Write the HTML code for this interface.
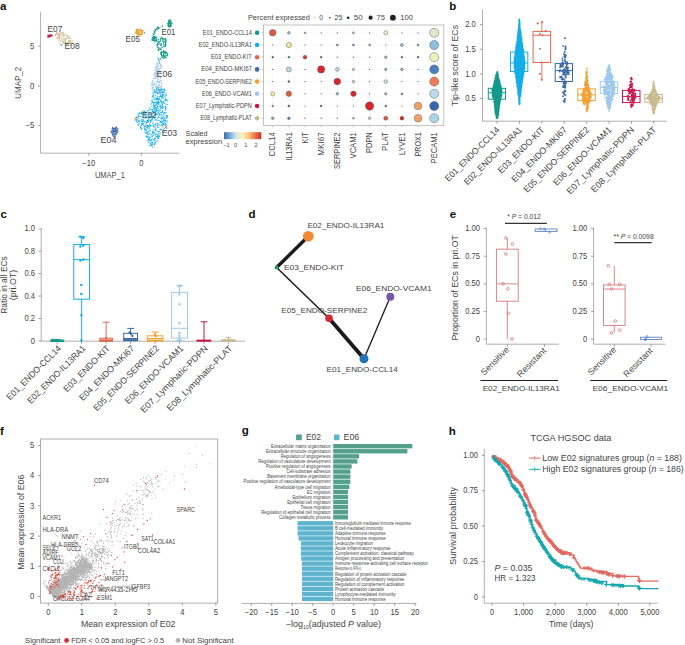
<!DOCTYPE html><html><head><meta charset="utf-8"><style>html,body{margin:0;padding:0;background:#fff;}svg{display:block;font-family:"Liberation Sans",sans-serif;}</style></head><body><svg width="685" height="645" viewBox="0 0 685 645"><rect width="685" height="645" fill="#fff"/><text x="0.00" y="10.40" font-size="11.5" fill="#111" font-weight="bold">a</text><text x="449.20" y="10.40" font-size="11.5" fill="#111" font-weight="bold">b</text><text x="0.60" y="217.80" font-size="11.5" fill="#111" font-weight="bold">c</text><text x="248.60" y="217.80" font-size="11.5" fill="#111" font-weight="bold">d</text><text x="449.80" y="218.00" font-size="11.5" fill="#111" font-weight="bold">e</text><text x="0.00" y="434.90" font-size="11.5" fill="#111" font-weight="bold">f</text><text x="241.80" y="433.60" font-size="11.5" fill="#111" font-weight="bold">g</text><text x="448.80" y="434.90" font-size="11.5" fill="#111" font-weight="bold">h</text><line x1="40.60" y1="12.00" x2="40.60" y2="153.20" stroke="#9a9a9a" stroke-width="0.8"/><line x1="40.60" y1="153.20" x2="179.20" y2="153.20" stroke="#9a9a9a" stroke-width="0.8"/><line x1="38.00" y1="46.10" x2="40.60" y2="46.10" stroke="#888" stroke-width="0.8"/><text x="34.30" y="48.70" font-size="8.13" text-anchor="end" textLength="4.23" lengthAdjust="spacingAndGlyphs" fill="#444">5</text><line x1="38.00" y1="86.00" x2="40.60" y2="86.00" stroke="#888" stroke-width="0.8"/><text x="34.30" y="88.60" font-size="8.13" text-anchor="end" textLength="4.23" lengthAdjust="spacingAndGlyphs" fill="#444">0</text><line x1="38.00" y1="125.60" x2="40.60" y2="125.60" stroke="#888" stroke-width="0.8"/><text x="34.30" y="128.20" font-size="8.13" text-anchor="end" textLength="8.67" lengthAdjust="spacingAndGlyphs" fill="#444">−5</text><line x1="88.80" y1="153.20" x2="88.80" y2="155.80" stroke="#888" stroke-width="0.8"/><text x="88.80" y="165.60" font-size="8.13" text-anchor="middle" textLength="12.89" lengthAdjust="spacingAndGlyphs" fill="#444">−10</text><line x1="141.40" y1="153.20" x2="141.40" y2="155.80" stroke="#888" stroke-width="0.8"/><text x="141.40" y="165.60" font-size="8.13" text-anchor="middle" textLength="4.23" lengthAdjust="spacingAndGlyphs" fill="#444">0</text><text x="109.85" y="177.90" font-size="8.99" text-anchor="middle" textLength="29.90" lengthAdjust="spacingAndGlyphs" fill="#444">UMAP_1</text><text x="21.00" y="82.80" font-size="9.2" text-anchor="middle" textLength="31.80" lengthAdjust="spacingAndGlyphs" fill="#444" transform="rotate(-90 21.00 82.80)">UMAP_2</text><path d="M159.6 60.5h0M158.2 70.8h0M156.8 86.9h0M159.3 91.2h0M158.7 71.9h0M155.4 86.6h0M153.8 78.4h0M159.5 71.0h0M158.3 60.2h0M160.0 73.0h0M155.4 78.5h0M157.2 68.5h0M161.4 82.5h0M154.6 78.1h0M158.1 88.6h0M160.6 68.1h0M156.7 84.5h0M160.2 78.8h0M158.7 74.0h0M162.0 91.1h0M157.4 81.2h0M152.3 82.6h0M159.6 92.8h0M156.3 81.4h0M152.2 84.9h0M156.4 88.5h0M158.4 88.9h0M161.7 88.2h0M155.0 72.5h0M156.0 88.9h0M154.4 75.0h0M158.9 67.2h0M156.1 77.8h0M157.9 79.6h0M160.0 59.9h0M156.4 72.0h0M152.8 80.2h0M151.8 88.6h0M159.2 63.2h0M162.1 92.8h0M157.3 74.9h0M155.8 67.3h0M158.1 63.1h0M158.3 58.9h0M158.1 92.2h0M154.8 70.8h0M153.6 85.0h0M158.2 85.3h0M161.6 92.5h0M154.3 76.1h0M154.7 82.2h0M163.2 92.6h0M159.3 89.5h0M159.7 86.0h0M152.6 81.1h0M153.7 85.6h0M155.7 86.0h0M156.5 91.1h0M160.6 64.0h0M153.3 86.9h0M155.9 77.2h0M158.1 90.7h0M156.9 88.5h0M161.8 65.4h0M154.5 78.5h0M154.7 72.7h0M153.1 89.9h0M155.9 74.0h0M158.8 89.7h0M156.8 90.1h0M157.8 76.6h0M158.0 58.7h0M157.0 64.4h0M160.6 77.5h0M155.6 76.1h0M158.4 85.4h0M158.5 84.6h0M159.2 75.7h0M157.9 82.2h0M157.2 76.7h0M157.5 91.0h0M160.2 88.7h0M158.5 91.0h0M152.4 81.4h0M161.3 89.4h0M153.4 83.1h0M159.8 63.0h0M162.5 91.9h0M154.2 91.3h0M156.5 75.1h0M157.9 69.9h0M160.5 58.7h0M158.4 73.4h0M159.3 75.9h0M152.3 92.5h0M161.4 92.0h0M152.0 85.3h0M156.8 89.9h0M161.7 67.1h0M153.4 90.2h0M158.6 82.5h0M160.1 72.9h0M152.4 90.8h0M159.4 86.1h0M152.5 88.0h0M152.3 88.2h0M157.2 69.9h0M158.4 90.4h0M158.1 66.3h0M155.4 68.7h0M161.0 68.1h0M157.8 64.2h0M160.7 77.3h0M153.9 74.6h0M157.7 87.2h0M156.4 75.7h0M160.1 92.4h0M155.8 87.1h0M160.3 80.3h0M156.6 70.2h0M152.4 83.9h0M152.6 87.4h0M155.2 74.1h0M154.8 91.7h0M154.6 91.8h0M155.4 70.5h0M157.4 75.6h0M154.0 75.7h0M158.8 76.5h0M160.9 81.0h0M160.4 88.8h0M156.4 69.4h0M160.6 80.5h0M152.0 87.2h0M160.7 86.4h0M157.8 87.2h0M161.6 86.9h0M158.8 89.2h0M160.0 82.3h0M152.8 87.3h0M158.5 80.0h0M159.3 81.8h0M157.6 58.1h0M161.5 84.2h0M157.8 76.7h0M159.7 60.3h0M160.7 66.8h0M160.6 65.2h0M160.7 92.2h0M157.7 71.4h0M157.5 81.9h0M159.5 60.7h0M160.8 68.7h0M158.6 58.4h0M159.9 82.2h0M159.9 68.2h0M158.0 74.3h0M157.3 62.1h0M161.7 91.9h0M157.1 67.4h0M154.1 91.1h0M154.1 78.4h0M154.4 89.4h0M157.6 58.9h0M157.1 68.6h0M155.5 87.4h0M151.5 84.3h0M156.2 71.8h0M156.0 73.0h0M152.8 87.2h0M155.1 90.7h0M157.9 64.6h0M156.2 91.5h0M159.4 90.0h0M160.5 59.7h0M160.7 73.8h0M160.9 80.6h0M157.4 70.0h0M155.2 83.9h0M159.7 68.5h0M158.5 71.8h0M154.1 89.7h0M157.7 65.7h0M162.8 92.9h0M157.1 62.9h0M158.6 89.1h0M160.9 72.4h0M156.7 76.3h0M156.2 69.8h0M157.8 80.0h0M156.5 73.6h0M151.9 82.8h0M158.8 58.0h0M156.4 90.4h0M161.8 87.9h0M158.0 81.9h0M159.6 84.8h0M157.2 77.3h0M152.0 85.4h0M154.4 90.2h0M159.6 68.6h0M159.5 82.5h0M158.1 78.4h0M156.4 65.8h0M159.0 58.4h0M155.3 74.1h0M157.7 81.6h0M156.8 67.0h0M159.8 90.4h0M155.7 72.7h0M160.0 64.9h0M161.5 83.9h0M157.8 65.2h0M161.8 66.1h0M154.3 84.6h0M155.2 91.3h0M157.7 64.6h0M154.3 72.6h0M159.8 91.2h0M154.2 92.1h0M162.7 88.9h0M160.7 92.9h0M153.8 90.8h0M160.8 59.1h0M159.8 71.3h0M156.2 69.6h0M155.0 70.3h0M156.0 86.8h0M156.2 90.2h0M156.6 86.4h0M161.1 59.4h0M160.8 89.4h0M155.7 67.5h0M154.8 83.1h0M155.5 67.6h0M151.5 84.4h0M154.4 74.6h0M163.5 91.4h0M156.3 66.8h0M156.9 75.3h0M161.5 83.8h0M161.8 85.0h0M159.1 69.5h0M155.5 70.7h0M161.3 60.8h0M154.0 84.4h0M155.6 92.3h0M162.5 92.6h0M160.4 73.6h0M154.4 72.6h0M159.3 81.6h0M160.8 87.6h0M159.8 62.2h0M158.6 71.1h0M160.7 65.0h0M153.4 88.9h0M158.7 69.4h0M156.5 92.7h0M157.8 66.1h0M157.4 86.7h0" stroke="#9ec9ea" stroke-width="1.10" stroke-linecap="round" fill="none"/><path d="M167.1 122.0h0M165.7 109.3h0M163.6 113.9h0M166.2 93.3h0M154.7 124.2h0M143.4 123.0h0M156.5 99.2h0M157.4 98.1h0M161.2 119.9h0M148.0 120.0h0M156.1 92.5h0M145.3 121.0h0M146.8 112.0h0M159.0 99.2h0M149.0 136.2h0M148.4 140.0h0M135.5 120.1h0M156.1 141.6h0M137.9 124.3h0M147.2 117.3h0M152.2 142.5h0M138.6 116.4h0M165.6 110.3h0M164.8 124.2h0M162.2 96.6h0M160.9 100.3h0M148.3 137.8h0M162.4 98.0h0M142.2 111.0h0M152.1 110.0h0M136.4 120.7h0M160.0 89.3h0M162.7 94.1h0M154.8 120.0h0M155.7 105.4h0M148.9 122.0h0M149.0 126.5h0M149.7 113.3h0M160.2 133.8h0M139.2 112.8h0M138.0 113.5h0M156.0 91.9h0M159.2 133.7h0M151.6 109.7h0M166.4 95.2h0M159.2 135.9h0M151.2 144.4h0M165.2 96.9h0M160.0 96.5h0M164.6 103.5h0M161.9 95.6h0M151.6 142.2h0M151.7 106.1h0M157.4 140.7h0M138.8 118.8h0M156.0 108.6h0M163.8 120.3h0M154.1 140.0h0M155.8 110.7h0M161.3 102.9h0M146.9 132.9h0M159.5 89.9h0M162.1 102.2h0M154.3 126.8h0M155.3 112.9h0M151.9 140.7h0M156.6 88.3h0M142.4 122.0h0M154.4 99.3h0M155.6 115.5h0M138.2 125.3h0M153.6 108.0h0M156.3 113.6h0M136.5 118.9h0M166.1 95.5h0M141.6 123.5h0M151.7 125.5h0M161.8 97.5h0M160.8 129.9h0M159.6 114.9h0M159.5 114.1h0M146.1 132.0h0M157.9 137.7h0M158.5 103.0h0M153.3 113.2h0M161.0 118.4h0M143.8 125.5h0M166.8 100.0h0M159.6 106.6h0M164.0 106.7h0M155.8 128.6h0M150.5 137.4h0M158.0 138.5h0M149.4 130.5h0M153.8 105.5h0M142.0 124.4h0M157.9 125.0h0M158.0 131.2h0M137.2 122.4h0M147.0 136.1h0M155.9 136.5h0M155.8 104.2h0M160.0 99.3h0M145.5 112.4h0M144.3 129.9h0M166.8 117.2h0M163.1 124.1h0M149.4 133.4h0M146.4 129.3h0M152.8 100.0h0M163.5 92.5h0M162.1 97.2h0M151.2 134.8h0M141.1 116.7h0M146.5 136.9h0M158.1 116.9h0M138.6 125.2h0M158.0 134.2h0M155.7 108.3h0M148.2 110.7h0M164.4 92.2h0M164.7 117.1h0M147.5 140.0h0M142.7 114.7h0M152.5 132.3h0M159.8 125.8h0M156.8 131.5h0M140.6 113.3h0M160.5 121.8h0M139.2 114.7h0M164.2 101.3h0M158.2 137.6h0M152.2 96.7h0M159.2 113.1h0M141.5 125.3h0M148.2 134.5h0M157.9 117.0h0M155.9 114.8h0M139.7 123.2h0M148.4 131.5h0M165.0 112.8h0M153.9 131.9h0M160.5 129.0h0M163.1 127.8h0M156.2 114.2h0M145.3 124.7h0M160.8 129.8h0M155.8 102.0h0M149.0 114.3h0M155.5 111.6h0M141.0 126.3h0M160.7 110.3h0M151.2 145.5h0M136.3 119.6h0M166.0 118.2h0M138.3 121.5h0M152.9 130.0h0M151.9 125.4h0M162.4 118.3h0M141.9 128.1h0M148.0 132.8h0M144.1 111.0h0M148.9 128.9h0M166.0 118.6h0M161.7 125.1h0M150.5 120.7h0M146.7 125.3h0M153.1 94.5h0M162.5 108.3h0M163.1 103.0h0M145.0 115.8h0M149.1 125.2h0M156.8 108.7h0M156.6 102.0h0M155.1 133.9h0M157.1 140.6h0M141.5 128.6h0M152.5 131.5h0M149.5 140.0h0M153.3 102.9h0M151.2 116.9h0M152.8 138.8h0M150.4 120.8h0M157.0 137.4h0M147.4 112.1h0M156.0 125.2h0M151.9 116.1h0M158.7 124.5h0M147.1 115.5h0M152.3 133.2h0M142.0 113.1h0M148.9 120.2h0M162.3 104.6h0M162.3 111.2h0M151.6 103.3h0M151.7 145.5h0M156.6 134.5h0M144.9 122.2h0M155.9 134.1h0M164.2 119.7h0M165.4 123.5h0M156.7 134.3h0M165.0 123.7h0M155.4 124.6h0M158.0 122.8h0M157.5 99.8h0M157.0 114.5h0M160.2 93.1h0M156.6 109.1h0M153.5 102.5h0M145.0 112.3h0M145.5 112.8h0M136.8 121.1h0M161.7 121.5h0M165.3 113.8h0M154.5 143.3h0M167.4 115.5h0M156.3 99.7h0M158.7 101.5h0M159.2 98.2h0M158.5 138.3h0M159.1 92.1h0M155.7 129.6h0M150.2 142.9h0M158.7 87.7h0M162.0 91.8h0M145.3 130.8h0M147.1 121.5h0M149.5 127.6h0M147.0 125.7h0M155.8 112.1h0M147.7 134.2h0M153.7 104.5h0M158.2 136.6h0M146.0 123.3h0M154.8 105.5h0M149.1 140.3h0M147.4 128.1h0M154.9 140.8h0M161.6 104.0h0M148.9 122.2h0M153.9 103.4h0M153.3 134.8h0M165.7 101.0h0M155.0 127.7h0M161.1 114.6h0M160.5 101.0h0M154.1 140.8h0M164.2 118.3h0M150.7 122.4h0M147.0 120.9h0M148.3 118.0h0M138.5 125.0h0M161.0 96.4h0M154.7 107.7h0M163.6 116.2h0M153.7 102.7h0M160.7 112.6h0M153.4 139.2h0M150.1 143.8h0M165.0 90.9h0M154.7 110.8h0M143.5 120.9h0M157.1 110.6h0M162.6 89.8h0M161.0 129.6h0M157.3 104.9h0M154.5 132.5h0M157.4 87.8h0M158.7 98.7h0M139.6 113.8h0M162.8 124.7h0M149.9 107.4h0M162.2 115.7h0M155.7 95.6h0M158.6 120.2h0M143.8 111.7h0M162.7 107.1h0M140.5 116.5h0M157.1 99.7h0M150.8 104.2h0M164.6 90.4h0M159.0 104.6h0M161.6 107.5h0M162.5 118.6h0M141.1 113.1h0M165.1 100.1h0M153.9 95.3h0M158.5 98.8h0M155.1 116.7h0M155.2 129.5h0M161.8 122.0h0M159.2 111.5h0M158.8 90.3h0M161.8 107.1h0M165.0 115.6h0M163.8 103.0h0M147.2 122.7h0M149.7 117.9h0M145.6 129.7h0M147.6 132.1h0M166.5 116.7h0M151.9 118.8h0M166.9 100.4h0M158.1 98.7h0M154.0 118.4h0M158.2 93.2h0M163.7 130.0h0M151.3 117.0h0M154.5 138.7h0M139.9 121.4h0M159.6 96.9h0M147.8 112.2h0M162.7 118.5h0M160.6 107.3h0M136.8 118.0h0M143.2 112.3h0M155.9 108.9h0M149.3 117.3h0M165.9 125.0h0M164.2 89.1h0M156.2 102.9h0M157.4 103.4h0M152.9 142.5h0M155.5 102.0h0M152.2 113.0h0M166.4 104.3h0M145.1 125.9h0M139.0 122.7h0M166.6 117.8h0M143.9 115.0h0M152.6 95.9h0M144.7 111.4h0M137.9 119.8h0M162.7 123.6h0M153.8 126.0h0M150.2 119.9h0M155.2 115.1h0M142.3 117.7h0M147.6 122.1h0M163.4 101.3h0M153.4 116.5h0M163.8 113.4h0M149.5 131.1h0M146.6 127.5h0M155.3 138.0h0M162.1 118.1h0M159.4 131.6h0M160.1 115.5h0M160.9 129.5h0M165.2 94.6h0M160.3 122.2h0M151.4 144.8h0M153.9 112.1h0M155.0 109.8h0M149.9 114.5h0M158.9 104.6h0M147.9 120.3h0M151.5 113.6h0M139.8 121.5h0M154.2 92.3h0M165.4 106.4h0M166.6 99.3h0M149.1 141.6h0M153.6 116.8h0M152.8 146.9h0M152.1 118.0h0M157.6 110.4h0M146.8 122.7h0M157.3 118.5h0M148.2 120.7h0M153.9 139.8h0M166.8 116.2h0M149.5 124.5h0M152.5 136.0h0M164.5 128.4h0M164.3 112.3h0M151.9 117.3h0M155.8 123.2h0M156.0 89.5h0M148.6 134.3h0M145.1 128.4h0M162.8 122.2h0M157.0 98.8h0M151.4 120.2h0M143.8 125.8h0M152.5 146.8h0M154.0 111.7h0M160.1 93.4h0M152.2 136.4h0M155.2 135.4h0M160.4 106.4h0M158.6 108.2h0M154.2 107.9h0M149.8 110.1h0M154.2 144.6h0M149.5 124.2h0M161.9 105.2h0M154.9 144.6h0M151.4 144.0h0M158.7 100.3h0M151.0 134.6h0M167.1 104.4h0M153.5 93.9h0M152.6 110.1h0M156.9 107.5h0M162.6 94.7h0M149.6 137.2h0M161.6 96.6h0M146.6 130.3h0M151.7 100.6h0M158.3 102.6h0M164.7 122.3h0M155.1 99.8h0M163.8 94.4h0M151.9 119.6h0M147.7 126.5h0M153.7 105.6h0M145.6 126.8h0M138.6 120.7h0M146.9 117.0h0M144.3 111.2h0M156.9 108.1h0M148.6 126.5h0M158.1 101.9h0M162.9 108.1h0M155.8 97.9h0M159.2 129.8h0M156.1 97.8h0M162.7 121.2h0M158.6 102.3h0M149.4 128.1h0M163.2 123.4h0M159.7 92.2h0M157.9 110.6h0M159.7 136.7h0M166.2 112.4h0M159.4 136.8h0M155.7 114.2h0M149.1 117.7h0M165.6 94.7h0M160.1 89.6h0M158.2 135.3h0M143.6 119.8h0M152.9 102.0h0M158.3 127.2h0M152.0 113.7h0M165.9 108.1h0M139.7 120.8h0M146.0 135.9h0M153.1 132.6h0M140.6 127.0h0M154.8 114.7h0M141.5 129.1h0M145.7 115.1h0M167.3 120.8h0M138.6 116.3h0M165.3 125.7h0M155.7 143.1h0M156.5 102.1h0M162.7 104.8h0M141.1 125.3h0M162.4 131.5h0M162.2 106.2h0M147.2 120.1h0M147.2 136.9h0M153.7 124.7h0M162.1 129.3h0M151.3 117.0h0M154.2 91.8h0M157.7 96.8h0M149.6 145.2h0M158.9 87.2h0M161.0 112.5h0M144.3 126.7h0M152.0 112.3h0M146.2 113.3h0M157.0 136.6h0M164.8 96.9h0M144.8 113.6h0M153.6 107.9h0M145.7 114.6h0M166.7 124.2h0M161.8 90.6h0M157.3 123.5h0M144.8 121.3h0M166.4 115.8h0M156.4 105.0h0M157.4 113.8h0M147.3 121.8h0M148.7 118.8h0M153.6 110.8h0M164.4 119.9h0M152.5 102.1h0M151.1 120.2h0M142.5 121.4h0M138.7 117.8h0M154.4 91.8h0M149.5 138.8h0M153.2 129.9h0M160.0 93.9h0M166.7 120.8h0M160.6 95.2h0M160.6 90.5h0M158.3 112.6h0M164.3 124.3h0M163.8 120.8h0M146.3 132.8h0M157.5 136.5h0M158.8 89.6h0M154.9 93.0h0M153.1 135.2h0M157.3 102.3h0M141.4 113.8h0M162.7 121.9h0M141.1 120.3h0M144.6 128.2h0M163.9 119.3h0M157.8 135.5h0M151.6 139.4h0M161.4 89.1h0M157.4 110.6h0M162.9 110.6h0M163.8 123.7h0M150.4 121.6h0M150.2 146.2h0M157.1 103.4h0M144.0 117.0h0M143.6 121.1h0M152.4 144.4h0M153.5 133.3h0M155.9 125.1h0M145.0 132.8h0M159.4 117.5h0M156.0 108.0h0M153.2 111.4h0M150.9 109.0h0M150.0 113.7h0M153.8 105.1h0M159.0 120.1h0M165.9 107.4h0M165.4 122.0h0M146.8 133.5h0M149.1 139.1h0M137.2 116.1h0M164.7 103.6h0M158.2 100.1h0M154.9 138.8h0M156.4 98.8h0M154.8 91.8h0M141.2 119.2h0M163.9 125.4h0M165.5 99.7h0M145.8 132.0h0M156.4 111.3h0M157.4 107.3h0M146.0 116.7h0M154.7 102.4h0M165.5 120.8h0M155.3 130.4h0M160.3 92.4h0M161.9 112.4h0M152.8 122.3h0M153.3 126.4h0M154.9 106.9h0M159.5 102.5h0M158.5 132.8h0M160.6 105.6h0M152.3 143.5h0M150.7 126.3h0M160.5 108.7h0M167.7 100.7h0M160.0 92.4h0M137.0 117.1h0M153.3 97.9h0M166.0 108.9h0M160.7 101.6h0M167.4 116.9h0M156.0 107.7h0M161.4 114.6h0M148.3 138.8h0M137.0 120.9h0M148.5 142.1h0M166.2 124.6h0M143.7 113.0h0M160.1 125.6h0M142.1 121.2h0M163.7 103.0h0M159.8 136.4h0M151.0 140.5h0M140.3 128.0h0M154.7 114.2h0M154.1 140.0h0M146.9 133.8h0M163.5 97.9h0M157.5 92.4h0M157.8 89.3h0M151.7 100.9h0M139.0 116.2h0M139.5 112.7h0M140.9 128.1h0M146.7 116.8h0M165.3 108.0h0M136.4 117.5h0M148.5 120.4h0M157.7 126.2h0M153.0 119.9h0M163.8 130.1h0M147.8 110.1h0M155.1 142.6h0M143.4 123.7h0M165.0 90.0h0M157.9 106.5h0M156.3 119.9h0M163.2 117.6h0M142.7 124.8h0M159.5 109.7h0M158.5 110.6h0M152.4 123.8h0M157.3 106.3h0M155.8 119.6h0M142.4 123.8h0M150.6 130.3h0M152.2 115.6h0M165.6 118.7h0M152.3 118.6h0M161.8 101.3h0M150.2 125.4h0M163.6 89.6h0M147.6 136.9h0M162.0 94.4h0M161.5 118.3h0M157.9 114.0h0M150.8 134.9h0M160.0 96.0h0M157.4 109.0h0M152.2 101.3h0M141.6 121.2h0M158.7 103.5h0M162.5 92.5h0M156.0 138.5h0M141.7 112.4h0M161.1 124.1h0M149.6 109.0h0M158.5 104.7h0M148.5 125.9h0M161.8 108.1h0M147.7 121.7h0M165.5 98.5h0M147.3 126.9h0M159.9 109.8h0M152.4 116.8h0M150.3 114.7h0M162.7 111.9h0M150.6 140.4h0M149.5 116.5h0M151.9 136.5h0M157.1 131.4h0M157.4 120.2h0M160.4 133.2h0M159.9 120.9h0M158.5 116.0h0M148.8 122.0h0M163.8 95.7h0M146.0 118.1h0M163.3 120.3h0M151.9 112.2h0M163.3 102.4h0M152.7 109.4h0M150.3 116.3h0M154.3 108.9h0M161.4 99.0h0M165.3 120.4h0M152.6 111.5h0M153.6 106.4h0M144.6 129.6h0M161.5 122.5h0M150.0 143.1h0M149.7 139.7h0M156.1 89.9h0M163.5 91.3h0M154.7 97.8h0M165.4 120.7h0M161.4 116.9h0M157.2 127.5h0M162.7 95.7h0M165.3 99.4h0M148.7 126.5h0M157.6 96.3h0M154.2 106.1h0M153.5 96.2h0M165.1 106.5h0M162.8 96.1h0M147.5 125.4h0M142.4 119.7h0M138.1 114.9h0M159.0 112.8h0M157.4 93.9h0M162.3 94.3h0M166.0 118.6h0" stroke="#12aee9" stroke-width="1.10" stroke-linecap="round" fill="none"/><path d="M166.6 126.5h0M166.9 128.2h0M165.6 127.4h0M157.2 125.2h0M162.5 126.2h0M146.6 122.5h0M144.4 126.8h0" stroke="#e1684d" stroke-width="1.30" stroke-linecap="round" fill="none"/><path d="M135.6 118.0h0M136.2 119.0h0M135.0 118.8h0" stroke="#efa131" stroke-width="1.40" stroke-linecap="round" fill="none"/><path d="M168.8 22.0h0M171.1 23.3h0M169.8 26.4h0M170.3 23.7h0M168.7 26.7h0M169.1 27.1h0M169.0 22.9h0M168.6 25.4h0M168.3 25.8h0M170.1 19.8h0M170.1 25.8h0M170.3 23.0h0M167.6 23.4h0M167.9 24.6h0M168.0 24.0h0M169.1 22.2h0M170.6 20.4h0M169.0 26.2h0M171.7 23.1h0M169.8 23.6h0M168.0 23.0h0M168.2 23.6h0M169.9 22.2h0M168.4 22.5h0M168.6 26.5h0M169.9 26.7h0M169.8 25.8h0M170.2 24.9h0M168.5 25.5h0M168.2 21.3h0M169.9 21.5h0M170.2 21.0h0M170.3 25.7h0M168.6 24.2h0M170.4 24.9h0M171.4 21.9h0M171.4 23.0h0M169.4 19.8h0M168.6 25.3h0M170.7 20.3h0M169.1 20.2h0M168.4 20.9h0M169.8 23.3h0M171.1 24.5h0M168.4 24.4h0M167.9 25.2h0M169.1 20.4h0M170.3 22.7h0M171.4 25.7h0M172.1 23.6h0M168.6 26.2h0M168.5 20.7h0M169.6 21.0h0M169.8 26.8h0M170.8 25.1h0M169.3 25.7h0M171.3 24.9h0M169.4 19.7h0M170.6 26.2h0M169.1 24.1h0M171.5 25.8h0M171.4 22.6h0M170.4 22.9h0M169.0 20.8h0M169.1 26.3h0M170.4 21.5h0M170.8 22.8h0M170.6 25.9h0M168.0 24.9h0M168.3 21.3h0M168.5 26.7h0M170.4 26.7h0M169.3 23.3h0M172.1 23.4h0M169.6 26.0h0" stroke="#13998b" stroke-width="1.10" stroke-linecap="round" fill="none"/><path d="M158.8 27.6h0M155.8 30.3h0M158.3 28.2h0M155.1 32.7h0M157.0 29.2h0M154.2 31.9h0M155.2 29.3h0M155.1 31.0h0M162.4 25.6h0M154.6 31.0h0M153.0 35.5h0M162.3 26.4h0M153.1 37.3h0M155.0 31.1h0M157.1 28.1h0M158.6 27.3h0M154.3 31.3h0M154.9 31.4h0M158.0 28.5h0M154.2 33.0h0M155.6 30.2h0M158.1 28.8h0M153.6 36.7h0M160.1 27.0h0M157.4 28.7h0M153.1 38.1h0M153.1 37.7h0M156.9 29.5h0M156.2 29.6h0M159.1 28.6h0M156.8 28.8h0M153.6 34.5h0M153.2 33.9h0M154.4 32.0h0M158.0 28.2h0M158.2 27.5h0M154.7 34.3h0M154.6 31.8h0M158.8 27.8h0M155.5 29.9h0M157.0 28.8h0M157.4 26.9h0M154.4 31.1h0M157.9 28.5h0M157.1 28.8h0" stroke="#13998b" stroke-width="1.10" stroke-linecap="round" fill="none"/><path d="M153.6 37.2h0M156.7 39.5h0M154.6 40.4h0M153.5 36.4h0M154.0 39.3h0M156.6 40.3h0M155.0 38.6h0M154.9 37.8h0M156.6 41.1h0M156.5 37.0h0M155.5 40.9h0M154.5 41.8h0M156.9 40.8h0M156.4 40.2h0M155.7 40.6h0M155.2 37.8h0M151.9 39.9h0M156.4 37.8h0M152.8 37.5h0M152.1 40.4h0M157.3 41.2h0M153.7 40.5h0M155.3 36.9h0M154.2 39.6h0M152.8 40.1h0M153.5 38.2h0M154.9 37.4h0M156.3 37.4h0M156.5 41.3h0M154.7 36.2h0M154.5 38.8h0M151.9 40.1h0M155.8 39.8h0M153.9 39.3h0M155.0 37.5h0M151.9 39.1h0M152.3 39.0h0M155.6 40.6h0M154.2 38.2h0M152.6 38.6h0M153.2 37.3h0M155.9 39.4h0M154.1 37.3h0M155.7 37.3h0M153.1 39.6h0M157.0 40.7h0M156.7 40.7h0M155.3 37.7h0M153.6 37.1h0M152.6 38.3h0M156.9 41.2h0M154.2 36.7h0M152.1 37.0h0M156.2 39.1h0M156.3 39.1h0" stroke="#13998b" stroke-width="1.10" stroke-linecap="round" fill="none"/><path d="M165.2 38.3h0M159.0 42.9h0M162.5 39.2h0M166.0 44.5h0M161.8 44.7h0M161.4 45.5h0M165.4 38.4h0M163.2 41.0h0M164.9 41.9h0M162.7 37.7h0M160.8 43.6h0M165.8 42.1h0M163.6 39.2h0M161.4 38.1h0M163.2 38.3h0M159.8 41.8h0M163.2 43.7h0M164.2 41.6h0M158.5 41.9h0M161.5 44.1h0M164.3 39.5h0M163.7 44.3h0M162.2 38.5h0M166.0 43.3h0M158.6 39.5h0M161.5 45.3h0M165.2 43.7h0M158.4 39.5h0M166.2 39.3h0M163.9 46.8h0M163.6 46.7h0M160.3 38.6h0M164.2 39.0h0M165.1 38.7h0M162.5 38.1h0M164.9 46.3h0M165.5 42.8h0M165.2 42.3h0M163.5 43.2h0M158.5 42.7h0M160.6 41.2h0M165.1 41.8h0M159.1 43.8h0M159.8 41.5h0M162.8 40.7h0M165.5 45.9h0M158.9 40.9h0M160.7 45.0h0M159.3 43.4h0M158.1 37.8h0M159.0 44.3h0M163.3 42.5h0M162.0 41.3h0M163.4 43.8h0M166.1 44.7h0M165.0 46.6h0M165.4 44.5h0M165.5 41.5h0M165.7 38.9h0M166.3 41.6h0M164.2 39.7h0M160.6 40.7h0M160.9 38.0h0M161.9 47.3h0M163.8 46.8h0M164.7 45.8h0M160.4 39.6h0M161.6 37.2h0M166.1 40.5h0M164.8 45.1h0M165.8 45.3h0M162.7 38.1h0M165.3 40.3h0M163.5 40.9h0M162.7 47.1h0" stroke="#13998b" stroke-width="1.10" stroke-linecap="round" fill="none"/><path d="M157.4 47.6h0M160.1 47.7h0M161.5 49.2h0M157.7 45.0h0M157.9 49.5h0M158.9 49.2h0M160.3 49.8h0M160.0 48.2h0M160.1 48.3h0M160.3 45.2h0M156.6 45.8h0M157.3 43.2h0M157.1 45.2h0M158.7 49.2h0M158.9 49.6h0M158.4 50.7h0M160.9 49.0h0M159.7 48.9h0M157.5 43.5h0M158.6 48.8h0M158.5 47.5h0M157.1 44.6h0M158.6 50.0h0M157.7 44.0h0M157.7 46.0h0" stroke="#13998b" stroke-width="1.10" stroke-linecap="round" fill="none"/><path d="M163.2 55.6h0M164.0 57.5h0M167.0 52.4h0M160.4 54.0h0M161.1 54.2h0M161.2 54.3h0M161.6 52.3h0M163.8 51.4h0M160.8 53.4h0M164.0 58.0h0M164.7 51.1h0M162.0 56.5h0M164.8 57.5h0M164.5 52.4h0M161.9 51.2h0M162.3 57.9h0M163.9 56.4h0M160.8 54.1h0M162.8 52.1h0M165.6 53.4h0M164.1 51.9h0M164.0 56.4h0M164.6 52.4h0M164.2 55.3h0M165.5 51.7h0M166.2 57.4h0M163.2 57.7h0M161.7 52.3h0M165.0 57.7h0M160.9 52.2h0M160.5 54.0h0M161.3 52.0h0M166.3 55.2h0M164.1 54.6h0M167.9 54.4h0M162.0 57.2h0M163.9 52.3h0M163.5 53.2h0M163.2 51.8h0M165.1 52.6h0M163.9 55.0h0M162.1 51.5h0M161.3 54.7h0M164.9 57.6h0M160.7 52.4h0M161.6 55.2h0M163.9 53.8h0M167.4 55.8h0M162.4 58.0h0M163.5 50.9h0M167.3 53.9h0M164.5 57.3h0M166.7 55.7h0M164.4 51.4h0M162.2 55.8h0M164.9 56.9h0M167.5 55.1h0M161.7 56.0h0M162.3 52.4h0M163.2 54.7h0M166.2 55.5h0M164.0 55.9h0M164.1 55.9h0M165.9 55.7h0M166.6 52.4h0M163.7 58.2h0M161.9 53.8h0M162.1 56.4h0M163.1 55.8h0M162.0 52.2h0M161.3 53.7h0M163.6 51.1h0M164.9 58.0h0M164.9 53.3h0M165.9 54.0h0M161.6 54.4h0M161.5 53.5h0M167.0 55.6h0M165.3 56.1h0M166.4 52.9h0" stroke="#13998b" stroke-width="1.10" stroke-linecap="round" fill="none"/><path d="M159.2 60.5h0M159.6 62.6h0M158.7 59.2h0M160.3 58.4h0" stroke="#13998b" stroke-width="1.00" stroke-linecap="round" fill="none"/><path d="M137.3 34.6h0M140.2 34.7h0M142.5 32.9h0M139.6 33.9h0M137.5 29.3h0M137.1 30.7h0M136.4 31.1h0M139.5 31.0h0M138.7 32.2h0M136.0 33.2h0M141.0 30.6h0M141.8 33.9h0M138.0 32.2h0M139.9 29.2h0M136.5 33.6h0M138.4 33.8h0M137.1 34.4h0M140.1 30.1h0M141.1 34.4h0M141.8 30.4h0M136.0 33.4h0M139.9 29.8h0M136.8 32.9h0M136.1 33.2h0M137.2 30.6h0M138.7 32.5h0M141.2 30.3h0M137.6 33.3h0M140.9 33.1h0M142.7 30.2h0M137.8 33.4h0M137.4 29.9h0M137.1 34.2h0M142.1 33.8h0M137.8 31.0h0M140.3 29.4h0M135.6 32.4h0M142.5 32.0h0M136.8 29.6h0M139.4 32.4h0M138.2 33.8h0M139.6 34.2h0M138.4 32.2h0M137.3 33.5h0M137.0 31.0h0M139.2 33.8h0M141.6 31.4h0M138.9 35.3h0M143.0 33.1h0M136.1 32.0h0M140.5 30.8h0M139.1 33.1h0M137.7 29.3h0M141.4 34.2h0M138.8 29.4h0M138.5 29.5h0M137.6 34.2h0M136.3 29.5h0M139.6 34.6h0M136.6 30.0h0M141.5 31.8h0M138.0 29.7h0M136.2 30.6h0M141.3 35.0h0M142.7 32.1h0M143.1 33.0h0M137.6 32.1h0M141.1 33.9h0M136.3 30.2h0M142.0 31.2h0M137.3 30.6h0M139.1 35.7h0M137.9 30.0h0M141.4 31.2h0M136.8 31.7h0M142.0 34.8h0M140.0 28.9h0M141.5 33.0h0M137.9 34.7h0M142.0 30.7h0M138.2 31.4h0M138.1 31.4h0M136.1 30.4h0M142.7 31.7h0M140.5 35.0h0M141.5 30.5h0M141.5 34.5h0M137.3 33.4h0M138.4 34.7h0M136.3 32.6h0M138.0 34.5h0M138.1 34.7h0M141.4 33.5h0M140.6 29.1h0M142.4 32.6h0M139.0 31.2h0M141.7 34.3h0M142.4 30.3h0M138.0 30.5h0M136.0 31.1h0M136.8 32.0h0M138.5 34.4h0M143.1 31.0h0M140.4 35.1h0M139.1 35.1h0M141.3 31.0h0M142.5 32.8h0M136.1 32.9h0M142.1 32.4h0M139.2 31.7h0" stroke="#efa131" stroke-width="1.10" stroke-linecap="round" fill="none"/><path d="M144.6 32.4h0M144.9 33.0h0" stroke="#13998b" stroke-width="1.00" stroke-linecap="round" fill="none"/><path d="M112.4 130.5h0M113.6 136.6h0M116.2 128.1h0M115.3 131.2h0M116.3 131.2h0M111.5 132.1h0M113.5 129.1h0M112.5 135.8h0M113.7 134.0h0M118.0 128.9h0M113.1 130.2h0M116.4 128.7h0M115.0 131.9h0M115.9 128.3h0M115.1 134.9h0M115.0 134.5h0M117.5 130.5h0M117.9 128.9h0M111.0 131.9h0M111.9 133.2h0M117.0 131.1h0M115.4 129.4h0M112.9 131.1h0M114.8 131.6h0M113.4 134.1h0M116.6 129.2h0M112.8 132.1h0M112.2 132.9h0M117.8 128.9h0M115.3 134.2h0M116.6 134.1h0M116.3 129.6h0M114.2 127.7h0M116.0 128.2h0M114.3 133.3h0M116.7 129.3h0M112.3 128.4h0M114.0 133.1h0M113.1 128.5h0M112.5 127.7h0M112.3 130.0h0M114.7 128.7h0M114.5 131.3h0M112.3 132.8h0M113.5 131.1h0M113.5 133.8h0M113.8 128.4h0M117.5 132.6h0M116.4 130.4h0M115.7 136.2h0M113.9 131.2h0M113.1 132.5h0M115.9 134.3h0M113.6 135.5h0M116.9 132.8h0M116.0 130.3h0M113.9 128.7h0M113.3 131.7h0M114.6 130.5h0M117.7 130.4h0M114.9 136.3h0M115.7 131.7h0M113.4 130.7h0M115.5 134.8h0M112.8 130.6h0M113.8 130.5h0M112.9 130.2h0M117.1 128.4h0M116.1 127.0h0M117.0 128.3h0M112.6 127.4h0M112.8 134.3h0M117.9 131.2h0M112.3 134.4h0M117.4 130.7h0M116.6 132.9h0M115.7 127.9h0M112.0 128.6h0M115.5 133.7h0M113.8 129.4h0M112.1 128.6h0M112.0 130.4h0M116.5 127.4h0M114.9 133.7h0M111.1 131.3h0M116.9 132.7h0M114.3 135.8h0M115.4 130.2h0M113.8 136.4h0M115.1 128.3h0M112.1 130.7h0M116.1 126.8h0M116.9 131.0h0M116.0 132.6h0M116.4 131.0h0" stroke="#3a67a6" stroke-width="1.10" stroke-linecap="round" fill="none"/><path d="M116.8 128.2h0M117.2 128.8h0" stroke="#9ec9ea" stroke-width="1.00" stroke-linecap="round" fill="none"/><path d="M49.1 35.5h0M48.9 36.9h0M50.9 35.3h0M51.2 35.1h0M50.5 34.8h0M51.7 35.8h0M48.9 37.0h0M48.0 37.0h0M51.2 34.8h0M51.3 36.0h0M49.7 37.0h0M48.0 36.6h0M48.1 35.2h0M48.1 36.8h0M49.7 36.4h0M48.8 36.4h0M50.7 34.7h0M50.0 36.4h0M48.6 36.2h0M48.9 35.4h0M52.4 35.6h0M50.3 36.7h0M51.2 35.7h0M51.7 35.5h0M52.2 35.7h0M48.2 36.5h0M48.3 36.3h0M47.9 37.2h0M50.2 36.5h0M48.2 36.2h0M49.4 35.1h0M47.8 35.7h0M49.9 36.4h0M51.1 35.4h0M48.3 36.7h0M50.0 35.3h0M48.4 37.0h0M49.9 36.6h0M48.8 37.0h0M48.7 36.9h0" stroke="#c8174d" stroke-width="1.20" stroke-linecap="round" fill="none"/><path d="M55.6 35.0h0" stroke="#c8174d" stroke-width="1.00" stroke-linecap="round" fill="none"/><path d="M62.6 36.1h0M61.0 32.4h0M56.1 35.2h0M69.0 36.8h0M62.7 42.9h0M65.6 39.2h0M63.7 34.4h0M65.5 43.2h0M58.6 35.1h0M58.9 33.5h0M64.8 40.0h0M65.5 39.2h0M62.9 37.0h0M60.6 35.3h0M64.1 42.2h0M60.8 32.1h0M63.6 32.8h0M61.1 32.4h0M63.0 33.6h0M63.4 39.0h0M68.7 40.9h0M59.1 33.8h0M67.8 44.2h0M63.9 35.9h0M63.7 35.5h0M71.1 44.8h0M61.4 39.5h0M61.7 37.8h0M68.0 37.8h0M64.9 42.0h0M72.3 41.5h0M56.6 33.0h0M59.8 37.5h0M65.1 38.5h0M65.8 36.1h0M57.1 38.3h0M67.0 40.3h0M62.2 33.0h0M57.8 32.6h0M62.6 40.9h0M66.7 44.5h0M65.9 43.6h0M59.2 33.6h0M69.9 42.7h0M63.0 41.5h0M67.7 37.9h0M58.6 35.5h0M67.2 35.5h0M69.2 37.9h0M69.4 40.3h0M68.5 43.0h0M68.2 43.4h0M59.0 40.5h0M62.7 41.5h0M62.1 39.1h0M59.8 37.0h0M67.6 44.1h0M65.5 42.0h0M59.8 35.5h0M66.1 35.2h0M65.5 43.1h0M62.4 32.6h0M70.0 42.4h0M64.3 43.4h0M69.6 41.9h0M63.2 34.2h0M64.0 35.2h0M70.5 45.1h0M70.7 40.6h0M57.3 34.4h0M58.9 35.2h0M70.6 40.9h0M66.0 42.4h0M63.7 33.9h0M71.6 42.6h0M67.7 37.1h0M70.2 44.1h0M59.5 38.8h0M65.0 33.4h0M59.6 36.8h0M64.8 37.0h0M65.1 40.9h0M67.9 44.2h0M69.8 42.3h0M65.9 38.8h0M72.1 40.6h0M62.5 36.4h0M69.5 40.8h0M59.1 34.7h0M58.2 38.0h0M63.3 42.4h0M57.5 34.1h0M64.8 42.4h0M67.6 35.5h0M56.8 33.1h0M59.1 35.0h0M56.8 36.9h0M59.1 35.6h0M58.6 36.1h0M58.0 38.5h0M63.9 43.4h0M62.4 33.3h0M64.1 35.5h0M57.1 38.4h0M56.8 32.8h0M67.9 37.1h0M68.3 44.5h0M59.0 35.4h0M56.4 33.9h0M66.1 38.5h0M55.9 36.0h0M64.8 42.5h0M66.1 39.2h0M66.1 38.6h0M64.6 42.6h0M65.4 40.3h0M59.1 37.5h0M69.7 42.6h0M71.3 43.5h0M59.1 39.4h0M64.8 43.5h0M61.6 34.5h0M65.6 38.6h0M60.6 34.1h0M70.3 43.6h0M61.5 34.8h0M63.8 42.4h0M63.3 38.6h0M72.1 43.2h0M62.7 41.6h0M70.9 44.2h0M61.6 41.2h0M70.1 42.0h0M62.9 42.9h0M69.0 38.2h0M67.5 37.1h0M67.1 34.5h0M67.6 42.7h0M68.8 41.6h0M58.6 38.2h0M60.8 40.7h0M70.7 42.2h0M56.6 33.8h0M64.2 39.8h0M59.2 39.3h0M60.0 41.5h0M58.0 38.1h0M59.3 34.6h0M69.2 38.3h0M70.4 41.4h0M66.0 43.9h0M58.9 36.3h0M68.6 36.1h0M60.3 38.2h0M63.9 40.4h0M63.4 34.1h0M64.4 43.3h0M64.1 33.9h0M66.3 42.5h0M58.1 34.3h0M67.1 44.0h0M67.1 44.2h0M58.0 33.0h0M59.8 33.8h0M69.8 37.6h0M57.0 38.3h0M67.7 37.8h0M60.0 32.1h0M69.7 41.5h0M70.6 38.2h0" stroke="#c9b98f" stroke-width="0.90" stroke-linecap="round" fill="none"/><path d="M60.5 44.0h0M61.5 44.8h0M62.0 45.5h0" stroke="#13998b" stroke-width="1.00" stroke-linecap="round" fill="none"/><text x="47.40" y="31.90" font-size="8.67" textLength="15.00" lengthAdjust="spacingAndGlyphs" fill="#444">E07</text><text x="64.50" y="48.60" font-size="8.67" textLength="15.20" lengthAdjust="spacingAndGlyphs" fill="#444">E08</text><text x="125.60" y="41.60" font-size="8.67" textLength="14.30" lengthAdjust="spacingAndGlyphs" fill="#444">E05</text><text x="161.60" y="35.40" font-size="8.67" textLength="13.60" lengthAdjust="spacingAndGlyphs" fill="#444">E01</text><text x="156.60" y="76.60" font-size="8.67" textLength="15.60" lengthAdjust="spacingAndGlyphs" fill="#444">E06</text><text x="142.00" y="117.80" font-size="8.67" textLength="14.70" lengthAdjust="spacingAndGlyphs" fill="#444">E02</text><text x="161.70" y="136.20" font-size="8.67" textLength="15.50" lengthAdjust="spacingAndGlyphs" fill="#444">E03</text><text x="100.60" y="143.10" font-size="8.67" textLength="16.00" lengthAdjust="spacingAndGlyphs" fill="#444">E04</text><rect x="263.50" y="25.00" width="180.30" height="100.30" fill="none" stroke="#a8a8a8" stroke-width="0.7"/><line x1="263.50" y1="32.80" x2="443.80" y2="32.80" stroke="#e4e4e4" stroke-width="0.5" stroke-dasharray="1 1"/><line x1="261.70" y1="32.80" x2="263.50" y2="32.80" stroke="#999" stroke-width="0.6"/><line x1="263.50" y1="45.00" x2="443.80" y2="45.00" stroke="#e4e4e4" stroke-width="0.5" stroke-dasharray="1 1"/><line x1="261.70" y1="45.00" x2="263.50" y2="45.00" stroke="#999" stroke-width="0.6"/><line x1="263.50" y1="57.20" x2="443.80" y2="57.20" stroke="#e4e4e4" stroke-width="0.5" stroke-dasharray="1 1"/><line x1="261.70" y1="57.20" x2="263.50" y2="57.20" stroke="#999" stroke-width="0.6"/><line x1="263.50" y1="69.40" x2="443.80" y2="69.40" stroke="#e4e4e4" stroke-width="0.5" stroke-dasharray="1 1"/><line x1="261.70" y1="69.40" x2="263.50" y2="69.40" stroke="#999" stroke-width="0.6"/><line x1="263.50" y1="81.60" x2="443.80" y2="81.60" stroke="#e4e4e4" stroke-width="0.5" stroke-dasharray="1 1"/><line x1="261.70" y1="81.60" x2="263.50" y2="81.60" stroke="#999" stroke-width="0.6"/><line x1="263.50" y1="93.80" x2="443.80" y2="93.80" stroke="#e4e4e4" stroke-width="0.5" stroke-dasharray="1 1"/><line x1="261.70" y1="93.80" x2="263.50" y2="93.80" stroke="#999" stroke-width="0.6"/><line x1="263.50" y1="106.00" x2="443.80" y2="106.00" stroke="#e4e4e4" stroke-width="0.5" stroke-dasharray="1 1"/><line x1="261.70" y1="106.00" x2="263.50" y2="106.00" stroke="#999" stroke-width="0.6"/><line x1="263.50" y1="118.20" x2="443.80" y2="118.20" stroke="#e4e4e4" stroke-width="0.5" stroke-dasharray="1 1"/><line x1="261.70" y1="118.20" x2="263.50" y2="118.20" stroke="#999" stroke-width="0.6"/><line x1="272.70" y1="25.00" x2="272.70" y2="125.30" stroke="#e4e4e4" stroke-width="0.5" stroke-dasharray="1 1"/><line x1="272.70" y1="125.30" x2="272.70" y2="127.10" stroke="#999" stroke-width="0.6"/><line x1="288.85" y1="25.00" x2="288.85" y2="125.30" stroke="#e4e4e4" stroke-width="0.5" stroke-dasharray="1 1"/><line x1="288.85" y1="125.30" x2="288.85" y2="127.10" stroke="#999" stroke-width="0.6"/><line x1="305.00" y1="25.00" x2="305.00" y2="125.30" stroke="#e4e4e4" stroke-width="0.5" stroke-dasharray="1 1"/><line x1="305.00" y1="125.30" x2="305.00" y2="127.10" stroke="#999" stroke-width="0.6"/><line x1="321.15" y1="25.00" x2="321.15" y2="125.30" stroke="#e4e4e4" stroke-width="0.5" stroke-dasharray="1 1"/><line x1="321.15" y1="125.30" x2="321.15" y2="127.10" stroke="#999" stroke-width="0.6"/><line x1="337.30" y1="25.00" x2="337.30" y2="125.30" stroke="#e4e4e4" stroke-width="0.5" stroke-dasharray="1 1"/><line x1="337.30" y1="125.30" x2="337.30" y2="127.10" stroke="#999" stroke-width="0.6"/><line x1="353.45" y1="25.00" x2="353.45" y2="125.30" stroke="#e4e4e4" stroke-width="0.5" stroke-dasharray="1 1"/><line x1="353.45" y1="125.30" x2="353.45" y2="127.10" stroke="#999" stroke-width="0.6"/><line x1="369.60" y1="25.00" x2="369.60" y2="125.30" stroke="#e4e4e4" stroke-width="0.5" stroke-dasharray="1 1"/><line x1="369.60" y1="125.30" x2="369.60" y2="127.10" stroke="#999" stroke-width="0.6"/><line x1="385.75" y1="25.00" x2="385.75" y2="125.30" stroke="#e4e4e4" stroke-width="0.5" stroke-dasharray="1 1"/><line x1="385.75" y1="125.30" x2="385.75" y2="127.10" stroke="#999" stroke-width="0.6"/><line x1="401.90" y1="25.00" x2="401.90" y2="125.30" stroke="#e4e4e4" stroke-width="0.5" stroke-dasharray="1 1"/><line x1="401.90" y1="125.30" x2="401.90" y2="127.10" stroke="#999" stroke-width="0.6"/><line x1="418.05" y1="25.00" x2="418.05" y2="125.30" stroke="#e4e4e4" stroke-width="0.5" stroke-dasharray="1 1"/><line x1="418.05" y1="125.30" x2="418.05" y2="127.10" stroke="#999" stroke-width="0.6"/><line x1="434.20" y1="25.00" x2="434.20" y2="125.30" stroke="#e4e4e4" stroke-width="0.5" stroke-dasharray="1 1"/><line x1="434.20" y1="125.30" x2="434.20" y2="127.10" stroke="#999" stroke-width="0.6"/><text x="251.80" y="34.80" font-size="7.28" text-anchor="end" textLength="49.00" lengthAdjust="spacingAndGlyphs" fill="#444">E01_ENDO-CCL14</text><circle cx="257.10" cy="32.80" r="2.30" fill="#13998b"/><text x="251.80" y="47.00" font-size="7.28" text-anchor="end" textLength="53.10" lengthAdjust="spacingAndGlyphs" fill="#444">E02_ENDO-IL13RA1</text><circle cx="257.10" cy="45.00" r="2.30" fill="#12aee9"/><text x="251.80" y="59.20" font-size="7.28" text-anchor="end" textLength="40.80" lengthAdjust="spacingAndGlyphs" fill="#444">E03_ENDO-KIT</text><circle cx="257.10" cy="57.20" r="2.30" fill="#e1684d"/><text x="251.80" y="71.40" font-size="7.28" text-anchor="end" textLength="50.50" lengthAdjust="spacingAndGlyphs" fill="#444">E04_ENDO-MKI67</text><circle cx="257.10" cy="69.40" r="2.30" fill="#3a67a6"/><text x="251.80" y="83.60" font-size="7.28" text-anchor="end" textLength="56.20" lengthAdjust="spacingAndGlyphs" fill="#444">E05_ENDO-SERPINE2</text><circle cx="257.10" cy="81.60" r="2.30" fill="#efa131"/><text x="251.80" y="95.80" font-size="7.28" text-anchor="end" textLength="49.80" lengthAdjust="spacingAndGlyphs" fill="#444">E06_ENDO-VCAM1</text><circle cx="257.10" cy="93.80" r="2.30" fill="#9ec9ea"/><text x="251.80" y="108.00" font-size="7.28" text-anchor="end" textLength="56.00" lengthAdjust="spacingAndGlyphs" fill="#444">E07_Lymphatic-PDPN</text><circle cx="257.10" cy="106.00" r="2.30" fill="#c8174d"/><text x="251.80" y="120.20" font-size="7.28" text-anchor="end" textLength="51.30" lengthAdjust="spacingAndGlyphs" fill="#444">E08_Lymphatic-PLAT</text><circle cx="257.10" cy="118.20" r="2.30" fill="#c9b98f"/><text x="275.40" y="132.30" font-size="8.13" text-anchor="end" textLength="24.10" lengthAdjust="spacingAndGlyphs" fill="#444" transform="rotate(-90 275.40 132.30)">CCL14</text><text x="291.55" y="132.30" font-size="8.13" text-anchor="end" textLength="28.20" lengthAdjust="spacingAndGlyphs" fill="#444" transform="rotate(-90 291.55 132.30)">IL13RA1</text><text x="307.70" y="132.30" font-size="8.13" text-anchor="end" textLength="11.20" lengthAdjust="spacingAndGlyphs" fill="#444" transform="rotate(-90 307.70 132.30)">KIT</text><text x="323.85" y="132.30" font-size="8.13" text-anchor="end" textLength="23.40" lengthAdjust="spacingAndGlyphs" fill="#444" transform="rotate(-90 323.85 132.30)">MKI67</text><text x="340.00" y="132.30" font-size="8.13" text-anchor="end" textLength="36.70" lengthAdjust="spacingAndGlyphs" fill="#444" transform="rotate(-90 340.00 132.30)">SERPINE2</text><text x="356.15" y="132.30" font-size="8.13" text-anchor="end" textLength="26.10" lengthAdjust="spacingAndGlyphs" fill="#444" transform="rotate(-90 356.15 132.30)">VCAM1</text><text x="372.30" y="132.30" font-size="8.13" text-anchor="end" textLength="20.60" lengthAdjust="spacingAndGlyphs" fill="#444" transform="rotate(-90 372.30 132.30)">PDPN</text><text x="388.45" y="132.30" font-size="8.13" text-anchor="end" textLength="18.70" lengthAdjust="spacingAndGlyphs" fill="#444" transform="rotate(-90 388.45 132.30)">PLAT</text><text x="404.60" y="132.30" font-size="8.13" text-anchor="end" textLength="22.80" lengthAdjust="spacingAndGlyphs" fill="#444" transform="rotate(-90 404.60 132.30)">LYVE1</text><text x="420.75" y="132.30" font-size="8.13" text-anchor="end" textLength="24.20" lengthAdjust="spacingAndGlyphs" fill="#444" transform="rotate(-90 420.75 132.30)">PROX1</text><text x="436.90" y="132.30" font-size="8.13" text-anchor="end" textLength="31.10" lengthAdjust="spacingAndGlyphs" fill="#444" transform="rotate(-90 436.90 132.30)">PECAM1</text><circle cx="272.70" cy="32.80" r="3.30" fill="#df5a3c" stroke="#555" stroke-width="0.45"/><circle cx="288.85" cy="32.80" r="1.30" fill="#8ab8d8" stroke="#555" stroke-width="0.45"/><circle cx="305.00" cy="32.80" r="0.80" fill="#9a9a6a" stroke="#555" stroke-width="0.45"/><circle cx="321.15" cy="32.80" r="0.60" fill="#3d5f85"/><circle cx="337.30" cy="32.80" r="0.60" fill="#3d5f85"/><circle cx="353.45" cy="32.80" r="1.00" fill="#8ab8d8" stroke="#555" stroke-width="0.45"/><circle cx="369.60" cy="32.80" r="0.60" fill="#3d5f85"/><circle cx="385.75" cy="32.80" r="2.00" fill="#edf0c0" stroke="#555" stroke-width="0.45"/><circle cx="401.90" cy="32.80" r="0.60" fill="#3d5f85"/><circle cx="418.05" cy="32.80" r="0.60" fill="#3d5f85"/><circle cx="434.20" cy="32.80" r="4.50" fill="#dcecc6" stroke="#555" stroke-width="0.45"/><circle cx="272.70" cy="45.00" r="0.60" fill="#3d5f85"/><circle cx="288.85" cy="45.00" r="2.60" fill="#f5ea9a" stroke="#555" stroke-width="0.45"/><circle cx="305.00" cy="45.00" r="0.60" fill="#3d5f85"/><circle cx="321.15" cy="45.00" r="0.60" fill="#3d5f85"/><circle cx="337.30" cy="45.00" r="1.00" fill="#6a96c2" stroke="#555" stroke-width="0.45"/><circle cx="353.45" cy="45.00" r="1.00" fill="#6a96c2" stroke="#555" stroke-width="0.45"/><circle cx="369.60" cy="45.00" r="0.90" fill="#6a96c2" stroke="#555" stroke-width="0.45"/><circle cx="385.75" cy="45.00" r="0.60" fill="#3d5f85"/><circle cx="401.90" cy="45.00" r="1.50" fill="#8ec3e0" stroke="#555" stroke-width="0.45"/><circle cx="418.05" cy="45.00" r="1.00" fill="#6a96c2" stroke="#555" stroke-width="0.45"/><circle cx="434.20" cy="45.00" r="4.50" fill="#8cc2df" stroke="#555" stroke-width="0.45"/><circle cx="272.70" cy="57.20" r="0.90" fill="#33598a" stroke="#555" stroke-width="0.45"/><circle cx="288.85" cy="57.20" r="0.90" fill="#33598a" stroke="#555" stroke-width="0.45"/><circle cx="305.00" cy="57.20" r="1.90" fill="#d8412f" stroke="#555" stroke-width="0.45"/><circle cx="321.15" cy="57.20" r="0.90" fill="#33598a" stroke="#555" stroke-width="0.45"/><circle cx="337.30" cy="57.20" r="0.60" fill="#3d5f85"/><circle cx="353.45" cy="57.20" r="0.60" fill="#3d5f85"/><circle cx="369.60" cy="57.20" r="0.60" fill="#3d5f85"/><circle cx="385.75" cy="57.20" r="1.30" fill="#8ab8d8" stroke="#555" stroke-width="0.45"/><circle cx="401.90" cy="57.20" r="0.90" fill="#33598a" stroke="#555" stroke-width="0.45"/><circle cx="418.05" cy="57.20" r="0.90" fill="#33598a" stroke="#555" stroke-width="0.45"/><circle cx="434.20" cy="57.20" r="4.50" fill="#eef2b6" stroke="#555" stroke-width="0.45"/><circle cx="272.70" cy="69.40" r="0.60" fill="#3d5f85"/><circle cx="288.85" cy="69.40" r="2.50" fill="#b6dbea" stroke="#555" stroke-width="0.45"/><circle cx="305.00" cy="69.40" r="0.60" fill="#3d5f85"/><circle cx="321.15" cy="69.40" r="3.60" fill="#d7252a" stroke="#555" stroke-width="0.45"/><circle cx="337.30" cy="69.40" r="1.90" fill="#b6dbea" stroke="#555" stroke-width="0.45"/><circle cx="353.45" cy="69.40" r="1.20" fill="#b6dbea" stroke="#555" stroke-width="0.45"/><circle cx="369.60" cy="69.40" r="0.60" fill="#3d5f85"/><circle cx="385.75" cy="69.40" r="1.10" fill="#5b8fc4" stroke="#555" stroke-width="0.45"/><circle cx="401.90" cy="69.40" r="1.30" fill="#8ab8d8" stroke="#555" stroke-width="0.45"/><circle cx="418.05" cy="69.40" r="0.60" fill="#3d5f85"/><circle cx="434.20" cy="69.40" r="4.50" fill="#4a7fbd" stroke="#555" stroke-width="0.45"/><circle cx="272.70" cy="81.60" r="0.60" fill="#3d5f85"/><circle cx="288.85" cy="81.60" r="1.00" fill="#4a75a8" stroke="#555" stroke-width="0.45"/><circle cx="305.00" cy="81.60" r="0.60" fill="#3d5f85"/><circle cx="321.15" cy="81.60" r="0.60" fill="#3d5f85"/><circle cx="337.30" cy="81.60" r="3.30" fill="#d7252a" stroke="#555" stroke-width="0.45"/><circle cx="353.45" cy="81.60" r="1.30" fill="#b6dbea" stroke="#555" stroke-width="0.45"/><circle cx="369.60" cy="81.60" r="0.60" fill="#3d5f85"/><circle cx="385.75" cy="81.60" r="1.80" fill="#c8e4f0" stroke="#555" stroke-width="0.45"/><circle cx="401.90" cy="81.60" r="0.60" fill="#3d5f85"/><circle cx="418.05" cy="81.60" r="0.60" fill="#3d5f85"/><circle cx="434.20" cy="81.60" r="4.50" fill="#ef7d51" stroke="#555" stroke-width="0.45"/><circle cx="272.70" cy="93.80" r="2.10" fill="#f5ef9e" stroke="#555" stroke-width="0.45"/><circle cx="288.85" cy="93.80" r="2.70" fill="#e05c3e" stroke="#555" stroke-width="0.45"/><circle cx="305.00" cy="93.80" r="0.60" fill="#3d5f85"/><circle cx="321.15" cy="93.80" r="0.60" fill="#3d5f85"/><circle cx="337.30" cy="93.80" r="1.30" fill="#8ab8d8" stroke="#555" stroke-width="0.45"/><circle cx="353.45" cy="93.80" r="2.70" fill="#d7252a" stroke="#555" stroke-width="0.45"/><circle cx="369.60" cy="93.80" r="0.60" fill="#3d5f85"/><circle cx="385.75" cy="93.80" r="1.20" fill="#8ab8d8" stroke="#555" stroke-width="0.45"/><circle cx="401.90" cy="93.80" r="0.90" fill="#3d5f85" stroke="#555" stroke-width="0.45"/><circle cx="418.05" cy="93.80" r="0.60" fill="#3d5f85"/><circle cx="434.20" cy="93.80" r="4.50" fill="#b9dcec" stroke="#555" stroke-width="0.45"/><circle cx="272.70" cy="106.00" r="0.80" fill="#3d5f85" stroke="#555" stroke-width="0.45"/><circle cx="288.85" cy="106.00" r="1.00" fill="#3d5f85" stroke="#555" stroke-width="0.45"/><circle cx="305.00" cy="106.00" r="0.60" fill="#3d5f85"/><circle cx="321.15" cy="106.00" r="0.90" fill="#3d5f85" stroke="#555" stroke-width="0.45"/><circle cx="337.30" cy="106.00" r="0.60" fill="#3d5f85"/><circle cx="353.45" cy="106.00" r="0.60" fill="#3d5f85"/><circle cx="369.60" cy="106.00" r="4.20" fill="#d7252a" stroke="#555" stroke-width="0.45"/><circle cx="385.75" cy="106.00" r="0.90" fill="#3d5f85" stroke="#555" stroke-width="0.45"/><circle cx="401.90" cy="106.00" r="0.60" fill="#3d5f85"/><circle cx="418.05" cy="106.00" r="3.80" fill="#f2a066" stroke="#555" stroke-width="0.45"/><circle cx="434.20" cy="106.00" r="4.50" fill="#3766ae" stroke="#555" stroke-width="0.45"/><circle cx="272.70" cy="118.20" r="1.30" fill="#7aa8cf" stroke="#555" stroke-width="0.45"/><circle cx="288.85" cy="118.20" r="1.30" fill="#4f84bd" stroke="#555" stroke-width="0.45"/><circle cx="305.00" cy="118.20" r="0.60" fill="#3d5f85"/><circle cx="321.15" cy="118.20" r="0.60" fill="#3d5f85"/><circle cx="337.30" cy="118.20" r="0.60" fill="#3d5f85"/><circle cx="353.45" cy="118.20" r="0.90" fill="#8ab8d8" stroke="#555" stroke-width="0.45"/><circle cx="369.60" cy="118.20" r="1.30" fill="#b6dbea" stroke="#555" stroke-width="0.45"/><circle cx="385.75" cy="118.20" r="2.00" fill="#e2553a" stroke="#555" stroke-width="0.45"/><circle cx="401.90" cy="118.20" r="1.90" fill="#d7252a" stroke="#555" stroke-width="0.45"/><circle cx="418.05" cy="118.20" r="3.80" fill="#f2a066" stroke="#555" stroke-width="0.45"/><circle cx="434.20" cy="118.20" r="4.50" fill="#acd6ea" stroke="#555" stroke-width="0.45"/><text x="247.90" y="20.10" font-size="7.49" textLength="62.00" lengthAdjust="spacingAndGlyphs" fill="#444">Percent expressed</text><circle cx="314.90" cy="17.70" r="0.45" fill="#222"/><text x="319.30" y="19.90" font-size="6.85" textLength="3.56" lengthAdjust="spacingAndGlyphs" fill="#444">0</text><circle cx="329.90" cy="17.70" r="0.80" fill="#222"/><text x="334.60" y="19.90" font-size="6.85" textLength="7.90" lengthAdjust="spacingAndGlyphs" fill="#444">25</text><circle cx="348.20" cy="17.70" r="1.30" fill="#222"/><text x="353.80" y="19.90" font-size="6.85" textLength="8.90" lengthAdjust="spacingAndGlyphs" fill="#444">50</text><circle cx="370.60" cy="17.70" r="2.10" fill="#222"/><text x="376.60" y="19.90" font-size="6.85" textLength="8.40" lengthAdjust="spacingAndGlyphs" fill="#444">75</text><circle cx="392.90" cy="17.70" r="2.90" fill="#222"/><text x="400.30" y="19.90" font-size="6.85" textLength="12.60" lengthAdjust="spacingAndGlyphs" fill="#444">100</text><defs><linearGradient id="cb" x1="0" x2="1" y1="0" y2="0"><stop offset="0" stop-color="#3d68ad"/><stop offset="0.18" stop-color="#84b3d6"/><stop offset="0.33" stop-color="#d3e8ee"/><stop offset="0.5" stop-color="#fbf3b2"/><stop offset="0.68" stop-color="#f8c178"/><stop offset="0.84" stop-color="#ec6e45"/><stop offset="1" stop-color="#d22f27"/></linearGradient></defs><rect x="224.00" y="132.20" width="37.30" height="7.00" fill="url(#cb)"/><text x="185.60" y="136.00" font-size="7.06" textLength="22.00" lengthAdjust="spacingAndGlyphs" fill="#444">Scaled</text><text x="185.60" y="144.30" font-size="7.06" textLength="36.50" lengthAdjust="spacingAndGlyphs" fill="#444">expression</text><text x="226.40" y="146.60" font-size="5.99" text-anchor="middle" textLength="6.38" lengthAdjust="spacingAndGlyphs" fill="#444">−1</text><text x="235.60" y="146.60" font-size="5.99" text-anchor="middle" textLength="3.11" lengthAdjust="spacingAndGlyphs" fill="#444">0</text><text x="245.80" y="146.60" font-size="5.99" text-anchor="middle" textLength="3.11" lengthAdjust="spacingAndGlyphs" fill="#444">1</text><text x="256.00" y="146.60" font-size="5.99" text-anchor="middle" textLength="3.11" lengthAdjust="spacingAndGlyphs" fill="#444">2</text><line x1="482.50" y1="9.60" x2="482.50" y2="121.20" stroke="#9a9a9a" stroke-width="0.8"/><line x1="482.50" y1="121.20" x2="666.80" y2="121.20" stroke="#9a9a9a" stroke-width="0.8"/><line x1="479.90" y1="98.55" x2="482.50" y2="98.55" stroke="#888" stroke-width="0.8"/><text x="475.70" y="101.15" font-size="8.13" text-anchor="end" textLength="10.57" lengthAdjust="spacingAndGlyphs" fill="#444">0.5</text><line x1="479.90" y1="73.90" x2="482.50" y2="73.90" stroke="#888" stroke-width="0.8"/><text x="475.70" y="76.50" font-size="8.13" text-anchor="end" textLength="10.57" lengthAdjust="spacingAndGlyphs" fill="#444">1.0</text><line x1="479.90" y1="49.25" x2="482.50" y2="49.25" stroke="#888" stroke-width="0.8"/><text x="475.70" y="51.85" font-size="8.13" text-anchor="end" textLength="10.57" lengthAdjust="spacingAndGlyphs" fill="#444">1.5</text><line x1="479.90" y1="24.60" x2="482.50" y2="24.60" stroke="#888" stroke-width="0.8"/><text x="475.70" y="27.20" font-size="8.13" text-anchor="end" textLength="10.57" lengthAdjust="spacingAndGlyphs" fill="#444">2.0</text><text x="457.90" y="65.40" font-size="8.77" text-anchor="middle" textLength="81.00" lengthAdjust="spacingAndGlyphs" fill="#444" transform="rotate(-90 457.90 65.40)">Tip-like score of ECs</text><line x1="497.00" y1="121.20" x2="497.00" y2="123.80" stroke="#888" stroke-width="0.8"/><line x1="519.40" y1="121.20" x2="519.40" y2="123.80" stroke="#888" stroke-width="0.8"/><line x1="541.80" y1="121.20" x2="541.80" y2="123.80" stroke="#888" stroke-width="0.8"/><line x1="564.20" y1="121.20" x2="564.20" y2="123.80" stroke="#888" stroke-width="0.8"/><line x1="586.60" y1="121.20" x2="586.60" y2="123.80" stroke="#888" stroke-width="0.8"/><line x1="609.00" y1="121.20" x2="609.00" y2="123.80" stroke="#888" stroke-width="0.8"/><line x1="631.40" y1="121.20" x2="631.40" y2="123.80" stroke="#888" stroke-width="0.8"/><line x1="653.80" y1="121.20" x2="653.80" y2="123.80" stroke="#888" stroke-width="0.8"/><text x="500.20" y="130.40" font-size="8.88" text-anchor="end" textLength="73.00" lengthAdjust="spacingAndGlyphs" fill="#444" transform="rotate(-45 500.20 130.40)">E01_ENDO-CCL14</text><text x="522.60" y="130.40" font-size="8.88" text-anchor="end" textLength="78.00" lengthAdjust="spacingAndGlyphs" fill="#444" transform="rotate(-45 522.60 130.40)">E02_ENDO-IL13RA1</text><text x="545.00" y="130.40" font-size="8.88" text-anchor="end" textLength="61.50" lengthAdjust="spacingAndGlyphs" fill="#444" transform="rotate(-45 545.00 130.40)">E03_ENDO-KIT</text><text x="567.40" y="130.40" font-size="8.88" text-anchor="end" textLength="74.00" lengthAdjust="spacingAndGlyphs" fill="#444" transform="rotate(-45 567.40 130.40)">E04_ENDO-MKI67</text><text x="589.80" y="130.40" font-size="8.88" text-anchor="end" textLength="88.50" lengthAdjust="spacingAndGlyphs" fill="#444" transform="rotate(-45 589.80 130.40)">E05_ENDO-SERPINE2</text><text x="612.20" y="130.40" font-size="8.88" text-anchor="end" textLength="78.50" lengthAdjust="spacingAndGlyphs" fill="#444" transform="rotate(-45 612.20 130.40)">E06_ENDO-VCAM1</text><text x="634.60" y="130.40" font-size="8.88" text-anchor="end" textLength="91.00" lengthAdjust="spacingAndGlyphs" fill="#444" transform="rotate(-45 634.60 130.40)">E07_Lymphatic-PDPN</text><text x="657.00" y="130.40" font-size="8.88" text-anchor="end" textLength="88.50" lengthAdjust="spacingAndGlyphs" fill="#444" transform="rotate(-45 657.00 130.40)">E08_Lymphatic-PLAT</text><path d="M500.6 96.0h0M498.5 112.0h0M495.5 87.4h0M497.3 74.6h0M496.3 77.2h0M498.9 108.9h0M499.6 82.2h0M497.8 112.0h0M501.5 92.9h0M497.8 110.6h0M494.1 90.1h0M492.6 95.5h0M498.3 81.4h0M500.8 96.2h0M499.8 93.7h0M494.2 89.2h0M500.0 92.1h0M498.9 100.9h0M496.5 80.4h0M494.4 95.4h0M497.3 78.5h0M497.0 96.8h0M498.7 110.8h0M498.5 80.9h0M496.9 102.0h0M497.3 104.0h0M498.8 106.0h0M496.1 112.4h0M496.7 83.3h0M495.5 105.5h0M498.5 81.3h0M492.6 89.9h0M499.7 92.2h0M494.5 93.2h0M495.0 93.6h0M498.5 87.3h0M498.0 109.5h0M496.0 88.8h0M493.4 95.1h0M501.2 96.1h0M494.2 89.5h0M493.6 84.6h0M495.3 107.4h0M501.0 95.9h0M493.2 97.9h0M499.3 104.9h0M496.3 105.1h0M494.5 82.0h0M494.4 91.1h0M498.0 111.0h0M500.7 90.7h0M497.6 76.2h0M498.1 85.6h0M493.3 94.8h0M499.1 95.4h0M500.9 89.1h0M500.0 97.7h0M497.6 79.7h0M497.9 105.0h0M499.0 91.5h0M497.2 90.4h0M498.0 110.9h0M495.7 93.8h0M497.3 79.5h0M494.7 81.5h0M496.2 85.7h0M500.6 89.4h0M501.6 89.1h0M494.1 82.2h0M500.1 83.1h0M498.2 113.2h0M494.8 84.0h0M495.4 88.9h0M499.6 92.4h0M498.0 86.4h0M497.8 109.5h0M495.7 113.5h0M501.3 94.7h0M496.8 79.7h0M496.9 82.7h0M498.0 95.3h0M493.4 87.3h0M496.1 89.2h0M498.8 107.1h0M499.6 102.8h0M499.6 89.3h0M497.3 100.5h0M496.9 118.1h0M496.5 116.0h0M498.1 112.7h0M496.5 109.1h0M495.6 95.8h0M497.3 109.3h0M501.4 90.2h0M496.1 78.8h0M500.0 95.3h0M498.8 110.1h0M494.9 109.6h0M497.3 84.5h0M495.3 109.8h0M498.2 79.1h0M492.2 90.7h0M499.6 87.5h0M498.9 85.3h0M495.7 81.6h0M501.1 94.1h0M494.3 83.6h0M497.1 102.5h0M496.8 85.0h0M497.9 116.8h0M498.0 110.4h0M494.0 93.5h0M501.0 91.0h0M492.8 88.7h0M496.2 90.9h0M495.1 91.5h0M501.6 94.7h0M493.4 98.0h0M497.3 92.3h0M497.3 73.5h0M497.4 85.7h0M494.1 102.3h0M499.3 94.4h0M496.6 100.9h0M495.0 82.4h0M500.9 97.9h0M495.9 101.5h0M495.6 105.3h0M498.2 104.6h0M497.6 117.9h0M499.4 86.3h0M499.6 94.5h0M496.2 80.8h0M496.0 78.4h0M500.6 95.7h0M500.7 97.9h0M496.6 116.5h0M496.4 86.6h0M498.2 113.7h0M500.3 86.0h0M494.2 84.3h0M493.9 88.8h0M497.3 92.5h0M493.4 93.9h0M497.7 113.2h0M497.1 77.0h0M495.9 112.0h0M497.2 113.4h0M498.0 115.7h0M500.4 99.7h0M498.0 105.5h0M497.5 116.5h0M494.4 84.2h0M499.3 81.4h0M496.8 116.0h0M493.6 94.7h0M494.3 91.2h0M501.6 95.5h0M496.0 81.6h0M496.3 86.2h0M498.1 107.2h0M496.5 117.5h0M497.6 91.3h0M496.3 88.5h0M497.6 75.7h0M498.0 90.1h0M492.3 88.7h0M500.4 86.7h0M496.0 110.8h0M494.4 93.6h0M497.4 111.8h0M492.6 93.1h0M498.6 105.9h0M497.6 100.5h0M501.4 91.3h0M495.6 105.8h0M499.7 86.8h0M496.4 100.0h0M493.6 87.6h0M495.4 97.8h0M497.8 95.7h0M496.7 78.8h0M496.0 114.2h0M496.4 77.7h0M495.9 90.5h0M493.3 89.4h0M494.1 96.3h0M498.8 97.0h0M494.6 91.9h0M494.9 97.4h0M495.8 85.2h0M494.1 102.2h0M497.1 79.2h0M501.9 91.7h0M494.6 85.5h0M493.9 84.8h0M497.2 117.8h0M496.4 87.9h0M496.1 76.7h0M497.5 95.6h0M500.3 93.5h0M496.0 108.2h0M494.2 86.5h0M495.8 90.4h0M495.1 98.4h0M497.3 86.6h0M500.0 87.6h0M497.1 87.5h0M500.7 88.5h0M497.7 116.8h0M497.5 96.9h0M497.5 76.3h0M496.5 73.9h0M497.1 108.1h0M497.1 107.7h0M494.7 90.2h0M498.4 103.5h0M496.4 111.4h0M494.6 102.0h0M496.6 86.6h0M498.0 92.4h0M495.4 110.3h0M496.3 87.7h0M495.6 81.9h0M494.9 93.6h0M499.5 100.5h0M498.2 79.8h0M496.2 117.8h0M497.9 88.1h0M494.2 87.0h0M497.2 110.3h0M496.6 115.5h0M496.7 110.1h0M499.7 102.2h0M493.1 87.9h0M497.2 96.5h0M500.6 90.7h0M500.3 98.5h0M496.1 92.2h0M493.3 99.3h0M495.2 112.9h0M496.3 88.6h0M496.8 86.7h0M498.7 104.4h0M497.6 80.2h0M494.7 103.0h0M498.8 93.7h0M494.8 100.1h0M500.9 93.3h0M498.1 86.9h0M498.0 106.2h0M496.7 117.8h0M494.4 103.0h0M499.4 101.2h0M499.4 97.0h0M495.1 95.0h0M496.2 89.9h0M498.3 78.2h0M500.5 86.2h0M495.6 96.5h0M501.4 87.9h0M494.8 108.7h0M496.0 82.1h0M496.9 118.0h0M499.2 87.3h0M492.6 90.7h0M497.8 77.3h0M493.3 90.1h0M496.3 115.3h0M495.1 95.4h0M500.6 96.9h0M501.7 88.7h0M495.3 108.7h0M497.0 77.7h0M492.0 89.5h0M495.8 83.7h0M495.2 91.0h0M497.0 113.4h0M495.5 97.9h0M492.2 89.3h0M497.9 114.0h0M496.3 103.1h0M495.9 80.2h0M497.2 106.9h0M495.3 79.5h0M497.1 72.8h0M499.0 99.8h0M501.0 96.4h0M497.4 90.1h0M497.3 107.2h0M499.8 92.2h0M499.0 94.5h0M492.3 92.5h0M495.1 93.6h0M497.0 92.4h0M493.7 96.4h0M499.3 88.0h0M501.8 90.3h0M501.7 92.1h0M500.8 88.8h0M496.9 82.0h0M496.5 117.6h0M496.6 108.9h0M498.8 108.8h0M493.6 94.0h0M493.8 94.8h0M496.9 112.1h0M494.7 93.5h0M499.8 99.4h0M495.3 79.2h0M493.4 93.1h0M496.8 117.8h0M499.4 92.6h0M497.0 114.0h0M496.6 92.7h0M499.5 80.2h0M494.5 82.2h0M497.1 105.2h0M497.7 96.9h0M500.3 92.5h0M494.7 104.0h0M495.7 77.1h0M495.1 111.8h0M497.8 100.1h0M494.4 95.8h0M494.5 102.2h0M501.0 97.2h0M497.5 98.8h0M501.9 91.9h0M497.5 101.5h0M498.8 86.6h0M495.3 101.1h0M494.4 95.5h0M500.2 88.2h0M497.9 83.2h0M496.7 103.4h0M496.2 103.6h0M494.8 99.0h0M498.0 83.6h0M494.8 93.5h0M495.6 94.4h0M501.0 95.4h0M494.7 107.3h0M497.8 73.6h0M498.8 97.1h0M494.6 104.6h0M498.8 107.6h0M499.0 94.6h0M498.6 94.7h0M498.6 84.5h0M496.9 82.2h0M495.6 102.4h0M497.5 94.6h0M498.7 106.3h0M496.6 111.0h0M500.6 88.5h0M494.3 94.9h0M499.7 103.0h0M501.1 88.6h0M498.7 111.7h0M496.5 101.9h0M499.4 86.8h0M498.0 75.0h0M501.6 88.6h0M498.3 106.2h0M496.4 118.2h0M500.9 86.9h0M500.4 88.4h0M501.6 92.2h0M493.5 94.0h0M501.4 91.8h0M496.7 78.4h0M497.2 91.2h0M497.3 80.4h0M495.6 85.6h0M498.5 96.6h0M497.4 85.2h0M493.1 91.7h0M495.7 78.4h0M499.6 102.6h0M495.0 82.5h0M499.4 98.7h0M495.6 92.2h0M498.8 101.5h0M494.6 89.0h0M498.1 81.4h0M493.4 92.0h0M493.8 97.3h0M499.6 98.6h0M493.5 97.6h0M500.1 94.4h0M495.9 81.0h0M497.6 109.2h0M497.3 73.0h0M496.7 94.9h0M497.0 97.7h0M495.3 98.7h0M498.3 80.9h0M496.5 72.3h0M501.2 96.0h0M496.1 93.9h0M495.2 112.6h0M500.4 93.3h0M498.5 82.1h0M496.2 96.9h0M498.1 103.9h0M493.5 97.0h0M496.4 111.8h0M500.7 92.6h0M494.1 89.9h0M501.5 94.7h0M494.9 95.8h0M495.2 95.5h0M497.3 101.9h0M494.7 100.0h0M497.3 89.1h0M499.1 102.9h0M498.4 80.9h0M496.7 88.3h0M498.7 111.1h0M495.4 96.3h0M497.7 81.8h0M495.5 99.0h0M497.7 106.8h0M496.8 87.0h0M497.1 106.7h0M495.1 83.7h0M497.1 101.2h0M499.2 100.8h0M498.2 113.0h0M494.3 94.9h0M494.6 93.5h0M498.2 110.2h0M501.4 89.0h0M496.2 76.7h0M498.3 103.4h0M494.9 104.0h0M494.9 98.0h0M492.5 93.8h0M500.9 92.6h0M500.3 100.5h0M495.5 86.1h0M499.8 103.9h0M497.4 111.4h0M496.9 103.1h0M497.4 90.2h0M494.6 84.8h0M496.5 114.7h0M495.0 85.8h0M494.6 95.1h0M496.3 78.8h0M495.8 75.8h0M498.2 75.3h0M495.0 106.9h0M498.1 101.9h0M496.9 103.1h0M499.7 100.7h0M497.1 81.5h0M498.9 93.1h0M496.9 86.2h0M499.6 86.5h0M496.6 91.0h0M496.8 87.5h0M498.9 90.8h0M499.9 86.9h0M498.5 85.3h0M495.7 106.7h0M498.3 109.4h0M493.4 87.3h0M495.9 107.4h0M498.3 104.5h0M497.8 80.8h0M498.9 104.1h0M497.5 94.5h0M495.9 91.0h0M498.5 81.9h0M497.1 111.2h0M501.7 89.7h0M497.6 87.8h0M498.1 80.4h0M497.9 114.3h0M496.3 96.6h0M498.8 108.9h0M495.4 81.3h0M496.5 102.4h0M496.1 109.5h0M492.8 96.2h0M496.8 90.5h0M497.6 96.3h0M498.9 106.2h0M497.1 78.5h0M493.2 91.2h0M497.6 92.6h0M497.4 87.4h0M499.4 98.0h0M497.8 82.2h0M497.7 115.0h0M495.5 91.3h0M501.5 96.1h0M500.3 94.6h0M495.3 77.0h0M501.4 94.6h0M499.4 94.8h0M500.5 95.9h0M496.2 115.2h0M496.9 109.4h0M495.5 81.8h0M495.3 81.2h0M498.5 96.4h0M497.0 116.1h0M500.8 87.4h0M498.5 82.0h0M497.6 92.7h0M499.7 84.0h0M495.6 92.7h0M498.1 81.6h0M498.6 111.2h0M495.8 91.9h0M495.2 96.3h0M497.2 96.1h0M497.5 71.7h0M497.6 113.1h0M500.2 95.4h0M496.8 88.9h0M498.2 84.9h0M495.8 90.9h0M500.8 98.4h0M497.6 111.5h0M497.0 92.5h0M498.9 89.0h0M495.4 101.0h0M496.7 82.1h0M495.3 113.1h0M498.6 78.1h0M500.0 88.7h0M495.1 91.6h0M500.1 90.3h0M492.6 96.5h0M492.5 96.3h0M496.6 115.3h0M496.9 94.7h0M496.3 89.4h0M497.3 99.9h0M498.2 115.1h0M496.9 95.7h0M497.9 114.2h0M495.4 91.2h0M498.7 101.7h0M494.6 95.0h0M496.3 80.2h0M497.3 98.5h0M499.1 86.8h0M498.6 114.1h0M499.9 100.5h0M500.4 90.9h0M493.2 86.1h0M496.4 79.6h0M498.1 101.6h0M497.3 78.6h0M494.6 105.5h0M499.6 102.9h0M496.5 104.0h0M496.7 74.1h0M498.4 85.6h0M494.1 91.9h0M496.9 107.8h0M495.4 103.4h0M500.1 85.7h0M493.9 90.0h0M497.7 83.9h0M497.5 88.5h0M495.1 107.8h0M499.4 99.1h0M500.5 92.6h0M496.4 114.5h0M494.8 81.8h0M492.2 92.9h0M493.3 96.3h0M496.8 74.2h0M497.8 113.4h0M492.3 89.4h0M499.4 81.1h0M500.9 86.0h0M499.9 84.2h0M499.5 99.5h0M498.2 102.3h0M495.0 107.3h0M494.9 102.8h0M499.9 101.6h0M497.9 102.1h0M500.0 87.8h0M501.9 92.5h0M497.3 73.6h0M499.4 103.8h0M497.8 101.7h0M499.5 83.0h0M492.4 95.6h0M496.5 92.9h0M497.7 74.0h0M496.1 107.2h0M497.3 73.5h0M498.1 74.1h0M498.0 90.6h0M496.5 114.5h0M500.4 93.2h0M498.7 109.4h0M497.9 88.9h0M497.1 113.7h0M496.1 78.3h0M499.1 100.6h0M497.4 111.4h0M496.2 107.3h0M496.0 90.6h0M498.2 75.6h0M492.0 90.5h0M496.5 74.1h0M496.4 83.6h0M496.2 104.8h0M496.3 95.2h0M496.1 98.3h0M494.4 97.8h0M498.5 112.6h0M498.1 97.1h0M495.2 85.5h0M492.5 94.5h0M496.8 117.7h0M500.3 96.6h0M496.8 84.2h0M498.3 85.1h0M500.2 100.9h0M496.9 84.7h0M497.3 113.9h0M496.0 100.8h0M496.5 103.7h0M497.5 96.4h0M501.4 89.9h0M495.8 87.2h0M497.3 103.5h0M497.4 98.1h0M499.3 100.6h0M501.4 96.3h0M492.4 91.9h0M496.6 109.3h0M498.2 76.9h0M492.4 93.5h0M498.3 76.3h0M494.3 93.7h0M496.7 117.8h0M498.8 81.5h0M499.3 99.9h0M497.0 96.6h0M498.7 93.7h0M497.0 107.5h0M498.8 87.0h0M497.4 78.3h0M497.3 77.8h0M498.6 85.2h0M500.9 95.6h0M501.5 89.2h0M499.8 94.5h0M498.9 81.5h0M496.8 84.4h0M496.7 79.0h0M496.4 103.6h0M500.9 91.2h0M500.8 85.5h0M497.8 102.0h0M495.6 89.8h0M499.3 86.8h0M498.8 96.2h0M497.5 74.6h0M499.4 87.7h0M497.5 97.8h0M498.0 107.9h0M498.6 107.9h0M495.3 96.1h0M495.7 79.9h0M498.8 101.3h0M497.8 99.2h0M498.1 101.9h0M498.4 102.9h0M498.4 100.4h0M494.7 87.7h0M494.5 94.5h0M497.6 105.9h0M499.1 81.5h0M501.2 88.7h0M493.5 88.9h0M497.3 74.0h0M498.8 97.1h0M499.8 91.1h0M493.4 92.8h0M495.1 97.9h0M500.8 91.8h0M495.5 78.7h0M492.9 91.3h0M497.2 83.0h0M495.0 97.4h0M498.9 101.2h0M498.6 85.4h0M494.9 97.8h0M497.8 98.8h0M493.7 97.0h0M497.5 91.0h0M498.8 107.8h0M496.8 91.9h0M498.4 82.5h0M497.2 98.1h0M499.2 107.8h0M497.2 74.2h0M495.5 114.9h0M496.1 96.8h0M500.3 98.2h0M494.9 83.5h0M497.9 88.7h0M494.1 102.3h0M496.6 114.6h0M494.7 92.6h0M493.0 98.3h0M501.1 92.2h0M494.6 84.9h0M497.5 83.9h0M500.1 86.3h0M492.2 88.8h0M497.5 97.4h0M496.2 88.8h0M495.8 108.5h0M501.9 92.7h0M496.0 87.3h0M497.1 112.7h0M498.2 98.1h0M497.3 82.4h0M496.0 79.5h0M501.7 89.0h0M500.3 90.3h0M495.6 96.1h0M494.9 80.2h0M496.4 84.9h0M499.0 98.4h0M497.3 103.4h0M492.4 88.9h0M496.6 117.8h0M496.7 115.3h0M494.6 86.5h0M492.4 90.3h0M496.1 109.9h0M498.3 91.9h0M494.3 97.5h0M496.3 91.0h0M498.3 98.5h0M495.6 104.9h0M497.0 73.6h0M493.3 92.4h0M494.7 90.0h0M494.0 89.8h0M492.1 90.1h0M497.5 83.9h0M495.8 102.8h0M494.8 98.8h0M496.8 102.9h0M497.5 112.5h0M495.2 89.5h0M495.6 79.2h0M494.6 96.0h0M498.4 87.7h0M499.4 82.9h0M496.9 108.1h0M495.1 99.2h0M497.3 92.5h0M499.2 87.8h0M497.9 116.9h0M497.4 106.1h0M495.0 87.4h0M499.3 84.9h0M499.1 84.6h0M492.5 91.6h0M498.3 99.5h0M500.8 95.7h0M498.0 100.9h0M498.7 78.7h0M496.1 99.6h0M498.1 81.4h0M496.1 86.2h0M501.8 89.6h0M493.4 90.2h0M494.1 89.5h0M498.9 87.0h0M497.6 94.3h0M497.2 85.3h0M497.4 81.6h0M494.3 90.3h0M499.3 93.1h0M499.2 83.8h0M497.8 74.0h0M501.4 95.7h0M497.9 108.4h0M495.1 89.6h0M495.6 82.2h0M500.1 89.3h0M499.7 103.4h0M496.2 101.7h0M498.4 92.2h0M495.8 108.5h0M500.0 85.1h0M494.3 102.8h0M498.4 78.1h0M494.9 80.2h0M495.2 97.3h0M496.5 94.8h0M496.7 114.2h0M499.6 103.0h0M498.0 91.9h0M499.5 95.4h0M500.2 84.1h0M496.6 112.5h0M499.6 82.5h0M495.7 112.0h0M498.5 98.8h0M500.6 91.0h0M496.6 105.2h0M496.4 116.2h0M497.2 118.2h0M495.5 78.0h0M494.0 95.6h0M499.8 87.3h0M499.4 83.5h0M495.8 91.0h0M496.5 103.2h0M496.8 118.3h0M496.0 78.5h0M499.6 100.6h0M493.0 91.7h0M497.0 96.2h0M497.0 95.3h0M495.7 75.4h0M495.0 96.4h0M499.5 98.9h0M498.2 103.7h0M496.6 86.8h0M496.0 109.4h0M498.4 87.1h0M498.1 84.5h0M493.8 101.3h0M496.4 89.7h0M495.9 77.6h0M499.0 106.5h0M496.1 90.8h0M494.2 89.3h0M501.9 89.9h0M497.2 117.2h0M498.2 106.5h0M500.9 89.4h0M494.3 102.7h0M495.3 102.0h0M499.4 106.6h0M499.4 99.9h0M495.7 80.3h0M500.2 101.6h0M499.2 104.3h0M495.6 108.7h0M498.5 101.0h0M498.7 84.8h0M495.7 110.4h0M497.0 109.5h0M499.2 99.7h0M498.0 103.6h0M492.9 90.3h0M494.7 96.5h0M496.7 75.5h0M495.5 80.8h0M494.4 81.1h0M495.2 112.1h0M493.9 96.4h0M496.1 114.1h0M496.9 96.2h0M493.3 95.1h0M494.0 88.1h0M500.1 83.0h0M494.3 92.8h0M500.2 94.1h0M496.8 91.5h0M499.2 85.9h0M499.3 85.7h0M497.0 100.2h0M498.6 79.5h0M495.9 83.2h0M495.0 81.1h0M497.6 96.6h0M495.0 105.1h0M496.5 95.7h0M493.3 88.8h0M500.9 95.6h0M494.9 96.5h0M495.6 84.3h0M501.1 90.1h0M501.5 92.0h0M495.2 81.0h0M496.1 85.7h0M495.4 93.1h0M496.8 95.4h0M492.8 94.7h0M499.3 87.1h0M493.8 96.8h0M495.7 86.6h0M495.1 78.5h0M492.0 89.4h0M498.1 85.5h0M498.2 81.3h0M496.2 115.1h0M495.9 78.2h0M498.7 91.1h0M496.5 82.8h0M495.1 79.5h0M496.4 85.9h0M494.1 86.6h0M496.3 78.2h0M492.4 92.5h0M494.5 85.2h0M499.6 83.2h0M494.5 104.7h0M499.5 79.9h0M497.1 88.5h0M497.0 112.5h0M494.9 104.9h0M495.1 84.2h0M498.1 82.3h0M495.2 78.7h0M496.1 99.3h0M498.9 79.6h0M499.2 86.6h0M497.6 73.8h0M494.7 103.1h0M500.3 85.3h0M496.0 74.6h0M500.2 87.2h0M495.4 94.4h0M496.8 115.3h0M495.2 110.7h0M498.3 81.2h0M495.1 108.8h0M496.6 102.5h0M496.9 78.5h0M497.7 117.1h0M498.4 87.7h0M495.8 111.5h0M497.1 95.0h0M496.9 118.0h0M497.5 81.0h0M500.7 87.2h0M495.7 77.1h0M498.5 88.5h0M496.1 98.7h0M495.3 84.0h0M494.4 90.8h0M496.9 90.5h0M496.5 85.3h0M494.9 85.0h0M497.0 116.3h0M493.6 93.1h0M495.1 95.0h0M497.9 87.8h0M497.0 104.9h0M499.0 102.6h0M498.3 115.0h0M499.8 88.3h0M497.6 72.2h0M500.5 99.0h0M498.7 111.3h0M498.5 93.0h0M497.8 103.6h0M497.5 116.7h0M496.7 102.0h0M500.7 97.0h0M495.8 83.9h0M499.5 94.8h0M497.1 78.2h0M495.3 103.8h0M498.6 82.8h0M499.7 81.2h0M497.5 115.5h0M494.8 106.3h0M496.6 95.6h0M497.4 84.0h0M493.9 92.5h0M493.9 89.5h0M497.2 87.8h0M496.8 87.7h0M498.7 100.5h0M493.9 101.2h0M495.7 97.7h0M498.2 96.4h0M499.5 94.0h0M499.0 93.4h0M493.1 91.2h0M495.6 107.7h0M499.6 101.5h0M494.7 103.9h0M500.9 97.7h0M497.7 87.2h0M495.7 100.5h0" stroke="#13998b" stroke-width="1.50" stroke-linecap="round" fill="none"/><path d="M521.3 64.4h0M521.9 77.4h0M519.9 96.4h0M515.7 61.8h0M519.7 64.1h0M519.6 76.5h0M516.8 78.5h0M523.1 52.5h0M518.2 73.9h0M517.8 35.0h0M519.5 39.5h0M520.5 38.2h0M519.1 75.3h0M523.6 69.4h0M514.4 60.1h0M517.2 60.8h0M520.2 65.0h0M520.0 71.6h0M521.7 72.0h0M518.0 70.8h0M518.9 75.4h0M520.5 51.6h0M519.8 94.5h0M515.5 76.0h0M521.5 61.1h0M519.6 29.4h0M521.7 38.5h0M517.9 64.5h0M517.7 38.4h0M523.2 49.9h0M520.4 95.5h0M514.6 56.9h0M523.4 68.6h0M516.9 68.5h0M518.4 39.2h0M521.5 62.7h0M516.9 45.8h0M518.6 36.6h0M520.0 25.4h0M517.1 47.1h0M517.5 58.7h0M521.6 48.2h0M522.2 82.2h0M520.7 35.5h0M519.8 102.9h0M519.8 36.2h0M520.6 83.4h0M519.5 33.2h0M518.8 66.1h0M517.5 45.2h0M517.2 86.0h0M523.3 60.5h0M524.3 63.7h0M520.0 46.7h0M520.6 93.7h0M517.6 66.5h0M518.6 61.9h0M519.1 73.5h0M518.4 55.4h0M516.2 53.4h0M520.0 94.2h0M519.0 56.0h0M519.7 99.7h0M523.1 59.9h0M517.2 44.3h0M520.9 92.1h0M524.0 64.9h0M521.5 81.1h0M516.6 80.5h0M522.5 78.8h0M521.7 56.9h0M523.1 64.7h0M519.2 55.7h0M521.3 44.9h0M519.5 70.0h0M519.3 104.5h0M520.3 75.4h0M520.5 47.3h0M521.2 73.4h0M520.0 25.5h0M519.8 67.9h0M519.8 56.5h0M523.9 59.2h0M518.3 53.5h0M520.3 42.6h0M522.1 63.6h0M516.9 62.2h0M515.6 69.1h0M521.3 40.1h0M515.2 66.2h0M517.8 86.5h0M522.3 80.5h0M520.2 64.1h0M519.4 64.0h0M520.2 40.3h0M519.8 28.6h0M519.7 102.1h0M518.1 31.3h0M518.6 97.0h0M521.7 46.7h0M518.8 86.0h0M515.1 70.3h0M518.1 31.1h0M519.5 97.3h0M521.1 69.9h0M518.2 88.4h0M518.0 31.9h0M519.0 68.6h0M516.3 66.6h0M519.4 69.3h0M519.3 83.0h0M516.5 44.8h0M516.6 57.7h0M517.9 87.6h0M520.0 92.2h0M521.4 44.7h0M516.3 52.2h0M520.1 35.4h0M520.3 71.1h0M520.8 51.9h0M519.0 89.2h0M523.2 65.7h0M520.2 79.6h0M519.3 44.8h0M518.8 36.0h0M522.5 57.7h0M518.3 91.9h0M522.5 76.7h0M518.9 24.7h0M520.3 44.8h0M520.6 81.1h0M516.9 72.1h0M516.9 47.7h0M520.6 43.6h0M520.7 76.3h0M517.1 77.6h0M519.6 56.0h0M521.6 53.0h0M520.0 82.5h0M518.2 39.2h0M520.8 85.4h0M515.2 73.9h0M518.6 92.9h0M516.6 59.6h0M518.4 31.1h0M517.9 46.4h0M523.6 65.7h0M521.5 87.4h0M520.3 37.3h0M516.3 80.3h0M517.8 68.4h0M517.8 74.9h0M521.5 63.0h0M517.7 69.3h0M521.5 51.3h0M519.1 93.7h0M517.7 76.7h0M523.4 70.3h0M516.5 53.7h0M521.4 50.7h0M519.8 32.6h0M515.7 53.1h0M518.1 74.8h0M516.9 51.4h0M517.5 61.4h0M515.1 64.4h0M519.1 94.0h0M518.1 44.2h0M522.2 57.3h0M516.7 60.2h0M521.1 39.7h0M523.6 69.0h0M522.6 63.3h0M521.7 64.0h0M517.3 59.8h0M524.4 69.2h0M520.1 96.7h0M518.9 31.5h0M520.7 75.1h0M521.1 38.7h0M518.5 80.5h0M515.8 59.9h0M516.6 80.1h0M517.1 76.4h0M523.4 58.8h0M523.9 70.7h0M518.8 87.5h0M514.5 67.6h0M519.6 70.1h0M519.1 85.6h0M516.2 65.5h0M516.1 71.5h0M519.6 96.2h0M517.1 54.4h0M523.2 74.9h0M522.2 43.6h0M519.3 31.0h0M520.0 45.9h0M517.1 80.8h0M520.3 86.8h0M521.1 72.0h0M519.7 26.3h0M523.7 55.7h0M524.7 61.2h0M518.0 34.3h0M520.0 59.4h0M523.2 70.1h0M522.4 63.3h0M520.9 38.7h0M521.1 87.8h0M522.7 52.2h0M517.7 70.0h0M520.6 43.2h0M521.4 53.8h0M522.4 82.1h0M516.1 44.8h0M517.1 65.7h0M518.1 54.6h0M522.4 76.3h0M515.6 54.1h0M520.1 55.5h0M522.4 43.1h0M520.0 45.0h0M522.1 70.2h0M519.6 20.2h0M520.4 39.3h0M522.4 78.9h0M520.4 79.3h0M517.9 49.5h0M519.5 84.7h0M519.1 47.2h0M516.3 64.0h0M521.1 57.3h0M518.2 31.1h0M518.9 26.4h0M522.6 74.2h0M519.1 94.9h0M514.8 62.4h0M520.6 53.9h0M522.8 54.7h0M519.5 72.5h0M518.3 63.3h0M519.9 25.8h0M519.3 104.2h0M518.4 49.5h0M518.2 57.0h0M523.3 71.2h0M518.7 101.1h0M521.3 46.0h0M523.6 57.8h0M517.9 83.6h0M518.9 100.7h0M518.7 92.6h0M519.5 78.6h0M517.7 45.1h0M518.8 78.1h0M516.6 68.2h0M516.7 71.7h0M519.8 93.7h0M522.8 53.9h0M518.1 87.2h0M521.7 53.3h0M520.9 78.8h0M517.6 55.0h0M519.5 49.2h0M516.7 44.4h0M515.7 53.5h0M517.9 39.0h0M518.9 22.0h0M523.8 65.1h0M515.6 60.8h0M518.5 83.4h0M517.3 56.6h0M520.5 32.3h0M517.3 36.8h0M519.2 64.4h0M518.8 65.5h0M521.1 63.1h0M516.6 70.8h0M524.3 60.3h0M519.4 28.2h0M518.8 87.2h0M520.3 34.4h0M521.4 62.9h0M516.8 58.6h0M522.2 46.6h0M518.0 90.4h0M519.4 43.8h0M517.8 45.2h0M515.8 70.8h0M519.4 62.1h0M520.7 47.3h0M520.4 60.1h0M517.5 38.2h0M517.7 39.4h0M520.3 54.8h0M522.7 71.8h0M518.8 47.5h0M518.5 50.1h0M524.2 61.7h0M518.2 78.3h0M515.4 58.1h0M517.1 54.9h0M518.6 84.8h0M520.9 48.5h0M519.4 72.4h0M521.6 43.0h0M515.7 70.5h0M522.6 77.1h0M521.7 48.6h0M518.4 63.6h0M519.6 98.5h0M521.6 75.3h0M520.7 86.0h0M520.2 92.1h0M518.4 44.0h0M521.0 88.8h0M523.3 63.8h0M518.7 80.0h0M519.4 65.6h0M520.2 91.0h0M519.2 43.3h0M518.8 51.0h0M521.5 72.5h0M516.0 64.8h0M516.1 69.6h0M522.7 56.2h0M520.7 31.5h0M522.5 74.2h0M518.3 31.0h0M522.8 58.9h0M518.8 25.1h0M519.8 86.1h0M518.8 34.6h0M517.9 40.2h0M519.8 43.1h0M518.8 45.9h0M519.7 80.7h0M522.0 84.4h0M519.8 85.9h0M522.0 40.1h0M518.9 98.6h0M520.6 93.3h0M523.2 68.4h0M522.0 56.0h0M514.2 61.5h0M520.7 66.5h0M523.1 59.8h0M517.9 44.4h0M519.6 104.0h0M519.1 92.6h0M518.1 83.2h0M517.7 54.3h0M520.1 46.4h0M521.7 80.0h0M519.9 28.0h0M521.2 57.0h0M518.8 89.9h0M520.8 35.1h0M519.6 88.7h0M517.7 42.2h0M516.3 56.2h0M522.0 45.4h0M520.8 64.2h0M517.5 56.9h0M516.9 68.2h0M520.8 32.3h0M520.0 51.2h0M517.7 35.0h0M517.0 53.6h0M519.9 68.7h0M520.0 88.0h0M521.2 76.4h0M516.2 56.3h0M520.8 47.4h0M520.0 38.7h0M516.3 52.6h0M515.8 70.6h0M523.3 75.7h0M520.1 38.5h0M515.5 59.8h0M519.2 31.1h0M518.3 30.6h0M518.8 99.2h0M514.8 60.3h0M520.0 69.4h0M517.4 62.0h0M522.2 78.3h0M519.6 54.2h0M517.7 84.3h0M518.7 61.0h0M520.7 71.6h0M518.7 62.9h0M519.4 102.0h0M522.1 51.7h0M521.9 56.6h0M518.1 64.4h0M520.0 76.7h0M519.7 51.4h0M523.7 53.3h0M519.0 34.7h0M515.8 58.1h0M514.9 72.6h0M523.3 62.9h0M518.4 47.4h0M514.8 72.0h0M518.8 98.2h0M519.3 43.4h0M521.7 60.1h0M522.3 47.0h0M520.1 91.9h0M517.1 54.6h0M519.7 64.4h0M517.4 60.1h0M521.1 57.2h0M516.8 57.8h0M519.7 103.4h0M517.4 60.2h0M521.1 68.7h0M515.2 66.9h0M516.9 46.9h0M522.3 62.3h0M520.6 49.8h0M521.5 78.5h0M520.3 65.2h0M518.2 58.9h0M517.2 83.2h0M521.7 78.3h0M516.3 76.8h0M519.8 29.0h0M522.5 51.9h0M522.3 78.8h0M516.4 67.6h0M517.9 37.2h0M523.8 60.5h0M519.6 61.9h0M518.9 72.7h0M519.6 20.5h0M517.6 84.8h0M519.7 42.6h0M515.7 72.7h0M522.0 52.3h0M515.9 77.0h0M516.6 65.0h0M519.8 21.7h0M520.4 48.7h0M516.4 75.1h0M521.1 75.5h0M515.1 65.7h0M520.8 64.2h0M520.8 49.0h0M517.5 48.3h0M520.0 66.3h0M518.0 73.5h0M522.2 45.3h0M519.1 74.3h0M518.8 43.2h0M517.3 47.6h0M521.5 40.5h0M517.6 58.1h0M519.0 82.7h0M514.8 68.7h0M520.3 82.5h0M518.5 63.0h0M517.5 67.7h0M520.5 50.5h0M519.8 89.6h0M515.6 52.5h0M520.3 62.9h0M521.3 59.8h0M515.5 55.9h0M519.6 89.9h0M519.0 52.7h0M521.9 58.6h0M517.8 78.8h0M515.8 58.8h0M518.0 88.6h0M518.4 64.7h0M519.1 66.7h0M519.5 100.2h0M520.8 95.1h0M519.1 56.2h0M516.5 58.5h0M519.3 56.0h0M520.4 68.1h0M519.3 54.6h0M518.1 45.0h0M520.6 37.8h0M524.6 68.4h0M520.1 90.5h0M519.4 29.2h0M518.6 38.9h0M518.1 93.4h0M517.1 81.5h0M514.3 67.5h0M521.6 84.3h0M519.6 53.1h0M521.6 46.1h0M514.8 59.5h0M518.3 46.5h0M521.5 43.3h0M521.2 45.4h0M518.7 71.9h0M523.0 59.9h0M521.2 52.5h0M520.6 40.0h0M521.3 37.1h0M522.9 50.2h0M518.8 45.3h0M517.6 74.8h0M522.0 84.4h0M519.9 62.9h0M519.4 65.9h0M517.4 79.7h0M520.6 92.1h0M519.1 66.4h0M518.0 65.5h0M523.9 60.7h0M523.9 65.2h0M520.7 55.8h0M519.2 80.1h0M517.6 43.5h0M516.5 73.3h0M520.3 30.5h0M518.1 89.1h0M521.8 68.6h0M517.0 86.5h0M515.4 73.4h0M518.7 60.7h0M517.3 50.8h0M520.4 80.2h0M519.6 74.6h0M520.1 58.3h0M518.7 53.0h0M519.3 86.2h0M515.0 62.1h0M517.1 74.8h0M523.2 72.6h0M521.9 84.4h0M519.7 36.7h0M517.1 80.4h0M518.0 79.7h0M518.0 89.8h0M518.1 49.5h0M520.4 46.8h0M517.5 61.3h0M523.2 66.7h0M520.1 56.5h0M518.0 87.0h0M516.9 53.9h0M515.4 54.2h0M518.1 39.3h0M518.2 73.3h0M516.6 50.3h0M520.8 46.3h0M523.7 56.0h0M517.8 84.9h0M520.0 74.2h0M519.8 62.0h0M523.7 62.7h0M521.6 48.8h0M518.0 35.9h0M518.1 86.6h0M519.0 61.8h0M519.6 96.0h0M519.2 103.6h0M519.7 69.5h0M516.7 83.4h0M522.7 48.3h0M519.1 55.3h0M519.7 59.4h0M515.5 60.4h0M522.6 45.8h0M518.8 31.9h0M521.4 78.4h0M522.3 75.5h0M519.3 95.6h0M523.1 69.2h0M521.5 49.6h0M517.6 69.6h0M516.8 62.2h0M523.0 73.9h0M515.9 64.4h0M516.6 74.0h0M522.6 56.3h0M523.0 59.5h0M520.6 89.6h0M517.9 92.4h0M520.8 87.2h0M517.2 58.2h0M517.2 66.6h0M518.3 49.1h0M517.8 74.6h0M517.5 64.3h0M523.1 77.3h0M519.3 51.2h0M522.6 70.3h0M515.2 70.8h0M520.0 47.9h0M519.6 52.2h0M516.8 62.8h0M517.9 74.5h0M521.9 77.4h0M524.7 63.5h0M518.0 39.3h0M520.7 32.9h0M520.4 52.4h0M518.4 40.2h0M524.3 64.2h0M519.9 60.6h0M514.4 63.2h0M518.4 51.5h0M520.4 56.0h0M517.9 91.8h0M518.1 61.7h0M521.6 44.0h0M521.2 39.3h0M517.4 77.0h0M516.8 54.8h0M521.8 48.8h0M521.1 40.5h0M521.1 65.6h0M520.4 90.0h0M515.1 66.9h0M518.0 34.7h0M520.0 49.1h0M522.7 78.8h0M520.3 81.1h0M519.6 67.1h0M518.8 95.1h0M519.4 21.0h0M515.9 58.2h0M520.1 67.3h0M515.3 56.3h0M518.9 27.6h0M519.0 33.7h0M515.0 66.4h0M516.8 42.4h0M518.0 38.9h0M520.4 58.5h0M517.7 34.7h0M517.8 49.3h0M514.7 65.1h0M518.9 89.5h0M518.0 39.4h0M520.0 25.8h0M518.6 38.9h0M517.9 49.4h0M522.5 76.3h0M517.5 37.2h0M518.3 84.0h0M516.3 55.1h0M514.5 64.4h0M518.9 88.0h0M520.5 85.2h0M517.7 81.6h0M522.5 81.4h0M517.5 57.8h0M521.5 55.9h0M520.7 89.3h0M521.9 61.9h0M521.6 44.8h0M520.6 61.5h0M517.3 57.4h0M521.0 37.4h0M520.2 65.7h0M524.4 67.2h0M522.7 59.2h0M521.0 39.9h0M521.6 55.9h0M519.2 57.9h0M517.5 65.8h0M518.6 40.7h0M520.5 42.7h0M520.9 45.3h0M519.8 97.1h0M520.0 40.8h0M519.6 59.1h0M518.0 80.4h0M517.6 80.7h0M515.2 57.6h0M516.5 50.2h0M519.6 34.8h0M517.7 83.3h0M517.9 83.2h0M524.1 69.6h0M514.3 68.3h0M521.1 68.4h0M517.9 33.3h0M516.2 65.8h0M521.4 61.9h0M523.3 55.3h0M520.5 40.6h0M521.7 66.6h0M519.0 99.2h0M520.1 43.6h0M521.6 80.0h0M518.0 57.9h0M514.7 58.2h0M522.0 45.7h0M517.5 44.7h0M519.2 35.6h0M520.4 91.3h0M520.0 28.3h0M519.8 37.9h0M520.5 51.2h0M518.2 69.4h0M522.5 66.6h0M517.3 60.3h0M516.5 72.9h0M516.1 51.2h0M514.9 56.4h0M524.3 69.7h0M519.6 40.3h0M517.8 78.8h0M517.9 68.4h0M521.2 40.9h0M518.6 85.1h0M519.9 31.4h0M522.2 48.7h0M519.0 72.0h0M521.7 75.3h0M522.4 48.7h0M517.0 54.4h0M520.4 79.8h0M520.6 96.6h0M517.8 33.9h0M520.9 84.9h0M518.7 52.2h0M519.9 102.6h0M524.7 60.5h0M521.7 83.0h0M521.4 70.9h0M521.6 41.7h0M522.5 65.2h0M520.7 69.4h0M516.8 75.7h0M524.4 67.1h0M517.5 61.5h0M523.6 69.7h0M519.9 58.8h0M519.0 19.2h0M520.0 84.1h0M517.2 53.5h0M519.9 102.0h0M515.3 72.9h0M517.1 66.5h0M521.0 33.5h0M519.1 30.1h0M519.6 89.9h0M521.0 50.3h0M515.6 60.4h0M521.0 65.1h0M522.9 75.9h0M519.5 49.9h0M520.6 62.0h0M519.8 91.5h0M523.2 65.3h0M519.1 85.3h0M520.5 54.2h0M520.8 47.2h0M516.1 46.5h0M519.6 31.0h0M519.8 56.3h0M515.1 62.7h0M515.6 64.5h0M519.8 89.6h0M518.3 49.2h0M517.9 72.3h0M522.6 79.8h0M524.5 65.0h0M513.9 61.8h0M518.2 64.4h0M520.2 55.6h0M519.0 78.1h0M519.7 55.7h0M517.7 52.6h0M523.3 57.3h0M521.7 47.0h0M522.7 77.4h0M515.1 58.8h0M522.5 64.6h0M519.1 103.1h0M519.0 86.3h0M520.1 59.5h0M521.7 85.0h0M518.7 48.1h0M521.0 43.5h0M515.1 52.8h0M521.0 90.1h0M519.1 45.2h0M516.4 54.3h0M519.0 21.5h0M520.6 74.9h0M514.6 64.9h0M519.5 38.9h0M519.4 45.7h0M517.8 67.5h0M517.1 50.4h0M518.3 60.2h0M521.5 79.1h0M520.1 71.6h0M519.3 68.2h0M519.2 42.9h0M517.2 42.9h0M520.7 67.1h0M522.9 77.5h0M519.9 29.9h0M521.8 86.7h0M519.9 40.4h0M517.6 74.8h0M520.3 50.4h0M517.4 62.0h0M521.9 77.0h0M519.5 94.1h0M519.9 36.9h0M522.4 68.6h0M520.2 32.7h0M522.6 54.6h0M520.2 70.5h0M519.6 70.6h0M523.3 70.4h0M518.4 59.2h0M518.7 28.9h0M517.7 36.5h0M520.1 66.5h0M514.8 61.9h0M521.2 45.0h0M515.8 49.9h0M517.7 49.2h0M517.1 62.0h0M523.7 69.1h0M519.9 86.4h0M518.2 57.9h0M515.5 59.6h0M520.2 64.1h0M524.5 59.8h0M519.1 28.8h0M520.0 29.3h0M518.2 90.9h0M519.3 104.2h0M517.6 64.4h0M515.8 47.8h0M518.9 54.1h0M518.2 61.1h0M519.2 50.6h0M516.1 69.8h0M517.8 61.1h0M520.5 64.8h0M518.5 85.4h0M515.4 62.1h0M519.7 81.2h0M518.5 64.4h0M518.8 98.8h0M523.4 66.8h0M524.3 57.7h0M520.0 31.4h0M514.4 64.5h0M521.0 51.6h0M517.9 59.6h0M519.4 28.2h0M522.4 74.7h0M518.5 77.6h0M515.3 66.7h0M518.5 29.0h0M520.8 63.7h0M519.9 97.1h0M517.9 34.2h0M517.5 45.3h0M519.6 104.2h0M519.5 102.5h0M519.6 83.2h0M515.3 70.2h0M516.7 56.2h0M522.9 49.9h0M520.2 34.9h0M522.2 57.1h0M521.7 57.7h0M518.5 83.5h0M521.3 71.1h0M518.3 52.3h0M520.2 92.6h0M520.3 43.8h0M522.9 71.3h0M521.1 72.1h0M518.4 39.2h0M516.1 52.1h0M523.7 73.5h0M522.6 76.1h0M517.7 46.1h0M523.5 74.4h0M518.0 46.8h0M519.4 101.0h0M519.3 102.2h0M519.8 65.0h0M517.3 75.7h0M518.0 87.3h0M519.3 21.6h0M517.1 41.9h0M522.7 64.7h0M520.8 40.3h0M523.7 65.8h0M517.6 71.7h0M522.3 44.7h0M520.0 83.0h0M521.5 86.3h0M524.5 61.3h0M519.2 103.2h0M521.7 61.2h0M518.7 50.2h0M519.9 30.2h0M519.0 95.4h0M518.0 51.5h0M523.3 50.2h0M521.5 45.4h0M514.5 59.2h0M521.8 54.0h0M519.4 53.8h0M520.0 32.8h0M519.0 58.5h0M518.3 82.3h0M517.9 67.4h0M518.5 36.0h0M524.7 64.8h0M521.1 54.0h0M519.0 103.1h0M523.4 51.8h0M520.1 85.0h0M517.9 60.9h0M519.3 104.0h0M514.7 63.7h0M517.0 83.7h0M519.4 102.3h0M520.7 92.4h0M515.9 57.2h0M518.5 34.0h0M522.3 44.5h0M521.4 41.2h0M518.0 71.5h0M518.8 41.2h0M523.4 65.6h0M519.0 76.5h0M521.4 37.1h0M522.0 77.1h0M522.1 54.3h0M520.2 33.3h0M523.5 71.3h0M518.6 28.1h0M520.6 46.4h0M517.0 42.6h0M522.3 46.7h0M520.6 30.9h0M518.2 44.3h0M518.8 71.4h0M520.2 52.9h0M523.1 51.3h0M522.7 76.2h0M521.1 34.8h0M522.2 43.6h0M517.5 80.9h0M518.4 44.4h0M522.3 66.0h0M519.9 59.5h0M519.4 40.0h0M523.9 62.4h0M518.1 86.6h0M518.0 82.4h0M517.6 69.4h0M517.2 51.2h0M520.6 60.1h0M519.9 103.9h0M514.2 66.2h0M516.3 74.3h0M519.7 96.9h0M517.6 86.8h0M520.9 59.0h0M521.2 87.9h0M517.8 92.8h0M514.8 55.0h0M524.7 61.7h0M524.0 55.1h0M518.5 52.1h0M514.3 66.8h0M522.7 79.7h0M519.6 71.4h0M520.3 68.2h0M519.5 102.7h0M518.1 91.5h0M516.2 74.2h0M520.6 33.9h0M518.8 30.8h0M522.0 68.9h0M523.0 56.1h0M519.8 83.8h0M514.3 58.6h0M518.5 54.9h0M519.8 29.5h0M521.1 46.6h0M518.9 46.4h0M521.8 64.4h0M516.2 57.7h0M518.8 53.8h0M517.2 75.2h0M521.3 83.7h0M519.2 55.2h0M518.8 76.5h0M521.6 66.1h0M519.3 56.0h0M516.8 51.4h0M520.6 70.0h0M522.1 67.8h0M522.6 79.0h0M516.2 52.3h0M519.6 53.2h0M519.6 34.7h0M520.4 45.7h0M519.4 85.2h0M520.2 94.1h0M520.8 56.5h0M515.7 73.3h0M516.3 51.0h0M519.1 60.6h0M522.7 77.5h0M521.1 51.6h0M515.2 60.3h0M520.1 67.4h0M519.1 34.3h0M520.3 54.3h0M519.1 60.7h0M522.0 44.1h0M522.2 45.3h0M516.8 69.5h0M521.3 46.9h0M519.1 87.2h0M515.1 72.5h0M515.0 60.7h0M516.1 53.1h0M519.1 103.6h0M523.7 59.1h0M519.5 47.0h0M520.3 68.1h0M518.2 86.3h0M515.3 68.6h0M518.3 78.5h0M520.1 29.0h0M514.8 65.3h0M521.8 65.6h0M517.7 67.4h0M517.3 64.7h0M517.0 45.9h0M519.3 35.7h0M519.4 101.4h0M519.6 30.9h0M515.1 61.1h0M520.4 75.1h0M519.2 104.6h0M519.7 46.1h0M523.8 65.5h0M519.4 34.6h0M521.9 61.4h0M523.4 67.1h0M516.6 79.4h0M516.1 62.3h0M520.3 74.6h0M516.6 41.9h0M521.8 84.9h0M518.7 95.4h0M520.4 30.2h0M524.0 60.2h0M524.6 64.7h0M523.3 58.3h0M515.5 56.7h0M519.5 23.1h0M520.5 32.2h0M518.0 94.1h0M519.9 77.6h0M519.6 52.0h0M521.3 71.8h0M523.0 51.6h0M519.4 75.9h0M520.4 42.8h0M520.1 64.1h0M517.9 47.3h0M518.9 100.9h0M519.6 98.3h0M519.3 34.1h0M517.4 63.8h0M518.9 77.5h0M522.2 49.0h0M520.8 62.1h0M518.2 58.0h0M518.1 57.1h0M522.1 76.7h0M518.1 75.7h0M517.5 64.3h0M520.7 31.5h0M519.0 85.7h0M517.4 64.3h0M521.0 85.8h0M522.3 73.1h0M521.3 65.0h0M521.1 78.6h0M518.6 87.9h0M521.5 64.5h0M516.1 76.0h0M519.3 30.5h0M519.0 32.3h0M519.8 22.6h0M517.3 70.5h0M520.5 54.5h0M523.4 69.3h0M516.2 50.1h0M518.3 60.7h0M521.7 61.6h0M523.2 49.3h0M520.2 67.9h0M517.0 70.7h0M519.3 92.0h0M517.9 74.5h0M518.9 92.8h0M517.3 37.8h0M520.9 66.5h0M518.1 63.2h0M522.4 54.5h0M518.8 77.8h0M523.5 69.1h0M516.7 67.4h0M521.0 64.8h0M518.7 32.9h0M517.1 52.3h0M520.6 75.8h0M517.8 47.6h0M520.2 79.6h0M520.8 59.4h0M516.8 72.7h0M518.6 98.0h0M515.8 49.1h0M514.2 63.1h0M520.6 73.3h0M518.2 50.9h0M521.8 56.3h0M517.7 59.4h0M522.9 65.8h0M521.6 85.5h0M521.9 57.8h0M523.9 66.9h0M518.4 82.6h0M517.2 79.4h0M519.4 45.9h0M521.5 39.9h0M523.2 74.3h0M515.3 60.5h0M522.0 70.4h0M522.5 79.7h0M515.1 53.5h0M518.5 55.8h0M519.6 82.0h0M519.2 28.3h0M522.7 78.0h0M519.0 25.4h0M518.0 37.1h0M515.0 68.9h0M517.0 61.3h0M519.9 39.3h0M520.9 44.6h0M520.6 96.0h0M520.8 49.5h0M519.7 73.1h0M518.6 35.5h0M521.7 74.6h0M519.7 27.6h0M521.3 48.8h0M516.2 48.7h0M516.0 72.1h0M519.5 27.3h0M519.5 63.7h0M520.6 57.2h0M518.4 65.2h0M518.5 45.7h0M521.7 69.6h0M518.3 44.4h0M522.6 51.7h0M518.9 31.6h0M522.0 54.6h0M520.2 96.2h0M521.3 42.6h0M515.0 65.7h0M521.9 76.2h0M519.3 45.8h0M514.7 70.6h0M522.2 51.1h0M515.4 59.1h0M520.8 73.3h0M515.2 57.8h0M520.1 36.2h0M523.5 73.2h0M519.3 46.7h0M517.6 59.4h0M519.5 93.1h0M518.3 61.1h0M519.9 33.1h0M517.3 67.7h0M522.9 51.8h0M515.5 67.0h0M523.0 76.8h0M519.0 48.9h0M518.2 88.0h0M517.7 76.4h0M518.8 27.2h0M519.1 23.6h0M523.4 71.4h0M522.8 72.5h0M518.0 71.7h0M518.5 75.3h0M516.5 44.7h0M519.2 91.0h0M517.7 81.2h0M516.2 49.6h0M517.7 50.4h0M521.6 78.8h0M518.1 89.8h0M516.6 77.3h0M522.8 70.2h0M524.2 56.8h0M515.5 75.9h0M518.6 55.2h0M522.0 53.6h0M523.3 63.0h0M520.6 32.9h0M520.1 80.1h0M519.2 73.7h0M518.7 77.1h0M515.7 62.8h0M517.9 54.1h0M519.6 63.3h0M520.3 95.1h0M517.8 47.7h0M522.6 46.4h0M518.5 57.1h0M520.2 58.9h0M518.9 97.2h0M520.6 90.9h0M516.0 70.1h0M514.3 58.3h0M517.4 45.8h0M518.3 56.8h0M520.6 63.1h0M518.2 94.8h0M519.6 39.1h0M520.0 68.7h0M519.2 103.9h0M520.6 65.0h0M519.3 102.9h0M520.6 89.0h0M521.5 49.7h0M519.6 24.7h0M522.5 47.8h0M522.4 70.5h0M518.7 50.7h0M516.1 71.2h0M518.8 48.5h0M521.3 70.7h0M515.8 63.6h0M518.2 44.5h0M517.7 66.0h0M518.4 48.2h0M520.0 90.2h0M524.7 65.0h0M520.1 73.7h0M517.7 77.3h0M521.9 52.4h0M519.5 91.2h0M515.9 51.2h0M519.9 21.9h0M520.8 88.5h0M515.5 71.4h0M518.0 71.6h0M518.0 58.8h0M519.0 45.5h0M518.2 58.3h0M518.7 29.5h0M519.9 95.8h0M519.9 22.0h0M521.3 42.0h0M520.5 84.7h0M523.7 72.4h0M518.4 87.4h0M520.9 55.6h0M521.0 75.9h0M518.9 59.4h0M519.5 75.9h0M517.3 43.0h0M522.3 63.5h0M517.1 80.9h0M523.9 66.2h0M521.4 60.0h0M515.1 64.7h0M519.3 33.1h0M519.6 70.9h0M514.9 59.8h0M519.8 37.9h0M521.6 79.6h0M520.7 83.1h0M517.6 64.9h0M521.8 59.4h0M521.6 71.3h0M514.5 65.9h0M514.5 57.5h0M523.4 54.7h0M519.9 90.5h0M516.4 81.4h0M519.9 29.2h0M515.4 58.7h0M523.0 63.5h0M520.1 75.7h0M518.8 30.5h0M516.9 64.5h0M517.7 83.6h0M522.8 59.2h0M520.6 31.3h0M519.5 48.9h0M516.1 48.6h0M523.3 63.4h0M520.1 62.9h0M521.8 40.9h0M520.9 86.4h0M518.6 34.9h0M521.8 81.7h0M522.9 74.7h0M518.3 67.2h0M518.7 79.1h0M523.7 57.5h0M523.0 59.2h0M522.3 45.3h0M519.7 81.4h0M515.8 55.6h0M516.8 82.1h0M522.6 52.5h0M521.3 36.5h0M522.9 60.9h0M519.3 60.1h0M523.7 72.0h0M517.6 86.1h0M522.1 68.4h0M519.4 36.4h0M519.5 96.9h0M519.4 81.4h0M518.2 72.9h0M515.5 61.5h0M516.1 66.2h0M524.0 59.0h0M519.8 36.2h0M520.0 89.3h0M520.5 42.6h0M521.1 52.0h0M521.9 49.7h0M520.9 49.5h0M516.7 70.1h0M517.0 68.7h0M520.3 73.9h0M519.2 20.4h0M515.4 56.5h0M519.1 55.4h0M520.0 54.1h0M517.4 42.4h0M522.8 68.8h0M517.8 41.1h0M518.0 68.4h0M519.0 29.2h0M522.2 49.3h0M521.4 61.5h0M518.6 71.1h0M517.1 42.6h0M517.3 79.4h0M518.6 44.4h0M519.9 64.2h0M518.6 45.7h0M523.8 60.0h0M520.7 57.8h0M515.4 66.4h0M519.4 57.6h0M523.1 59.0h0M514.2 65.3h0M522.8 69.3h0M519.3 84.4h0M519.6 40.0h0M523.5 57.8h0M521.1 73.9h0M523.3 74.6h0M520.6 36.3h0M519.5 50.5h0M518.0 48.1h0M515.5 51.5h0M519.6 30.7h0M521.2 64.9h0M523.7 67.0h0M519.4 73.7h0M522.9 45.8h0M519.9 93.0h0M520.4 54.3h0M522.5 81.4h0M517.0 61.9h0M518.3 70.2h0M520.2 80.5h0M514.6 70.3h0M517.2 56.7h0M522.0 42.6h0M519.9 95.3h0M520.6 78.6h0M521.7 56.4h0M518.7 64.1h0M519.1 76.2h0M518.3 77.9h0M524.6 63.5h0M519.0 30.8h0M520.5 49.3h0M522.5 78.5h0M520.7 58.2h0M520.5 70.4h0M519.7 60.1h0M518.3 53.5h0M515.7 66.2h0M516.2 65.4h0M517.3 62.0h0M522.1 49.3h0M519.3 29.1h0M522.4 52.9h0M519.0 20.4h0M519.4 48.2h0M514.8 62.8h0M515.6 62.4h0M517.9 81.4h0M518.6 54.2h0M520.5 69.5h0M515.7 73.8h0M519.2 96.2h0M518.1 80.7h0M521.9 45.0h0M522.7 73.7h0M521.2 39.2h0M520.1 100.1h0M514.2 59.9h0M520.1 96.8h0M523.4 54.3h0M520.9 63.8h0M519.3 76.9h0M518.3 84.3h0M517.6 37.1h0M517.2 72.1h0M522.9 51.7h0M519.7 80.3h0M516.6 54.1h0M518.3 30.2h0M520.3 63.7h0M524.4 66.7h0M521.5 65.1h0M517.2 41.1h0M519.2 75.3h0M523.6 56.5h0M518.6 85.9h0M517.0 57.5h0M516.0 48.4h0M517.6 59.9h0M518.5 33.4h0M518.5 60.0h0M519.4 19.5h0M521.2 67.1h0M523.3 50.4h0M518.8 87.4h0M516.6 65.9h0M521.2 53.0h0M518.6 39.3h0M521.0 33.3h0M519.9 64.3h0M516.9 45.6h0M516.5 72.2h0M518.5 37.0h0M522.2 61.4h0M514.3 59.0h0M519.0 32.2h0M516.7 55.1h0M520.8 90.9h0M524.2 66.0h0M518.8 38.8h0M517.5 45.7h0M519.9 93.0h0M522.6 67.1h0M518.5 69.2h0M514.6 65.3h0M523.0 68.5h0M518.9 94.5h0M521.0 48.6h0M515.0 69.9h0M519.7 23.4h0M523.3 54.7h0M519.5 54.6h0M516.1 70.0h0M516.6 49.7h0M522.7 63.4h0M520.2 88.4h0M516.4 63.9h0M517.9 75.4h0M516.3 44.6h0M518.5 91.2h0M524.8 61.6h0M521.3 62.4h0M519.0 89.6h0M518.5 47.4h0M518.0 89.3h0M519.8 92.2h0M518.8 58.4h0M523.9 67.5h0M518.1 59.8h0M517.9 92.4h0M519.6 49.0h0M523.0 59.7h0M519.6 34.9h0M521.2 54.3h0M521.6 47.2h0M518.0 37.5h0M519.6 38.4h0M519.3 88.1h0M518.2 74.9h0M519.1 93.9h0M519.4 60.2h0M521.6 63.3h0M519.6 39.2h0M516.2 77.2h0M516.9 74.0h0M524.4 68.0h0M518.5 35.1h0M521.7 44.9h0M522.2 73.6h0M518.4 67.2h0M516.2 59.9h0M516.5 69.1h0M517.1 38.7h0M520.6 80.6h0M517.0 51.4h0M519.8 81.2h0M517.6 72.4h0M521.7 47.6h0M520.7 34.0h0M519.7 22.3h0M517.1 44.8h0M518.7 71.1h0M518.9 73.8h0M520.2 30.6h0M519.3 101.2h0M519.1 97.9h0M521.0 38.7h0M516.1 67.6h0M519.4 42.1h0M522.4 70.9h0M517.1 47.4h0M520.7 83.2h0M517.2 59.7h0M516.1 59.7h0M519.7 75.2h0M518.7 28.3h0M518.9 38.7h0M519.0 53.4h0M520.4 66.7h0M520.8 76.0h0M521.5 38.8h0M520.4 44.6h0M519.8 30.5h0M520.5 49.7h0M517.8 58.6h0M522.5 68.6h0M520.0 78.6h0M520.2 90.5h0M518.2 57.7h0M522.2 53.8h0M519.4 101.1h0M516.7 41.7h0M520.0 58.0h0M519.7 39.6h0M518.6 71.8h0M519.0 34.5h0M519.6 46.4h0M517.7 49.0h0M518.7 26.0h0M519.9 66.4h0M519.4 95.0h0M519.1 25.8h0M523.1 62.3h0M521.5 44.4h0M521.2 82.0h0M518.4 32.1h0M520.9 50.0h0M518.9 24.6h0M519.1 55.5h0M521.1 91.6h0M516.9 67.1h0M522.0 80.1h0M518.9 21.9h0M519.8 62.2h0M519.7 30.8h0M516.6 49.2h0M522.6 77.9h0M518.7 42.6h0M522.7 59.5h0M521.9 65.9h0M517.5 88.2h0M521.1 67.4h0M522.8 57.2h0M518.9 74.9h0M523.2 56.7h0M515.1 56.0h0M520.0 59.6h0M521.6 82.6h0M520.1 55.4h0M521.3 66.1h0M519.8 25.8h0M523.8 72.6h0M524.1 58.9h0M517.7 67.1h0M517.5 73.3h0M520.6 84.1h0M522.2 50.6h0M520.8 92.4h0M522.7 74.2h0M515.5 50.7h0M520.9 60.3h0M519.8 97.3h0M522.4 71.9h0M521.2 51.6h0M518.7 61.5h0M519.2 52.2h0M514.5 66.3h0M517.6 60.2h0M520.4 37.7h0M519.3 84.6h0M516.1 59.3h0M519.0 74.6h0M522.5 66.8h0M522.1 59.7h0M516.3 51.8h0M522.5 59.1h0M518.9 31.5h0M521.9 54.3h0M518.3 87.8h0M519.7 54.8h0M520.3 84.4h0M519.6 68.5h0M516.4 69.4h0M521.5 54.6h0M518.4 35.9h0M515.4 70.3h0M522.1 49.1h0M518.1 57.6h0M520.6 54.3h0M520.6 61.6h0M521.4 63.7h0M518.8 97.4h0M519.7 37.7h0M520.1 87.0h0M516.4 48.7h0M519.8 102.0h0M522.9 59.6h0M519.1 90.4h0M517.8 53.1h0M517.8 90.1h0M518.4 71.1h0M519.5 94.0h0M523.1 60.0h0M519.5 25.7h0M517.8 58.9h0M518.9 50.4h0M519.2 19.2h0M520.0 32.1h0M517.8 62.5h0M518.5 95.4h0M520.1 51.2h0M514.8 59.2h0M523.2 68.0h0M517.8 78.6h0M521.9 76.9h0M518.6 65.6h0M522.9 54.5h0M516.6 63.3h0M518.6 34.4h0M519.6 68.8h0M524.0 69.3h0M514.9 67.6h0M517.7 72.9h0M518.9 41.8h0M522.8 50.3h0M521.3 83.0h0M517.9 86.7h0M519.8 56.6h0M520.4 57.8h0M519.6 98.7h0M515.8 77.4h0M523.9 59.0h0M514.4 67.0h0M519.1 72.7h0M517.7 38.3h0M517.9 92.8h0M520.1 54.7h0M518.1 65.4h0M516.8 61.1h0M520.5 65.5h0M519.3 22.6h0M516.3 50.9h0M522.2 48.9h0M521.3 73.6h0M523.3 53.4h0M517.4 44.9h0M516.2 80.1h0M515.3 72.4h0M516.1 49.5h0M522.1 63.0h0M520.6 88.8h0M518.4 63.3h0M521.6 84.6h0M520.4 64.1h0M519.4 75.0h0M521.6 62.6h0M522.3 54.2h0M516.1 69.4h0M517.3 65.1h0M517.6 35.6h0M518.9 58.1h0M515.2 73.7h0M517.2 42.8h0M518.9 42.4h0M522.2 56.1h0M514.7 64.8h0M519.9 37.9h0M523.3 60.8h0M517.1 77.4h0M517.8 67.9h0M522.7 67.9h0M516.3 52.0h0M522.1 45.4h0M521.6 54.2h0M518.5 86.0h0M519.3 72.8h0M516.2 79.0h0M515.2 61.4h0M522.8 56.4h0M520.9 84.3h0M517.3 50.7h0M521.1 80.3h0M519.7 37.7h0M523.5 67.2h0M517.4 86.6h0M518.3 48.7h0M521.5 59.4h0M521.2 39.9h0M524.2 59.3h0M517.5 84.9h0M515.7 51.4h0M519.3 80.0h0M517.0 56.5h0M519.6 87.0h0M520.4 48.1h0M516.9 58.8h0M520.6 74.0h0M522.0 69.6h0M517.6 77.2h0M523.0 65.9h0M518.0 69.7h0M520.0 49.1h0M515.2 73.4h0M520.4 68.4h0M524.4 67.8h0M515.5 59.7h0M519.4 75.1h0M523.0 74.4h0M523.4 54.0h0M519.8 77.7h0M516.9 49.8h0M522.4 48.2h0M522.9 52.4h0M514.8 61.1h0M519.0 53.0h0M518.6 65.1h0M518.5 58.6h0M519.5 43.0h0M519.3 61.4h0M514.9 60.5h0M515.0 53.3h0M516.0 54.1h0M520.5 83.4h0M521.0 78.6h0M519.7 65.1h0M519.2 28.6h0M520.2 44.0h0M522.6 75.5h0M519.4 68.7h0M518.2 30.3h0M517.2 62.8h0M520.3 82.8h0M519.1 82.8h0M515.3 56.8h0M516.6 82.5h0M520.7 67.5h0M521.2 81.8h0M516.6 57.1h0M516.2 65.5h0M516.9 80.1h0M518.5 93.8h0M522.1 50.9h0M520.0 58.2h0M523.4 71.2h0M523.8 64.3h0M520.4 38.0h0M519.4 30.5h0M519.4 20.4h0M521.4 36.9h0M519.5 45.4h0M519.7 94.7h0M516.0 64.4h0M517.6 60.6h0M520.5 74.5h0M517.0 57.8h0M519.0 23.8h0M517.9 82.3h0M517.3 85.5h0M519.3 63.4h0M518.0 61.8h0M517.3 77.8h0M518.9 66.6h0M518.0 92.0h0M516.1 47.2h0M515.2 53.4h0M519.9 40.3h0M521.1 67.9h0M522.1 58.3h0M519.4 71.9h0M521.3 73.7h0M518.9 103.4h0M517.5 66.0h0M516.9 62.9h0M523.9 61.9h0M516.4 76.9h0M523.1 50.4h0M519.3 79.4h0M524.4 67.4h0M521.3 47.3h0M522.2 73.6h0M517.5 65.1h0M521.4 50.3h0M517.6 80.5h0M519.7 31.6h0M522.5 69.0h0M517.5 54.5h0M523.6 60.3h0M521.9 74.4h0M518.9 28.8h0M518.8 72.2h0M520.2 81.4h0M518.4 30.1h0M523.3 60.8h0M517.0 43.9h0M519.1 41.8h0M520.3 39.7h0M519.5 47.7h0M521.9 60.7h0M519.3 98.9h0M520.1 62.8h0M518.1 85.7h0M524.7 64.8h0M517.9 76.5h0M516.6 74.9h0M515.1 61.1h0M519.8 63.7h0M514.7 64.3h0M522.2 62.2h0M522.4 61.0h0M518.3 59.2h0M519.7 35.3h0M515.6 61.8h0M520.1 78.2h0M518.0 47.2h0M520.1 77.6h0M519.2 100.0h0M523.0 59.5h0M514.4 63.5h0M521.4 89.2h0M520.3 31.6h0M517.8 36.7h0M520.4 47.2h0M521.2 74.5h0M515.8 49.2h0M520.3 82.1h0M517.0 85.4h0M517.8 85.4h0M520.7 30.7h0M523.4 68.5h0M521.2 71.9h0M520.0 23.9h0M516.8 64.0h0M518.0 56.3h0M517.7 58.7h0M521.6 70.6h0M518.6 57.7h0" stroke="#12aee9" stroke-width="1.50" stroke-linecap="round" fill="none"/><path d="M537.6 23.4h0M542.2 22.1h0M539.9 34.0h0M542.6 35.3h0M545.8 31.0h0M539.9 48.8h0M541.7 62.5h0M539.9 73.8h0M541.7 79.8h0" stroke="#e1684d" stroke-width="2.10" stroke-linecap="round" fill="none"/><path d="M563.2 46.1h0M566.7 65.8h0M568.0 67.8h0M565.4 49.4h0M564.2 73.2h0M565.6 49.2h0M565.4 91.0h0M567.8 68.6h0M560.2 67.3h0M566.0 83.2h0M567.3 68.1h0M565.0 81.3h0M565.4 85.7h0M565.5 48.4h0M566.7 66.1h0M563.9 87.0h0M565.3 70.0h0M564.5 85.1h0M561.6 79.1h0M565.0 61.0h0M562.9 86.1h0M562.0 66.6h0M563.4 74.2h0M565.3 76.4h0M561.8 66.0h0M564.2 54.4h0M563.1 64.4h0M561.3 76.4h0M559.6 71.5h0M563.1 74.6h0M564.8 99.9h0M564.2 56.5h0M561.9 81.6h0M560.1 77.2h0M564.0 73.1h0M564.8 90.5h0M563.7 101.2h0M564.9 83.0h0M566.9 64.3h0M565.9 82.5h0M565.9 62.4h0M562.7 78.5h0M566.0 55.7h0M559.9 70.1h0M563.1 66.4h0M568.8 74.1h0M565.5 47.9h0M565.2 86.9h0M564.0 71.9h0M565.4 72.0h0M562.5 60.4h0M561.6 65.7h0M560.3 65.1h0M564.0 54.0h0M564.5 69.0h0M564.9 38.2h0M563.5 72.8h0M562.9 62.5h0M561.0 64.2h0M567.1 70.4h0M565.1 69.6h0M563.2 62.6h0M565.6 46.4h0M562.9 92.4h0M564.8 73.9h0M568.9 72.1h0M564.7 102.1h0M567.2 62.3h0M560.2 66.7h0M564.2 91.7h0M564.0 82.7h0M564.2 83.6h0M561.1 70.4h0M565.3 95.3h0M562.5 79.6h0M565.0 55.7h0M567.6 63.5h0M564.4 100.5h0M567.1 62.6h0M563.9 72.4h0M562.2 65.4h0M565.0 69.7h0M564.1 54.2h0M565.8 83.6h0M565.6 67.4h0M567.9 70.2h0M560.0 77.0h0M563.1 87.1h0M566.8 68.4h0M562.1 77.8h0M565.2 54.9h0M563.6 83.1h0M566.0 77.5h0M562.4 58.4h0M562.3 71.2h0M564.9 60.0h0M563.9 92.0h0M564.8 51.8h0M567.7 70.4h0M560.6 66.3h0M564.4 82.8h0M560.1 70.6h0M566.5 74.8h0M564.7 94.1h0M562.3 62.6h0M568.1 72.5h0M565.2 57.7h0M564.8 74.5h0M567.3 72.6h0M564.0 93.8h0M564.9 98.6h0M563.1 70.2h0M565.3 87.7h0M564.3 79.4h0M564.0 84.6h0M567.0 72.0h0M567.1 73.8h0M563.0 96.3h0M565.9 70.4h0M567.4 67.6h0" stroke="#3a67a6" stroke-width="1.90" stroke-linecap="round" fill="none"/><path d="M587.6 83.4h0M585.0 84.1h0M585.3 98.7h0M590.5 92.6h0M586.4 72.6h0M582.3 94.2h0M586.9 83.8h0M587.7 107.4h0M590.0 99.4h0M587.0 71.9h0M585.5 98.0h0M585.8 91.5h0M588.4 86.0h0M584.1 88.4h0M588.0 91.4h0M586.2 78.8h0M588.9 87.4h0M585.8 78.7h0M587.9 105.2h0M587.5 81.1h0M584.8 94.3h0M584.0 101.8h0M583.1 94.9h0M589.8 100.0h0M586.5 88.9h0M589.3 96.7h0M587.2 85.2h0M584.0 99.5h0M586.7 77.0h0M587.3 98.2h0M584.5 89.0h0M584.8 95.4h0M590.7 96.3h0M586.4 84.0h0M582.6 96.8h0M585.4 85.1h0M585.7 81.1h0M589.6 90.9h0M586.9 68.7h0M587.6 106.9h0M586.6 99.9h0M586.7 74.9h0M582.5 100.1h0M589.1 93.2h0M588.2 106.8h0M589.4 100.9h0M586.5 71.5h0M587.7 102.1h0M582.6 94.0h0M584.6 96.5h0M586.9 72.4h0M590.9 93.6h0M588.5 102.0h0M590.9 97.4h0M587.2 79.4h0M585.9 88.4h0M589.7 100.8h0M587.4 88.2h0M584.1 96.0h0M589.3 95.4h0M587.4 84.6h0M585.4 88.5h0M585.0 89.3h0M585.1 97.5h0M584.6 85.2h0M586.2 102.7h0M584.5 94.0h0M586.2 71.9h0M589.2 98.2h0M587.4 105.9h0M587.2 87.8h0M589.2 95.4h0M590.0 91.1h0M583.5 92.3h0M584.2 93.7h0M586.1 101.0h0M589.5 90.3h0M587.0 84.2h0M589.9 101.3h0M584.2 98.7h0M584.4 94.6h0M584.1 97.7h0M587.8 80.7h0M583.7 89.0h0M587.2 106.0h0M586.1 87.9h0M585.6 84.1h0M587.9 106.9h0M585.4 93.2h0M588.4 89.9h0M588.9 95.2h0M586.9 111.5h0M588.2 94.4h0M585.5 97.6h0M585.7 99.0h0M588.2 99.4h0M586.8 75.6h0M587.0 75.7h0M588.5 92.6h0M583.4 101.5h0M587.8 92.7h0M587.0 88.2h0M589.1 88.8h0M587.2 104.6h0M590.4 95.6h0M587.2 90.6h0M589.7 95.5h0M587.0 95.3h0M588.1 92.1h0M588.0 107.8h0M584.6 90.8h0M584.9 94.2h0M586.8 90.1h0M586.0 87.8h0M587.9 95.8h0M585.9 88.1h0M587.5 109.2h0M587.5 104.5h0M584.7 90.0h0M584.2 90.5h0M587.6 77.4h0M590.8 94.5h0M586.6 110.6h0M587.6 85.5h0M587.0 88.8h0M583.7 103.7h0M585.6 82.8h0M585.9 97.8h0M585.1 98.8h0M585.3 100.5h0M582.9 90.8h0M586.9 100.5h0M588.7 91.4h0M582.6 95.3h0M589.7 95.3h0M586.5 82.8h0M588.6 103.4h0M585.8 101.8h0M586.8 80.1h0M585.2 82.2h0M588.6 101.9h0M582.0 94.4h0M586.6 98.3h0M583.0 101.9h0M584.4 104.4h0M585.9 78.3h0M586.9 109.7h0M585.9 96.6h0M583.9 92.9h0M586.3 76.5h0M586.1 100.3h0M582.7 94.7h0M588.5 87.9h0M586.7 85.5h0M581.9 94.6h0M586.7 103.5h0M587.9 98.2h0M587.0 105.9h0M585.9 86.8h0M584.0 90.9h0M587.8 102.2h0M589.7 94.7h0M587.2 102.2h0M586.0 73.4h0M586.8 81.7h0M585.8 103.2h0M586.0 99.4h0M589.6 92.5h0M584.0 98.8h0M585.8 90.3h0M586.4 86.0h0M585.6 94.1h0M585.3 99.3h0M587.3 79.8h0M588.1 84.4h0M586.9 79.5h0M585.7 103.4h0M586.7 90.6h0M586.6 100.2h0M588.1 93.1h0M585.5 102.8h0M586.4 82.8h0M585.2 81.9h0M584.6 93.4h0M589.7 95.7h0M586.5 80.5h0M585.5 100.1h0M586.7 94.9h0M585.6 86.9h0M586.3 108.8h0M587.1 105.0h0M590.0 99.5h0M582.2 95.4h0M582.3 93.5h0M582.8 98.8h0M588.4 89.8h0M587.2 107.5h0M587.4 77.3h0M590.8 92.9h0M583.2 100.1h0" stroke="#efa131" stroke-width="1.80" stroke-linecap="round" fill="none"/><path d="M608.9 67.9h0M609.1 108.6h0M609.6 91.0h0M605.3 91.5h0M610.3 91.9h0M606.7 86.6h0M609.9 108.2h0M609.1 87.8h0M607.5 83.4h0M607.7 76.2h0M608.9 101.5h0M611.9 96.3h0M612.2 75.9h0M607.0 102.3h0M606.2 88.0h0M612.2 88.9h0M609.8 106.7h0M610.3 80.4h0M607.3 87.7h0M612.4 92.0h0M607.7 97.9h0M611.1 103.6h0M612.2 93.8h0M607.1 73.5h0M609.6 99.6h0M607.1 86.2h0M609.6 77.3h0M610.0 68.4h0M610.3 106.5h0M614.8 87.3h0M609.6 87.5h0M612.5 89.8h0M609.1 93.3h0M609.0 110.8h0M609.3 79.8h0M613.0 85.7h0M610.3 77.6h0M612.7 93.9h0M607.7 97.1h0M610.1 97.6h0M609.5 67.9h0M606.0 87.3h0M610.0 76.6h0M609.6 67.5h0M611.0 78.4h0M609.1 98.9h0M611.4 98.0h0M609.3 110.1h0M611.8 78.9h0M610.5 81.2h0M612.0 75.5h0M608.1 69.2h0M605.5 80.7h0M604.6 93.0h0M614.7 86.8h0M608.3 92.6h0M607.6 80.0h0M607.0 92.7h0M608.4 107.1h0M604.9 86.9h0M611.9 94.7h0M612.0 91.0h0M607.8 91.3h0M605.7 77.7h0M611.1 98.3h0M606.5 92.5h0M606.3 92.6h0M610.8 78.3h0M609.0 95.3h0M606.4 89.6h0M609.3 77.0h0M610.0 68.5h0M611.9 81.1h0M609.6 97.3h0M613.7 91.9h0M609.1 108.3h0M614.3 83.5h0M613.1 96.2h0M610.1 105.3h0M613.1 87.2h0M608.9 88.5h0M611.0 89.1h0M610.9 103.4h0M609.1 79.1h0M614.0 94.3h0M607.9 76.6h0M608.5 103.5h0M606.0 84.4h0M607.8 95.1h0M612.3 85.0h0M612.0 77.9h0M604.9 94.2h0M608.8 73.9h0M613.3 87.9h0M606.0 77.8h0M604.9 78.9h0M604.2 87.5h0M612.5 87.7h0M611.4 73.3h0M605.3 90.7h0M603.3 86.0h0M606.4 78.6h0M609.6 85.4h0M610.1 73.3h0M605.5 90.8h0M607.5 104.8h0M607.9 83.2h0M607.9 74.8h0M610.7 78.6h0M611.2 80.3h0M608.2 74.7h0M606.0 77.4h0M610.2 85.2h0M607.1 84.2h0M607.8 84.9h0M606.2 97.9h0M609.9 72.9h0M612.0 77.5h0M607.5 74.9h0M613.3 90.9h0M613.7 82.1h0M608.4 86.0h0M614.2 91.1h0M607.5 75.2h0M612.0 95.2h0M612.7 88.0h0M607.6 99.9h0M612.1 83.9h0M608.2 71.3h0M611.4 100.9h0M608.5 69.0h0M610.1 74.4h0M610.0 106.1h0M609.6 69.4h0M608.9 71.7h0M610.8 84.2h0M608.9 96.7h0M613.8 82.3h0M611.4 95.6h0M607.2 73.6h0M607.5 86.1h0M608.0 107.3h0M612.9 77.3h0M608.8 65.7h0M609.6 96.0h0M609.4 96.9h0M614.3 85.3h0M608.2 97.9h0M606.0 92.2h0M613.1 88.2h0M608.8 85.6h0M609.2 98.8h0M609.0 92.2h0M611.6 99.6h0M612.4 98.8h0M610.6 70.5h0M606.8 79.4h0M614.0 91.6h0M609.5 107.4h0M608.3 108.3h0M610.9 98.1h0M611.4 84.7h0M612.4 89.6h0M611.6 88.9h0M607.3 105.2h0M610.3 101.8h0M612.3 80.2h0M607.2 70.4h0M612.6 76.5h0M608.1 88.9h0M609.1 88.0h0M604.4 79.6h0M609.5 70.0h0M611.5 75.7h0M607.8 85.0h0M610.7 97.0h0M609.2 101.9h0M607.8 77.2h0M604.1 87.2h0M608.9 98.4h0M607.8 92.6h0M606.1 81.4h0M607.7 103.0h0M607.6 69.8h0M607.2 88.5h0M614.2 89.7h0M608.7 105.1h0M612.3 99.8h0M610.6 103.5h0M610.8 86.8h0M612.4 91.5h0M614.6 89.0h0M612.1 90.4h0M608.0 71.5h0M608.0 76.1h0M610.6 95.3h0M609.5 75.0h0M608.0 81.3h0M607.2 97.8h0M608.1 101.1h0M613.9 90.0h0M610.0 76.1h0M608.9 91.2h0M606.5 85.7h0M606.1 91.5h0M606.6 81.5h0M608.0 78.3h0M608.6 98.0h0M608.9 93.6h0M610.4 76.8h0M609.6 104.8h0M609.6 66.5h0M604.6 94.7h0M607.4 103.1h0M610.2 101.5h0M605.8 84.3h0M609.5 107.1h0M608.4 74.5h0M606.9 84.6h0M607.3 100.5h0M609.4 65.2h0M609.4 87.7h0M608.0 82.9h0M605.3 97.7h0M607.0 82.4h0M608.1 78.4h0M608.7 71.7h0M606.5 74.1h0M610.6 104.4h0M607.5 68.9h0M606.6 99.0h0M608.0 71.9h0M611.6 82.8h0M607.4 88.6h0M603.4 90.4h0M606.2 98.0h0M609.5 92.7h0M604.0 91.3h0M605.9 93.4h0M606.9 102.9h0M607.1 99.9h0M604.0 90.8h0M607.8 94.0h0M608.6 82.2h0M610.4 76.8h0M605.2 89.6h0M610.9 103.1h0M608.2 72.0h0M608.8 102.9h0M607.7 97.7h0M610.0 76.8h0M610.9 80.6h0M612.7 81.8h0M611.7 79.0h0M606.7 89.4h0M611.2 75.1h0M614.9 87.4h0M611.7 99.6h0M609.1 99.0h0M609.1 74.4h0M610.8 75.7h0M606.8 99.5h0M610.1 81.0h0M609.3 69.9h0M609.0 94.9h0M609.5 102.0h0M606.7 99.2h0M606.3 88.8h0M606.6 101.8h0M610.7 96.4h0M605.7 83.1h0M608.2 69.8h0M607.3 97.0h0M609.4 82.1h0M612.0 88.3h0M608.7 86.0h0M612.3 85.7h0M609.3 93.5h0M609.0 92.7h0M612.9 94.0h0M608.0 100.2h0M610.3 96.4h0M606.2 78.4h0M609.8 103.6h0M610.4 75.5h0M611.0 98.2h0M611.9 74.9h0M608.6 87.7h0M612.6 85.7h0M612.1 75.3h0M607.9 105.7h0M607.5 85.8h0M606.6 100.2h0M609.7 77.7h0M609.0 68.2h0M612.1 90.2h0M606.4 76.4h0M610.8 75.0h0M611.5 85.1h0M613.2 84.0h0M607.0 91.2h0M613.2 85.4h0M606.9 71.1h0M607.7 102.4h0M610.5 83.7h0M613.9 93.2h0M609.6 76.7h0M610.1 77.0h0M607.9 76.9h0M614.4 83.4h0M608.2 66.3h0M613.0 92.5h0M613.1 86.5h0M610.5 81.9h0M610.2 87.5h0M609.3 89.6h0M603.5 86.5h0M609.8 100.1h0M612.9 80.4h0M605.8 82.4h0M609.8 98.0h0M613.7 89.5h0M607.9 72.9h0M613.1 91.3h0M606.7 94.4h0M603.9 89.0h0M608.6 78.2h0M610.7 91.9h0M611.0 80.5h0M607.0 88.7h0" stroke="#9ec9ea" stroke-width="1.80" stroke-linecap="round" fill="none"/><path d="M630.9 105.6h0M631.4 79.5h0M632.1 99.5h0M633.6 100.5h0M632.5 104.7h0M633.6 91.9h0M632.6 93.1h0M628.3 90.9h0M632.3 101.2h0M630.4 87.4h0M633.0 104.3h0M632.1 95.4h0M630.5 101.8h0M632.0 78.6h0M628.4 88.8h0M629.7 87.6h0M628.8 91.6h0M631.8 97.9h0M633.3 102.9h0M628.5 99.1h0M629.2 89.2h0M630.1 102.3h0M630.4 87.4h0M633.3 100.3h0M631.1 87.1h0M631.4 104.2h0M632.7 105.8h0M628.7 97.6h0M631.2 105.5h0M629.8 93.7h0M631.9 86.2h0M631.0 77.9h0M634.2 95.3h0M632.8 99.3h0M630.1 92.4h0M632.5 83.8h0M631.2 81.8h0M630.5 81.4h0M631.1 104.3h0M634.2 97.4h0M630.2 91.8h0M632.5 97.7h0M632.1 91.0h0M633.7 97.6h0M635.4 93.6h0M632.2 106.0h0M631.9 99.6h0M630.4 100.1h0M633.2 94.8h0M628.1 100.2h0M631.2 83.9h0M631.4 89.9h0M632.7 97.2h0M634.0 102.0h0M630.2 93.2h0M631.9 91.5h0M632.7 96.2h0M632.8 101.7h0M630.5 85.9h0M630.5 84.3h0M627.8 98.8h0M631.9 87.5h0M633.3 99.1h0M635.5 94.5h0M631.4 90.9h0M628.2 98.5h0M634.4 91.0h0M635.6 97.6h0M632.2 83.6h0M631.8 90.0h0M632.1 85.0h0M629.9 87.3h0M631.8 92.2h0M631.8 94.4h0M635.3 95.5h0M627.3 96.0h0M632.7 94.6h0M631.8 78.5h0M631.8 79.5h0M632.4 89.2h0M634.2 99.9h0M628.1 97.9h0M628.1 95.9h0M634.6 89.6h0M632.9 95.7h0M630.2 90.3h0M631.6 105.9h0M633.6 89.7h0M628.9 93.7h0M630.3 90.8h0M631.6 95.3h0M633.8 93.2h0M631.2 81.7h0M631.0 78.4h0M631.1 107.1h0M633.6 101.2h0M630.3 81.9h0M634.5 98.7h0M629.7 85.4h0M628.4 89.4h0" stroke="#c8174d" stroke-width="1.70" stroke-linecap="round" fill="none"/><path d="M653.9 90.5h0M651.1 93.9h0M654.2 102.2h0M657.3 96.4h0M652.0 96.5h0M647.6 98.3h0M651.4 101.8h0M653.0 104.3h0M647.6 97.5h0M653.7 109.1h0M655.8 103.1h0M650.6 101.1h0M653.7 84.7h0M657.4 101.6h0M650.7 102.1h0M656.8 99.4h0M652.5 90.3h0M648.4 99.0h0M652.1 101.5h0M654.0 112.7h0M653.7 110.4h0M652.2 95.9h0M651.3 101.8h0M654.1 110.6h0M654.5 91.0h0M651.0 99.2h0M652.7 98.7h0M659.5 99.3h0M651.4 95.0h0M653.8 108.6h0M653.0 108.9h0M654.4 102.4h0M652.1 100.3h0M651.1 104.6h0M650.4 103.4h0M653.2 85.0h0M649.2 95.6h0M651.5 99.1h0M654.7 94.3h0M657.6 96.3h0M653.8 108.8h0M654.2 110.7h0M653.6 100.9h0M655.6 99.9h0M653.2 83.7h0M650.7 95.9h0M648.1 97.6h0M652.7 97.9h0M652.6 100.3h0M653.2 106.4h0M653.5 94.4h0M654.2 102.3h0M653.0 111.8h0M650.3 95.3h0M660.2 97.6h0M658.7 96.3h0M653.8 112.2h0M655.6 101.8h0M650.4 95.6h0M654.6 106.3h0M653.0 111.1h0M653.5 90.7h0M657.4 101.8h0M655.6 98.0h0M654.3 89.5h0M653.0 89.5h0M654.4 97.1h0M658.4 99.4h0M654.8 92.0h0M649.0 98.1h0M650.4 102.9h0M654.2 112.6h0M654.9 105.8h0M651.0 95.0h0M655.1 106.7h0M658.4 97.9h0M653.5 97.9h0M651.7 97.5h0M653.5 89.6h0M654.8 109.6h0M650.4 96.0h0M653.9 91.6h0M654.2 96.2h0M654.8 94.8h0M654.8 95.1h0M654.0 112.5h0M650.4 95.9h0M648.9 96.6h0M653.0 103.7h0M658.3 96.3h0M655.7 93.5h0M655.1 95.9h0M651.8 94.0h0M652.4 107.8h0M650.8 98.3h0M653.3 113.0h0M652.3 103.2h0M656.1 101.8h0M659.8 97.8h0M655.8 98.5h0M653.6 82.6h0M654.2 113.6h0M654.1 92.1h0M650.7 94.3h0M648.8 96.5h0M654.1 92.2h0M652.1 94.8h0M647.9 97.2h0M653.5 82.9h0M652.9 97.8h0M651.2 102.1h0M658.7 100.4h0M659.0 96.8h0M654.9 108.7h0M654.7 104.1h0M647.7 97.9h0M655.9 101.0h0M658.4 97.8h0M652.7 105.1h0M656.4 95.0h0M650.0 101.1h0M650.8 99.7h0M658.9 100.1h0M653.8 81.5h0M654.0 89.7h0M651.2 93.0h0M653.2 85.1h0M655.4 104.1h0M649.3 97.3h0M652.0 91.3h0M652.1 92.1h0M657.2 99.7h0M656.8 103.7h0M656.1 105.9h0M649.8 97.6h0M652.4 90.2h0M653.4 88.7h0M654.8 109.6h0M654.9 107.2h0M650.9 98.2h0M655.8 105.1h0M653.7 97.5h0M654.9 89.9h0M656.4 99.3h0M659.1 97.8h0M656.9 100.5h0M651.5 96.9h0M653.2 93.1h0M652.7 89.4h0M654.1 91.4h0M654.0 90.3h0M654.1 105.6h0M650.7 95.5h0M648.5 96.7h0M654.3 110.8h0M654.6 95.1h0M655.0 103.8h0M653.6 105.5h0M654.3 113.2h0M655.0 104.6h0M654.5 87.7h0M650.0 94.9h0M652.8 100.1h0M652.6 93.7h0M656.8 103.4h0M656.0 103.9h0M654.3 103.6h0M655.3 104.0h0M650.3 101.7h0M656.7 93.1h0M650.1 99.6h0M654.9 108.1h0M655.5 97.8h0M657.1 100.0h0M656.9 98.3h0M656.8 103.8h0M655.2 106.6h0M648.5 99.3h0M650.2 96.2h0M655.7 106.0h0M655.6 102.7h0M654.7 106.2h0M650.9 92.8h0M658.9 97.7h0M653.2 104.2h0M654.2 97.6h0M653.4 83.9h0M653.8 82.2h0M654.2 100.6h0M653.7 86.6h0M652.9 86.9h0M650.8 96.9h0M652.9 101.9h0M654.0 96.3h0M656.9 95.0h0M653.2 102.2h0M656.1 104.2h0M655.1 89.5h0M655.6 91.8h0M651.9 104.0h0M652.4 100.9h0M653.9 90.8h0M654.0 88.6h0M652.5 109.1h0M655.8 99.1h0M654.8 89.9h0M654.8 87.0h0M649.4 98.7h0M653.7 113.5h0M650.5 93.6h0M653.3 97.1h0M652.4 89.1h0M654.4 85.0h0M656.0 102.7h0M655.8 98.1h0M654.5 89.1h0M656.9 95.6h0M654.2 110.1h0M659.4 96.8h0M655.7 93.4h0M648.6 97.0h0M652.2 103.1h0M653.8 90.4h0M653.7 96.7h0M655.0 105.2h0M651.6 93.3h0M656.2 101.7h0M654.9 98.6h0M649.0 97.1h0M653.5 112.7h0M655.8 101.3h0M655.5 99.3h0M651.4 101.0h0M654.4 99.2h0M655.8 103.3h0M655.3 107.5h0M652.3 106.7h0M655.9 91.4h0M653.6 82.2h0M655.8 91.6h0M654.7 98.1h0M656.5 94.1h0M651.9 93.8h0M657.7 94.8h0M653.8 103.1h0M657.8 99.6h0M654.2 105.6h0M651.9 95.8h0M652.1 100.2h0M654.0 87.5h0M654.3 91.1h0M658.3 96.3h0M654.6 96.8h0M653.7 91.1h0M656.6 96.2h0M655.4 89.7h0M656.2 95.2h0M654.4 98.9h0M651.4 102.0h0M656.4 102.9h0M653.5 104.5h0M658.6 97.6h0M653.3 112.0h0M654.1 98.8h0M650.3 102.5h0M655.9 95.7h0M648.3 98.7h0M653.1 97.9h0M654.2 105.5h0M657.4 102.3h0M649.0 98.5h0M654.2 103.4h0M649.9 100.1h0M654.7 98.2h0M655.5 106.4h0M657.0 100.5h0M656.3 92.0h0M657.7 96.7h0M654.5 87.7h0M655.8 102.6h0" stroke="#c9b98f" stroke-width="1.70" stroke-linecap="round" fill="none"/><path d="M631.6 66.2h0" stroke="#f0f0c8" stroke-width="1.20" stroke-linecap="round" fill="none"/><rect x="488.30" y="88.30" width="17.20" height="10.90" fill="none" stroke="#13998b" stroke-width="1.0"/><line x1="488.30" y1="92.80" x2="505.50" y2="92.80" stroke="#13998b" stroke-width="1.0"/><rect x="510.50" y="52.10" width="17.30" height="19.40" fill="none" stroke="#12aee9" stroke-width="1.0"/><line x1="510.50" y1="63.00" x2="527.80" y2="63.00" stroke="#12aee9" stroke-width="1.0"/><line x1="541.85" y1="21.60" x2="541.85" y2="31.40" stroke="#e1684d" stroke-width="0.9"/><line x1="541.85" y1="62.50" x2="541.85" y2="80.40" stroke="#e1684d" stroke-width="0.9"/><rect x="533.10" y="31.40" width="17.50" height="31.10" fill="none" stroke="#e1684d" stroke-width="1.0"/><line x1="533.10" y1="35.30" x2="550.60" y2="35.30" stroke="#e1684d" stroke-width="1.0"/><rect x="555.20" y="63.60" width="17.30" height="17.90" fill="none" stroke="#3a67a6" stroke-width="1.0"/><line x1="555.20" y1="70.60" x2="572.50" y2="70.60" stroke="#3a67a6" stroke-width="1.0"/><rect x="577.80" y="88.90" width="17.40" height="11.70" fill="none" stroke="#efa131" stroke-width="1.0"/><line x1="577.80" y1="94.80" x2="595.20" y2="94.80" stroke="#efa131" stroke-width="1.0"/><rect x="600.30" y="81.70" width="17.40" height="11.60" fill="none" stroke="#9ec9ea" stroke-width="1.0"/><line x1="600.30" y1="87.50" x2="617.70" y2="87.50" stroke="#9ec9ea" stroke-width="1.0"/><rect x="622.50" y="90.40" width="17.50" height="12.20" fill="none" stroke="#c8174d" stroke-width="1.0"/><line x1="622.50" y1="96.60" x2="640.00" y2="96.60" stroke="#c8174d" stroke-width="1.0"/><rect x="644.90" y="94.50" width="17.50" height="7.80" fill="none" stroke="#c9b98f" stroke-width="1.0"/><line x1="644.90" y1="98.40" x2="662.40" y2="98.40" stroke="#c9b98f" stroke-width="1.0"/><line x1="41.20" y1="228.00" x2="41.20" y2="341.20" stroke="#9a9a9a" stroke-width="0.8"/><line x1="41.20" y1="341.20" x2="245.20" y2="341.20" stroke="#9a9a9a" stroke-width="0.8"/><line x1="38.60" y1="340.90" x2="41.20" y2="340.90" stroke="#888" stroke-width="0.8"/><text x="35.00" y="343.50" font-size="8.13" text-anchor="end" textLength="4.23" lengthAdjust="spacingAndGlyphs" fill="#444">0</text><line x1="38.60" y1="318.48" x2="41.20" y2="318.48" stroke="#888" stroke-width="0.8"/><text x="35.00" y="321.08" font-size="8.13" text-anchor="end" textLength="10.57" lengthAdjust="spacingAndGlyphs" fill="#444">0.2</text><line x1="38.60" y1="296.06" x2="41.20" y2="296.06" stroke="#888" stroke-width="0.8"/><text x="35.00" y="298.66" font-size="8.13" text-anchor="end" textLength="10.57" lengthAdjust="spacingAndGlyphs" fill="#444">0.4</text><line x1="38.60" y1="273.64" x2="41.20" y2="273.64" stroke="#888" stroke-width="0.8"/><text x="35.00" y="276.24" font-size="8.13" text-anchor="end" textLength="10.57" lengthAdjust="spacingAndGlyphs" fill="#444">0.6</text><line x1="38.60" y1="251.22" x2="41.20" y2="251.22" stroke="#888" stroke-width="0.8"/><text x="35.00" y="253.82" font-size="8.13" text-anchor="end" textLength="10.57" lengthAdjust="spacingAndGlyphs" fill="#444">0.8</text><line x1="38.60" y1="228.80" x2="41.20" y2="228.80" stroke="#888" stroke-width="0.8"/><text x="35.00" y="231.40" font-size="8.13" text-anchor="end" textLength="10.57" lengthAdjust="spacingAndGlyphs" fill="#444">1.0</text><text x="7.30" y="285.00" font-size="8.45" text-anchor="middle" textLength="57.60" lengthAdjust="spacingAndGlyphs" fill="#444" transform="rotate(-90 7.30 285.00)">Ratio in all ECs</text><text x="16.40" y="285.00" font-size="8.45" text-anchor="middle" textLength="30.50" lengthAdjust="spacingAndGlyphs" fill="#444" transform="rotate(-90 16.40 285.00)">(pri.OT)</text><line x1="57.20" y1="341.20" x2="57.20" y2="343.80" stroke="#888" stroke-width="0.8"/><line x1="81.67" y1="341.20" x2="81.67" y2="343.80" stroke="#888" stroke-width="0.8"/><line x1="106.14" y1="341.20" x2="106.14" y2="343.80" stroke="#888" stroke-width="0.8"/><line x1="130.61" y1="341.20" x2="130.61" y2="343.80" stroke="#888" stroke-width="0.8"/><line x1="155.08" y1="341.20" x2="155.08" y2="343.80" stroke="#888" stroke-width="0.8"/><line x1="179.55" y1="341.20" x2="179.55" y2="343.80" stroke="#888" stroke-width="0.8"/><line x1="204.02" y1="341.20" x2="204.02" y2="343.80" stroke="#888" stroke-width="0.8"/><line x1="228.49" y1="341.20" x2="228.49" y2="343.80" stroke="#888" stroke-width="0.8"/><text x="61.60" y="349.00" font-size="8.88" text-anchor="end" textLength="73.00" lengthAdjust="spacingAndGlyphs" fill="#444" transform="rotate(-45 61.60 349.00)">E01_ENDO-CCL14</text><text x="86.07" y="349.00" font-size="8.88" text-anchor="end" textLength="78.00" lengthAdjust="spacingAndGlyphs" fill="#444" transform="rotate(-45 86.07 349.00)">E02_ENDO-IL13RA1</text><text x="110.54" y="349.00" font-size="8.88" text-anchor="end" textLength="61.50" lengthAdjust="spacingAndGlyphs" fill="#444" transform="rotate(-45 110.54 349.00)">E03_ENDO-KIT</text><text x="135.01" y="349.00" font-size="8.88" text-anchor="end" textLength="74.00" lengthAdjust="spacingAndGlyphs" fill="#444" transform="rotate(-45 135.01 349.00)">E04_ENDO-MKI67</text><text x="159.48" y="349.00" font-size="8.88" text-anchor="end" textLength="88.50" lengthAdjust="spacingAndGlyphs" fill="#444" transform="rotate(-45 159.48 349.00)">E05_ENDO-SERPINE2</text><text x="183.95" y="349.00" font-size="8.88" text-anchor="end" textLength="78.50" lengthAdjust="spacingAndGlyphs" fill="#444" transform="rotate(-45 183.95 349.00)">E06_ENDO-VCAM1</text><text x="208.42" y="349.00" font-size="8.88" text-anchor="end" textLength="91.00" lengthAdjust="spacingAndGlyphs" fill="#444" transform="rotate(-45 208.42 349.00)">E07_Lymphatic-PDPN</text><text x="232.89" y="349.00" font-size="8.88" text-anchor="end" textLength="88.50" lengthAdjust="spacingAndGlyphs" fill="#444" transform="rotate(-45 232.89 349.00)">E08_Lymphatic-PLAT</text><line x1="57.20" y1="339.40" x2="57.20" y2="340.20" stroke="#13998b" stroke-width="1.0"/><line x1="53.80" y1="339.40" x2="60.60" y2="339.40" stroke="#13998b" stroke-width="1.0"/><rect x="50.70" y="340.20" width="13.00" height="0.80" fill="none" stroke="#13998b" stroke-width="1.0"/><path d="M51.2 340.8h0M52.7 340.8h0M54.2 340.8h0M55.7 340.8h0M57.2 340.8h0M58.7 340.8h0M60.2 340.8h0M61.7 340.8h0M63.2 340.8h0M52.7 339.6h0" stroke="#13998b" stroke-width="2.30" stroke-linecap="round" fill="none"/><line x1="81.67" y1="236.65" x2="81.67" y2="244.49" stroke="#12aee9" stroke-width="1.0"/><line x1="78.27" y1="236.65" x2="85.07" y2="236.65" stroke="#12aee9" stroke-width="1.0"/><line x1="81.67" y1="299.20" x2="81.67" y2="341.00" stroke="#12aee9" stroke-width="1.0"/><rect x="73.77" y="244.49" width="15.80" height="54.70" fill="none" stroke="#12aee9" stroke-width="1.0"/><line x1="73.77" y1="259.63" x2="89.57" y2="259.63" stroke="#12aee9" stroke-width="1.0"/><path d="M80.4 236.7h0M83.3 238.1h0M80.4 246.5h0M83.2 245.6h0M80.4 260.5h0M83.2 259.5h0M81.3 285.0h0M81.3 294.0h0M81.3 315.3h0M81.3 340.6h0" stroke="#12aee9" stroke-width="2.50" stroke-linecap="round" fill="none"/><line x1="106.14" y1="322.20" x2="106.14" y2="338.20" stroke="#e1684d" stroke-width="1.0"/><line x1="102.74" y1="322.20" x2="109.54" y2="322.20" stroke="#e1684d" stroke-width="1.0"/><rect x="99.84" y="338.20" width="12.60" height="2.80" fill="none" stroke="#e1684d" stroke-width="1.0"/><line x1="99.84" y1="340.00" x2="112.44" y2="340.00" stroke="#e1684d" stroke-width="1.0"/><path d="M100.6 340.6h0M102.2 340.6h0M103.8 340.6h0M105.4 340.6h0M107.0 340.6h0M108.6 340.6h0M110.2 340.6h0M111.8 340.6h0M106.1 337.8h0" stroke="#e1684d" stroke-width="2.30" stroke-linecap="round" fill="none"/><line x1="130.61" y1="328.40" x2="130.61" y2="333.30" stroke="#3a67a6" stroke-width="1.0"/><line x1="127.21" y1="328.40" x2="134.01" y2="328.40" stroke="#3a67a6" stroke-width="1.0"/><rect x="123.71" y="333.30" width="13.80" height="7.30" fill="none" stroke="#3a67a6" stroke-width="1.0"/><line x1="123.71" y1="338.50" x2="137.51" y2="338.50" stroke="#3a67a6" stroke-width="1.0"/><path d="M124.6 340.2h0M126.4 340.2h0M128.2 340.2h0M130.0 340.2h0M131.8 340.2h0M133.6 340.2h0M135.4 340.2h0M137.2 340.2h0M131.1 334.0h0M132.4 336.0h0M129.6 332.5h0" stroke="#3a67a6" stroke-width="2.30" stroke-linecap="round" fill="none"/><line x1="155.08" y1="332.00" x2="155.08" y2="335.80" stroke="#efa131" stroke-width="1.0"/><line x1="151.68" y1="332.00" x2="158.48" y2="332.00" stroke="#efa131" stroke-width="1.0"/><rect x="147.18" y="335.80" width="15.80" height="5.00" fill="none" stroke="#efa131" stroke-width="1.0"/><line x1="147.18" y1="338.50" x2="162.98" y2="338.50" stroke="#efa131" stroke-width="1.0"/><path d="M148.6 340.6h0M150.4 340.6h0M152.2 340.6h0M154.0 340.6h0M155.8 340.6h0M157.6 340.6h0M159.4 340.6h0M161.2 340.6h0M155.1 334.5h0M155.8 336.2h0" stroke="#efa131" stroke-width="2.30" stroke-linecap="round" fill="none"/><line x1="179.55" y1="285.40" x2="179.55" y2="292.40" stroke="#9ec9ea" stroke-width="1.0"/><line x1="176.15" y1="285.40" x2="182.95" y2="285.40" stroke="#9ec9ea" stroke-width="1.0"/><line x1="179.55" y1="338.10" x2="179.55" y2="341.00" stroke="#9ec9ea" stroke-width="1.0"/><rect x="171.65" y="292.40" width="15.80" height="45.70" fill="none" stroke="#9ec9ea" stroke-width="1.0"/><line x1="171.65" y1="328.30" x2="187.45" y2="328.30" stroke="#9ec9ea" stroke-width="1.0"/><path d="M178.8 286.3h0M180.6 285.8h0M179.4 294.3h0M179.4 304.3h0M179.4 323.3h0M179.4 333.0h0M179.4 336.0h0M179.4 338.8h0M177.6 340.8h0M181.3 340.8h0" stroke="#9ec9ea" stroke-width="2.50" stroke-linecap="round" fill="none"/><line x1="204.02" y1="321.80" x2="204.02" y2="340.80" stroke="#c8174d" stroke-width="1.0"/><line x1="200.62" y1="321.80" x2="207.42" y2="321.80" stroke="#c8174d" stroke-width="1.0"/><rect x="203.92" y="340.80" width="0.20" height="0.20" fill="none" stroke="#c8174d" stroke-width="1.0"/><path d="M197.5 340.6h0M199.1 340.6h0M200.7 340.6h0M202.3 340.6h0M203.9 340.6h0M205.5 340.6h0M207.1 340.6h0M208.7 340.6h0M210.3 340.6h0" stroke="#c8174d" stroke-width="2.30" stroke-linecap="round" fill="none"/><line x1="228.49" y1="337.60" x2="228.49" y2="339.80" stroke="#c9b98f" stroke-width="1.0"/><line x1="225.69" y1="337.60" x2="231.29" y2="337.60" stroke="#c9b98f" stroke-width="1.0"/><rect x="221.99" y="339.80" width="13.00" height="1.20" fill="none" stroke="#c9b98f" stroke-width="1.0"/><path d="M222.5 340.6h0M224.0 340.6h0M225.5 340.6h0M227.0 340.6h0M228.5 340.6h0M230.0 340.6h0M231.5 340.6h0M233.0 340.6h0M234.5 340.6h0" stroke="#c9b98f" stroke-width="2.30" stroke-linecap="round" fill="none"/><line x1="308.30" y1="236.30" x2="276.60" y2="267.50" stroke="#1a1a1a" stroke-width="3.4"/><line x1="276.60" y1="267.50" x2="329.00" y2="318.30" stroke="#1a1a1a" stroke-width="1.5"/><line x1="329.00" y1="318.30" x2="364.00" y2="358.70" stroke="#1a1a1a" stroke-width="3.8"/><line x1="364.00" y1="358.70" x2="390.30" y2="296.70" stroke="#1a1a1a" stroke-width="1.3"/><circle cx="308.30" cy="236.30" r="5.40" fill="#f08a32"/><circle cx="276.60" cy="267.50" r="2.00" fill="#1b9e5a"/><circle cx="329.00" cy="318.30" r="3.80" fill="#d42a38"/><circle cx="364.00" cy="358.70" r="4.50" fill="#2372b4"/><circle cx="390.30" cy="296.70" r="4.00" fill="#7a56a8"/><text x="307.40" y="228.30" font-size="7.92" textLength="77.00" lengthAdjust="spacingAndGlyphs" fill="#444">E02_ENDO-IL13RA1</text><text x="283.90" y="270.00" font-size="7.92" textLength="60.00" lengthAdjust="spacingAndGlyphs" fill="#444">E03_ENDO-KIT</text><text x="356.00" y="290.60" font-size="7.92" textLength="75.60" lengthAdjust="spacingAndGlyphs" fill="#444">E06_ENDO-VCAM1</text><text x="281.30" y="312.50" font-size="7.92" textLength="86.00" lengthAdjust="spacingAndGlyphs" fill="#444">E05_ENDO-SERPINE2</text><text x="326.50" y="372.30" font-size="7.92" textLength="71.30" lengthAdjust="spacingAndGlyphs" fill="#444">E01_ENDO-CCL14</text><line x1="486.40" y1="227.50" x2="486.40" y2="344.20" stroke="#9a9a9a" stroke-width="0.8"/><line x1="486.40" y1="344.20" x2="559.00" y2="344.20" stroke="#9a9a9a" stroke-width="0.8"/><line x1="483.80" y1="339.10" x2="486.40" y2="339.10" stroke="#888" stroke-width="0.8"/><text x="480.00" y="341.70" font-size="8.13" text-anchor="end" textLength="4.23" lengthAdjust="spacingAndGlyphs" fill="#444">0</text><line x1="483.80" y1="311.48" x2="486.40" y2="311.48" stroke="#888" stroke-width="0.8"/><text x="480.00" y="314.08" font-size="8.13" text-anchor="end" textLength="14.79" lengthAdjust="spacingAndGlyphs" fill="#444">0.25</text><line x1="483.80" y1="283.85" x2="486.40" y2="283.85" stroke="#888" stroke-width="0.8"/><text x="480.00" y="286.45" font-size="8.13" text-anchor="end" textLength="14.79" lengthAdjust="spacingAndGlyphs" fill="#444">0.50</text><line x1="483.80" y1="256.23" x2="486.40" y2="256.23" stroke="#888" stroke-width="0.8"/><text x="480.00" y="258.83" font-size="8.13" text-anchor="end" textLength="14.79" lengthAdjust="spacingAndGlyphs" fill="#444">0.75</text><line x1="483.80" y1="228.60" x2="486.40" y2="228.60" stroke="#888" stroke-width="0.8"/><text x="480.00" y="231.20" font-size="8.13" text-anchor="end" textLength="14.79" lengthAdjust="spacingAndGlyphs" fill="#444">1.00</text><line x1="507.30" y1="344.20" x2="507.30" y2="346.80" stroke="#888" stroke-width="0.8"/><line x1="544.50" y1="344.20" x2="544.50" y2="346.80" stroke="#888" stroke-width="0.8"/><text x="509.70" y="350.20" font-size="8.56" text-anchor="end" textLength="36.00" lengthAdjust="spacingAndGlyphs" fill="#444" transform="rotate(-45 509.70 350.20)">Sensitive</text><text x="546.90" y="351.20" font-size="8.56" text-anchor="end" textLength="37.50" lengthAdjust="spacingAndGlyphs" fill="#444" transform="rotate(-45 546.90 351.20)">Resistant</text><line x1="593.60" y1="227.50" x2="593.60" y2="344.20" stroke="#9a9a9a" stroke-width="0.8"/><line x1="593.60" y1="344.20" x2="665.50" y2="344.20" stroke="#9a9a9a" stroke-width="0.8"/><line x1="591.00" y1="339.10" x2="593.60" y2="339.10" stroke="#888" stroke-width="0.8"/><text x="587.20" y="341.70" font-size="8.13" text-anchor="end" textLength="4.23" lengthAdjust="spacingAndGlyphs" fill="#444">0</text><line x1="591.00" y1="311.48" x2="593.60" y2="311.48" stroke="#888" stroke-width="0.8"/><text x="587.20" y="314.08" font-size="8.13" text-anchor="end" textLength="14.79" lengthAdjust="spacingAndGlyphs" fill="#444">0.25</text><line x1="591.00" y1="283.85" x2="593.60" y2="283.85" stroke="#888" stroke-width="0.8"/><text x="587.20" y="286.45" font-size="8.13" text-anchor="end" textLength="14.79" lengthAdjust="spacingAndGlyphs" fill="#444">0.50</text><line x1="591.00" y1="256.23" x2="593.60" y2="256.23" stroke="#888" stroke-width="0.8"/><text x="587.20" y="258.83" font-size="8.13" text-anchor="end" textLength="14.79" lengthAdjust="spacingAndGlyphs" fill="#444">0.75</text><line x1="591.00" y1="228.60" x2="593.60" y2="228.60" stroke="#888" stroke-width="0.8"/><text x="587.20" y="231.20" font-size="8.13" text-anchor="end" textLength="14.79" lengthAdjust="spacingAndGlyphs" fill="#444">1.00</text><line x1="614.30" y1="344.20" x2="614.30" y2="346.80" stroke="#888" stroke-width="0.8"/><line x1="651.00" y1="344.20" x2="651.00" y2="346.80" stroke="#888" stroke-width="0.8"/><text x="616.70" y="350.20" font-size="8.56" text-anchor="end" textLength="36.00" lengthAdjust="spacingAndGlyphs" fill="#444" transform="rotate(-45 616.70 350.20)">Sensitive</text><text x="653.40" y="351.20" font-size="8.56" text-anchor="end" textLength="37.50" lengthAdjust="spacingAndGlyphs" fill="#444" transform="rotate(-45 653.40 351.20)">Resistant</text><text x="458.30" y="287.80" font-size="8.99" text-anchor="middle" textLength="105.50" lengthAdjust="spacingAndGlyphs" fill="#444" transform="rotate(-90 458.30 287.80)">Proportion of ECs in pri.OT</text><line x1="507.30" y1="237.99" x2="507.30" y2="249.15" stroke="#d9787c" stroke-width="0.9"/><line x1="507.30" y1="237.99" x2="507.30" y2="237.99" stroke="#d9787c" stroke-width="0.9"/><line x1="507.30" y1="301.20" x2="507.30" y2="339.10" stroke="#d9787c" stroke-width="0.9"/><rect x="496.40" y="249.15" width="21.80" height="52.05" fill="none" stroke="#d9787c" stroke-width="0.9"/><line x1="496.40" y1="283.85" x2="518.20" y2="283.85" stroke="#d9787c" stroke-width="0.9"/><circle cx="505.9" cy="237.9" r="1.35" fill="none" stroke="#d9787c" stroke-width="0.8"/><circle cx="512.4" cy="244.2" r="1.35" fill="none" stroke="#d9787c" stroke-width="0.8"/><circle cx="505.9" cy="254.0" r="1.35" fill="none" stroke="#d9787c" stroke-width="0.8"/><circle cx="503.1" cy="283.7" r="1.35" fill="none" stroke="#d9787c" stroke-width="0.8"/><circle cx="507.8" cy="288.8" r="1.35" fill="none" stroke="#d9787c" stroke-width="0.8"/><circle cx="508.3" cy="313.3" r="1.35" fill="none" stroke="#d9787c" stroke-width="0.8"/><circle cx="512.0" cy="339.0" r="1.35" fill="none" stroke="#d9787c" stroke-width="0.8"/><rect x="535.20" y="229.00" width="21.80" height="2.40" fill="none" stroke="#5b86c5" stroke-width="0.9"/><line x1="545.50" y1="228.40" x2="545.50" y2="231.80" stroke="#5b86c5" stroke-width="0.9"/><circle cx="540.4" cy="228.5" r="1.0" fill="none" stroke="#5b86c5" stroke-width="0.7"/><circle cx="544.0" cy="229.0" r="1.0" fill="none" stroke="#5b86c5" stroke-width="0.7"/><circle cx="549.6" cy="232.2" r="1.0" fill="none" stroke="#5b86c5" stroke-width="0.7"/><line x1="505.00" y1="223.30" x2="546.90" y2="223.30" stroke="#333" stroke-width="1.2"/><text x="524.00" y="219.30" font-size="7.28" text-anchor="middle" textLength="33.71" lengthAdjust="spacingAndGlyphs" fill="#444">* <tspan font-style="italic">P</tspan> = 0.012</text><line x1="614.30" y1="266.17" x2="614.30" y2="284.96" stroke="#d9787c" stroke-width="0.9"/><line x1="614.30" y1="266.17" x2="614.30" y2="266.17" stroke="#d9787c" stroke-width="0.9"/><line x1="614.30" y1="325.40" x2="614.30" y2="332.47" stroke="#d9787c" stroke-width="0.9"/><rect x="603.50" y="284.96" width="21.60" height="40.44" fill="none" stroke="#d9787c" stroke-width="0.9"/><line x1="603.50" y1="289.04" x2="625.10" y2="289.04" stroke="#d9787c" stroke-width="0.9"/><circle cx="608.3" cy="265.8" r="1.35" fill="none" stroke="#d9787c" stroke-width="0.8"/><circle cx="609.2" cy="284.2" r="1.35" fill="none" stroke="#d9787c" stroke-width="0.8"/><circle cx="619.7" cy="284.2" r="1.35" fill="none" stroke="#d9787c" stroke-width="0.8"/><circle cx="611.5" cy="289.0" r="1.35" fill="none" stroke="#d9787c" stroke-width="0.8"/><circle cx="615.2" cy="321.0" r="1.35" fill="none" stroke="#d9787c" stroke-width="0.8"/><circle cx="611.5" cy="333.0" r="1.35" fill="none" stroke="#d9787c" stroke-width="0.8"/><circle cx="619.7" cy="330.2" r="1.35" fill="none" stroke="#d9787c" stroke-width="0.8"/><rect x="640.60" y="337.20" width="20.90" height="2.30" fill="none" stroke="#5b86c5" stroke-width="0.9"/><circle cx="647.0" cy="336.6" r="1.0" fill="none" stroke="#5b86c5" stroke-width="0.8"/><circle cx="646.0" cy="339.2" r="1.0" fill="none" stroke="#5b86c5" stroke-width="0.8"/><circle cx="645.2" cy="339.6" r="1.0" fill="none" stroke="#5b86c5" stroke-width="0.8"/><line x1="614.30" y1="242.60" x2="651.70" y2="242.60" stroke="#333" stroke-width="1.2"/><text x="633.60" y="238.60" font-size="7.28" text-anchor="middle" textLength="40.14" lengthAdjust="spacingAndGlyphs" fill="#444">** <tspan font-style="italic">P</tspan> = 0.0098</text><line x1="480.40" y1="380.50" x2="558.10" y2="380.50" stroke="#222" stroke-width="1.0"/><line x1="590.20" y1="380.50" x2="667.30" y2="380.50" stroke="#222" stroke-width="1.0"/><text x="482.70" y="390.80" font-size="7.92" textLength="77.00" lengthAdjust="spacingAndGlyphs" fill="#444">E02_ENDO-IL13RA1</text><text x="592.50" y="390.80" font-size="7.92" textLength="75.80" lengthAdjust="spacingAndGlyphs" fill="#444">E06_ENDO-VCAM1</text><rect x="40.60" y="439.00" width="177.10" height="164.10" fill="none" stroke="#9a9a9a" stroke-width="0.8"/><line x1="48.30" y1="603.10" x2="48.30" y2="605.70" stroke="#888" stroke-width="0.8"/><text x="48.30" y="615.00" font-size="8.13" text-anchor="middle" textLength="4.23" lengthAdjust="spacingAndGlyphs" fill="#444">0</text><line x1="38.00" y1="596.50" x2="40.60" y2="596.50" stroke="#888" stroke-width="0.8"/><text x="34.30" y="599.10" font-size="8.13" text-anchor="end" textLength="4.23" lengthAdjust="spacingAndGlyphs" fill="#444">0</text><line x1="81.80" y1="603.10" x2="81.80" y2="605.70" stroke="#888" stroke-width="0.8"/><text x="81.80" y="615.00" font-size="8.13" text-anchor="middle" textLength="4.23" lengthAdjust="spacingAndGlyphs" fill="#444">1</text><line x1="38.00" y1="566.30" x2="40.60" y2="566.30" stroke="#888" stroke-width="0.8"/><text x="34.30" y="568.90" font-size="8.13" text-anchor="end" textLength="4.23" lengthAdjust="spacingAndGlyphs" fill="#444">1</text><line x1="115.30" y1="603.10" x2="115.30" y2="605.70" stroke="#888" stroke-width="0.8"/><text x="115.30" y="615.00" font-size="8.13" text-anchor="middle" textLength="4.23" lengthAdjust="spacingAndGlyphs" fill="#444">2</text><line x1="38.00" y1="536.10" x2="40.60" y2="536.10" stroke="#888" stroke-width="0.8"/><text x="34.30" y="538.70" font-size="8.13" text-anchor="end" textLength="4.23" lengthAdjust="spacingAndGlyphs" fill="#444">2</text><line x1="148.80" y1="603.10" x2="148.80" y2="605.70" stroke="#888" stroke-width="0.8"/><text x="148.80" y="615.00" font-size="8.13" text-anchor="middle" textLength="4.23" lengthAdjust="spacingAndGlyphs" fill="#444">3</text><line x1="38.00" y1="505.90" x2="40.60" y2="505.90" stroke="#888" stroke-width="0.8"/><text x="34.30" y="508.50" font-size="8.13" text-anchor="end" textLength="4.23" lengthAdjust="spacingAndGlyphs" fill="#444">3</text><line x1="182.30" y1="603.10" x2="182.30" y2="605.70" stroke="#888" stroke-width="0.8"/><text x="182.30" y="615.00" font-size="8.13" text-anchor="middle" textLength="4.23" lengthAdjust="spacingAndGlyphs" fill="#444">4</text><line x1="38.00" y1="475.70" x2="40.60" y2="475.70" stroke="#888" stroke-width="0.8"/><text x="34.30" y="478.30" font-size="8.13" text-anchor="end" textLength="4.23" lengthAdjust="spacingAndGlyphs" fill="#444">4</text><line x1="215.80" y1="603.10" x2="215.80" y2="605.70" stroke="#888" stroke-width="0.8"/><text x="215.80" y="615.00" font-size="8.13" text-anchor="middle" textLength="4.23" lengthAdjust="spacingAndGlyphs" fill="#444">5</text><line x1="38.00" y1="445.50" x2="40.60" y2="445.50" stroke="#888" stroke-width="0.8"/><text x="34.30" y="448.10" font-size="8.13" text-anchor="end" textLength="4.23" lengthAdjust="spacingAndGlyphs" fill="#444">5</text><text x="128.20" y="627.00" font-size="9.42" text-anchor="middle" textLength="94.50" lengthAdjust="spacingAndGlyphs" fill="#444">Mean expression of E02</text><text x="23.90" y="522.20" font-size="9.42" text-anchor="middle" textLength="95.30" lengthAdjust="spacingAndGlyphs" fill="#444" transform="rotate(-90 23.90 522.20)">Mean expression of E06</text><path d="M56.1 591.4h0M64.9 580.7h0M85.7 574.1h0M73.4 573.2h0M91.3 566.2h0M56.0 594.5h0M58.7 595.4h0M85.5 562.2h0M54.3 578.1h0M77.2 568.4h0M76.7 576.9h0M52.4 594.7h0M83.2 573.1h0M91.7 566.5h0M72.3 578.7h0M58.8 592.1h0M59.1 588.7h0M83.7 570.7h0M76.2 577.8h0M69.7 596.7h0M52.7 593.4h0M72.3 582.9h0M65.8 590.2h0M85.3 561.0h0M71.2 580.9h0M87.1 564.7h0M72.8 578.9h0M70.1 582.2h0M51.9 592.4h0M61.8 582.7h0M69.9 588.4h0M61.6 575.0h0M62.9 583.2h0M52.0 594.7h0M83.6 567.3h0M86.1 559.1h0M80.3 572.1h0M55.8 587.4h0M86.5 563.5h0M64.1 583.1h0M58.9 579.8h0M89.9 567.1h0M81.4 559.4h0M62.7 586.1h0M65.4 576.3h0M69.2 572.0h0M77.9 570.2h0M85.1 566.9h0M81.7 565.4h0M68.0 571.3h0M51.2 585.7h0M62.3 578.9h0M88.1 566.9h0M84.4 565.7h0M52.6 584.0h0M72.0 575.9h0M81.2 579.2h0M80.9 564.2h0M78.9 565.5h0M61.4 583.4h0M71.6 580.2h0M86.8 565.9h0M55.0 594.0h0M68.4 579.1h0M63.3 586.3h0M57.9 586.3h0M76.6 571.1h0M62.5 587.8h0M54.0 595.2h0M57.2 580.8h0M77.0 576.6h0M53.1 592.7h0M60.0 584.1h0M58.9 590.7h0M73.1 572.2h0M52.4 593.7h0M75.2 569.3h0M80.3 562.6h0M57.3 589.4h0M60.4 583.7h0M57.0 596.0h0M50.9 592.4h0M47.9 587.8h0M78.1 570.9h0M61.4 582.0h0M69.7 578.4h0M62.0 590.8h0M76.0 574.7h0M62.0 578.2h0M56.0 584.8h0M55.5 593.8h0M51.3 590.7h0M83.1 565.5h0M83.6 562.8h0M77.9 567.9h0M81.6 566.7h0M86.0 568.3h0M63.4 592.5h0M52.8 591.2h0M62.0 580.7h0M78.8 567.1h0M54.4 590.4h0M81.2 567.4h0M79.5 567.8h0M55.8 584.2h0M72.7 575.3h0M70.2 580.3h0M76.9 574.9h0M50.4 593.2h0M71.2 581.8h0M66.2 578.5h0M66.5 584.1h0M71.3 578.7h0M49.7 586.8h0M67.5 577.6h0M56.0 585.5h0M60.2 584.1h0M57.8 583.6h0M84.0 568.2h0M88.4 565.1h0M64.8 593.4h0M74.8 575.2h0M54.8 593.0h0M54.2 579.0h0M65.2 585.2h0M66.0 585.2h0M64.5 579.6h0M81.7 565.8h0M62.0 583.3h0M49.1 591.0h0M60.5 589.9h0M66.9 584.9h0M62.0 575.5h0M83.9 571.2h0M56.4 589.2h0M43.5 583.5h0M58.7 582.1h0M55.3 586.5h0M65.6 572.5h0M52.3 590.0h0M56.9 595.1h0M59.6 591.0h0M68.9 590.3h0M54.4 589.7h0M60.8 582.8h0M53.5 595.7h0M72.4 585.0h0M70.9 576.2h0M50.8 592.5h0M77.7 561.4h0M89.5 566.7h0M71.9 570.1h0M85.9 562.1h0M57.0 592.1h0M51.3 590.8h0M47.6 586.3h0M64.8 589.3h0M73.7 567.0h0M75.2 570.7h0M57.6 584.0h0M82.3 572.9h0M64.7 581.3h0M55.9 583.5h0M60.1 589.3h0M86.7 561.3h0M85.0 560.7h0M53.2 587.3h0M85.7 561.7h0M56.2 581.9h0M52.5 595.7h0M52.1 591.3h0M66.9 584.5h0M66.6 573.4h0M75.3 580.4h0M73.4 575.5h0M82.7 557.2h0M61.2 569.3h0M84.9 568.9h0M76.2 573.6h0M81.3 556.9h0M83.8 573.5h0M67.8 584.5h0M77.2 572.5h0M56.6 574.8h0M76.7 570.6h0M82.8 577.4h0M78.7 575.5h0M71.4 579.1h0M78.4 578.1h0M70.1 578.7h0M55.7 588.7h0M61.2 585.7h0M60.2 581.8h0M57.6 590.1h0M68.2 579.4h0M85.1 562.5h0M50.7 588.1h0M55.5 583.3h0M68.8 579.6h0M69.9 579.3h0M69.4 570.1h0M48.0 588.7h0M56.5 590.6h0M64.3 581.2h0M75.7 578.6h0M67.1 582.8h0M53.2 595.4h0M60.7 587.5h0M51.4 591.6h0M81.6 572.4h0M78.0 573.4h0M78.9 565.5h0M58.8 585.9h0M58.1 588.2h0M56.8 593.6h0M76.7 570.4h0M52.8 588.3h0M59.0 592.6h0M66.1 577.4h0M71.7 576.6h0M84.2 565.5h0M50.4 591.4h0M58.7 588.4h0M55.2 586.4h0M86.9 565.3h0M82.8 569.1h0M61.4 579.4h0M82.6 560.7h0M55.4 578.5h0M58.2 582.2h0M56.8 592.8h0M65.7 578.2h0M60.1 581.4h0M68.9 583.0h0M70.5 580.0h0M55.9 589.3h0M57.1 586.2h0M50.7 591.2h0M62.3 578.7h0M69.5 580.3h0M60.6 594.8h0M59.3 589.1h0M83.6 568.8h0M71.4 569.3h0M96.3 574.4h0M83.8 557.0h0M82.8 562.5h0M80.8 576.2h0M80.7 569.5h0M55.7 591.1h0M60.9 590.2h0M77.5 575.7h0M65.3 584.6h0M70.5 567.1h0M70.9 578.8h0M58.1 588.1h0M71.6 577.1h0M57.0 590.5h0M80.1 574.2h0M72.1 581.0h0M79.6 566.8h0M71.6 576.2h0M86.3 569.0h0M61.4 579.9h0M66.6 581.3h0M54.7 592.7h0M71.5 578.9h0M70.3 566.4h0M80.0 571.1h0M66.1 579.1h0M62.3 578.5h0M80.9 574.1h0M66.9 581.9h0M78.2 584.4h0M59.3 585.3h0M54.7 591.6h0M52.9 587.7h0M75.1 571.5h0M86.1 560.7h0M53.0 584.5h0M92.8 571.6h0M55.9 592.0h0M80.5 570.0h0M72.6 570.7h0M66.0 582.9h0M74.9 570.3h0M55.3 586.3h0M69.1 584.3h0M67.7 585.4h0M56.9 581.8h0M78.2 574.0h0M75.3 582.2h0M76.4 567.0h0M72.6 583.9h0M68.0 580.1h0M67.5 584.6h0M80.4 564.1h0M77.4 579.7h0M73.3 579.7h0M83.1 569.6h0M55.3 577.4h0M71.1 570.3h0M51.4 589.4h0M71.2 569.8h0M85.7 559.8h0M51.6 593.3h0M76.0 569.5h0M54.1 588.2h0M57.6 585.7h0M55.9 595.4h0M58.2 579.1h0M59.4 583.8h0M57.4 595.6h0M72.1 580.6h0M70.8 582.6h0M64.4 578.7h0M65.2 581.9h0M68.7 577.7h0M64.0 583.3h0M51.6 587.6h0M54.9 587.5h0M74.6 569.4h0M59.1 581.1h0M81.0 559.8h0M66.7 579.0h0M49.9 580.4h0M54.4 593.2h0M67.0 578.5h0M48.3 589.8h0M65.5 588.6h0M71.7 567.1h0M91.4 565.9h0M72.8 576.5h0M64.6 583.0h0M67.0 581.3h0M64.9 581.6h0M61.6 585.2h0M60.2 594.8h0M67.9 576.0h0M67.6 578.5h0M63.9 591.9h0M74.8 588.0h0M56.6 586.7h0M55.3 590.6h0M53.8 592.7h0M70.2 593.5h0M82.9 575.7h0M88.0 568.8h0M79.9 572.8h0M56.3 592.1h0M90.7 565.2h0M62.3 584.2h0M70.9 573.1h0M56.0 594.8h0M77.9 576.7h0M63.7 586.5h0M74.8 572.1h0M60.7 582.9h0M66.1 583.0h0M67.2 576.2h0M60.8 579.3h0M79.6 571.5h0M80.2 566.4h0M59.8 589.6h0M63.7 577.7h0M80.7 580.4h0M77.9 570.9h0M79.3 572.4h0M52.1 589.8h0M54.9 583.7h0M54.0 588.5h0M60.4 584.2h0M82.4 565.6h0M77.9 568.8h0M63.1 580.2h0M59.3 585.5h0M76.9 575.0h0M52.8 596.0h0M84.5 580.5h0M55.6 592.4h0M91.6 566.1h0M57.1 589.0h0M78.2 561.7h0M74.5 578.5h0M80.3 574.9h0M54.0 589.2h0M71.0 576.3h0M90.4 566.9h0M63.6 588.2h0M73.5 574.9h0M72.2 580.6h0M73.2 573.7h0M52.9 587.3h0M94.0 570.4h0M74.5 560.6h0M88.6 562.5h0M57.7 589.3h0M69.9 579.9h0M69.8 576.8h0M53.7 584.9h0M69.9 580.7h0M60.7 582.8h0M61.9 580.2h0M61.6 581.4h0M62.6 589.2h0M65.8 569.6h0M68.2 580.5h0M69.5 576.9h0M59.6 590.9h0M56.0 597.4h0M80.1 568.6h0M86.8 563.9h0M50.6 592.7h0M61.5 589.5h0M87.2 575.6h0M63.4 586.9h0M53.0 591.6h0M77.7 561.4h0M80.5 573.3h0M56.9 594.3h0M72.0 564.4h0M65.0 579.9h0M77.9 573.8h0M59.2 586.4h0M66.4 579.1h0M50.2 591.1h0M60.2 589.3h0M69.4 579.4h0M78.0 571.0h0M51.9 595.0h0M64.8 579.8h0M53.1 595.5h0M83.8 569.2h0M88.5 569.4h0M50.8 587.3h0M69.4 579.7h0M54.9 591.3h0M80.1 571.5h0M77.0 576.7h0M53.0 586.6h0M58.8 585.1h0M80.4 566.9h0M78.3 554.9h0M70.6 581.8h0M79.2 566.8h0M55.4 595.7h0M92.1 566.4h0M85.3 569.6h0M63.7 581.5h0M80.4 563.2h0M83.3 566.1h0M73.4 567.4h0M51.2 591.4h0M75.4 574.6h0M71.5 572.1h0M90.5 569.2h0M57.4 581.8h0M57.7 585.3h0M66.6 585.2h0M60.0 588.5h0M73.3 587.5h0M56.8 588.4h0M69.5 588.5h0M68.7 584.0h0M67.0 575.3h0M54.3 587.1h0M66.2 581.4h0M84.5 565.1h0M85.0 566.8h0M83.6 568.6h0M61.9 585.1h0M83.1 567.5h0M59.0 591.2h0M78.0 569.3h0M75.7 573.3h0M58.3 566.4h0M54.7 584.5h0M77.2 566.1h0M89.0 567.3h0M70.6 580.3h0M57.6 594.6h0M53.0 590.4h0M60.7 597.7h0M61.6 586.1h0M71.2 577.6h0M61.6 587.9h0M75.8 578.4h0M78.9 570.3h0M67.1 583.6h0M63.3 577.9h0M67.9 583.6h0M60.3 583.9h0M55.5 593.1h0M70.3 585.8h0M89.5 565.2h0M70.2 582.4h0M66.5 574.2h0M66.2 589.1h0M47.7 588.0h0M66.0 580.5h0M63.2 585.4h0M67.1 585.6h0M82.9 566.8h0M66.0 582.4h0M54.5 585.0h0M75.8 587.6h0M63.8 586.4h0M79.3 571.1h0M80.0 570.7h0M54.1 576.9h0M65.4 584.2h0M57.2 592.7h0M71.6 577.6h0M62.8 590.0h0M52.5 593.1h0M85.8 566.7h0M71.5 579.6h0M76.6 571.2h0M70.7 581.9h0M73.5 583.9h0M61.2 580.1h0M64.7 581.0h0M71.3 570.2h0M52.2 593.1h0M86.8 565.6h0M49.6 590.6h0M80.5 575.0h0M92.1 575.1h0M82.1 564.7h0M73.4 577.4h0M63.5 575.9h0M58.9 590.9h0M59.2 590.0h0M75.9 579.3h0M55.7 576.4h0M61.5 581.9h0M76.8 573.2h0M71.6 576.5h0M87.3 564.1h0M78.3 573.9h0M68.7 574.3h0M55.8 574.6h0M81.4 564.9h0M55.6 593.9h0M48.3 589.9h0M59.6 582.7h0M58.7 573.0h0M84.4 567.6h0M65.6 574.0h0M85.6 562.9h0M72.1 572.2h0M75.2 580.0h0M65.4 583.3h0M55.3 586.4h0M70.3 580.3h0M64.7 584.5h0M94.2 573.2h0M62.3 585.8h0M73.7 577.7h0M88.7 572.0h0M71.9 577.0h0M70.1 574.7h0M68.1 581.9h0M80.7 571.6h0M76.0 578.2h0M78.8 564.7h0M59.8 586.7h0M90.0 564.9h0M67.0 578.9h0M79.8 574.2h0M70.3 578.8h0M86.7 566.6h0M89.0 563.9h0M65.4 585.4h0M52.2 594.0h0M53.5 582.3h0M91.9 568.8h0M58.5 582.0h0M69.0 571.7h0M63.2 576.6h0M69.0 580.1h0M63.5 575.4h0M69.8 579.6h0M89.4 569.4h0M66.2 576.2h0M73.1 575.4h0M54.0 588.3h0M56.5 570.5h0M53.6 588.3h0M73.4 573.5h0M70.3 584.9h0M48.2 589.2h0M79.7 572.6h0M65.2 579.8h0M71.1 581.4h0M82.8 558.5h0M81.4 570.1h0M84.0 573.5h0M80.6 573.0h0M82.3 571.2h0M72.4 581.2h0M77.2 568.2h0M81.5 555.8h0M69.2 577.9h0M54.0 595.1h0M73.2 575.7h0M67.2 578.1h0M70.3 571.5h0M64.4 578.7h0M68.9 579.6h0M74.8 577.1h0M51.8 588.9h0M66.6 579.4h0M52.8 593.5h0M59.3 587.3h0M86.3 562.4h0M62.4 578.3h0M71.2 574.9h0M88.3 572.1h0M80.7 565.3h0M85.2 566.6h0M76.6 568.0h0M73.9 592.5h0M54.0 582.6h0M86.3 564.8h0M79.2 572.6h0M80.1 579.7h0M49.7 589.2h0M74.9 591.2h0M71.0 580.4h0M53.7 593.7h0M85.0 563.2h0M57.0 589.8h0M60.3 587.3h0M71.6 579.1h0M50.0 587.2h0M90.7 571.9h0M71.6 571.5h0M58.6 585.1h0M65.5 579.0h0M53.2 592.8h0M60.0 578.5h0M66.3 587.8h0M67.2 589.0h0M70.1 571.9h0M62.7 577.5h0M84.1 562.3h0M74.6 574.7h0M75.5 568.4h0M64.9 586.4h0M78.0 569.5h0M59.7 597.6h0M54.9 591.2h0M69.8 583.1h0M66.0 573.4h0M58.0 588.3h0M63.4 582.9h0M89.4 564.6h0M75.1 580.5h0M87.4 567.4h0M63.5 583.2h0M57.5 583.6h0M83.6 577.3h0M67.2 576.7h0M82.0 560.7h0M68.8 584.8h0M72.2 577.7h0M57.8 588.9h0M85.9 563.3h0M65.6 578.5h0M58.1 579.8h0M58.5 591.5h0M79.5 576.7h0M51.9 591.8h0M65.2 581.7h0M51.3 593.8h0M72.3 579.0h0M62.7 580.4h0M55.2 587.0h0M58.6 580.2h0M85.8 563.2h0M59.3 585.0h0M66.6 575.5h0M50.6 587.8h0M58.2 582.9h0M81.3 560.8h0M78.7 570.5h0M57.4 588.7h0M56.2 590.5h0M84.9 573.1h0M62.9 580.0h0M92.2 568.0h0M79.2 568.9h0M74.6 570.3h0M46.8 587.5h0M65.2 596.2h0M64.2 585.2h0M85.9 567.3h0M80.2 579.7h0M68.1 587.7h0M79.8 573.8h0M60.5 584.5h0M52.5 593.6h0M86.8 562.5h0M80.9 564.8h0M81.8 567.2h0M78.2 561.0h0M84.9 561.5h0M55.4 586.6h0M63.8 563.1h0M96.4 577.2h0M86.2 567.2h0M84.8 569.1h0M66.2 579.7h0M81.0 572.5h0M52.3 586.3h0M81.5 564.7h0M52.7 587.5h0M62.0 578.1h0M73.6 582.1h0M56.4 598.5h0M67.3 573.6h0M85.5 566.5h0M63.6 582.2h0M77.1 583.9h0M69.4 580.2h0M66.7 581.9h0M81.7 563.7h0M66.8 580.5h0M50.7 593.3h0M77.9 567.3h0M69.6 581.3h0M61.9 581.9h0M57.3 581.6h0M97.9 574.3h0M65.4 578.3h0M49.6 590.7h0M57.1 593.1h0M72.0 572.7h0M66.8 583.6h0M83.5 572.2h0M86.2 567.5h0M61.5 583.1h0M85.8 562.4h0M62.0 577.1h0M71.1 571.2h0M55.8 591.9h0M72.9 577.8h0M62.1 575.0h0M68.6 577.0h0M61.5 589.8h0M65.8 574.5h0M63.0 587.4h0M59.5 596.9h0M82.3 565.4h0M78.5 568.8h0M60.6 583.5h0M89.5 571.0h0M51.7 588.3h0M52.2 591.3h0M71.1 566.7h0M74.1 570.6h0M51.3 590.2h0M71.2 585.7h0M67.2 585.5h0M74.5 573.4h0M52.0 592.9h0M77.6 570.1h0M50.5 593.2h0M85.1 564.7h0M87.1 567.2h0M79.5 570.6h0M56.6 586.0h0M59.9 589.4h0M52.8 593.3h0M75.8 579.6h0M83.3 577.0h0M76.2 565.7h0M64.3 573.5h0M51.9 586.5h0M57.2 588.0h0M59.6 587.1h0M54.3 594.6h0M59.5 592.0h0M64.6 577.3h0M53.6 584.7h0M76.4 568.0h0M77.9 573.7h0M84.7 559.1h0M56.0 590.9h0M79.5 571.9h0M68.9 582.3h0M73.9 576.1h0M82.6 577.8h0M65.1 587.1h0M86.0 559.5h0M57.3 595.1h0M77.1 578.4h0M75.4 572.2h0M85.8 575.7h0M67.9 577.9h0M68.0 583.4h0M79.9 563.7h0M77.4 562.8h0M67.7 580.2h0M57.5 589.2h0M56.3 588.4h0M55.0 591.9h0M77.5 572.8h0M53.6 592.4h0M70.3 573.7h0M64.3 574.1h0M87.3 573.3h0M77.1 570.8h0M63.6 578.2h0M79.1 569.9h0M74.4 574.7h0M63.1 581.6h0M58.4 590.5h0M76.0 556.3h0M57.0 587.1h0M54.3 595.8h0M66.7 586.9h0M73.9 582.7h0M82.3 560.0h0M72.3 573.2h0M58.8 586.5h0M77.9 572.7h0M78.1 572.5h0M76.0 570.5h0M57.0 587.2h0M77.7 576.7h0M69.8 577.3h0M69.6 576.4h0M54.9 589.6h0M74.1 573.2h0M63.4 584.0h0M82.7 565.3h0M74.0 575.1h0M79.8 562.2h0M49.4 588.5h0M72.0 573.5h0M84.1 576.3h0M75.9 569.8h0M61.8 577.2h0M50.8 589.0h0M62.2 582.4h0M72.0 579.1h0M77.0 570.0h0M53.1 593.2h0M62.9 580.5h0M62.9 591.6h0M62.2 583.7h0M71.8 575.0h0M76.0 563.8h0M56.9 585.5h0M82.2 577.4h0M76.0 570.6h0M67.2 579.7h0M76.2 574.8h0M64.8 579.0h0M55.8 586.4h0M57.0 589.6h0M84.7 562.2h0M65.2 579.4h0M92.3 567.9h0M77.4 574.3h0M59.5 591.6h0M57.3 588.1h0M49.5 586.1h0M86.2 577.4h0M86.5 560.5h0M88.1 564.3h0M84.5 571.1h0M65.6 581.6h0M56.4 590.5h0M86.9 563.6h0M72.4 582.1h0M67.7 582.0h0M56.7 578.0h0M78.7 575.1h0M72.4 576.5h0M67.4 576.0h0M52.8 584.5h0M89.8 564.4h0M67.9 579.3h0M69.3 575.9h0M85.1 561.8h0M64.5 571.4h0M60.2 591.7h0M74.6 577.0h0M69.9 587.8h0M52.5 592.9h0M64.2 591.6h0M70.1 580.3h0M49.3 590.6h0M57.0 592.7h0M70.3 567.7h0M58.1 585.0h0M59.4 579.4h0M75.2 569.5h0M80.1 568.1h0M44.0 581.6h0M56.9 586.3h0M83.3 574.4h0M53.0 592.0h0M75.3 569.9h0M86.3 566.8h0M71.0 571.8h0M75.3 573.8h0M69.2 587.7h0M86.8 568.9h0M65.6 586.7h0M63.5 587.2h0M59.9 592.2h0M68.5 573.4h0M67.6 578.8h0M44.4 584.9h0M54.0 578.4h0M59.8 591.1h0M51.8 590.6h0M54.6 593.8h0M64.2 580.0h0M86.3 564.2h0M56.8 586.4h0M65.1 584.6h0M49.4 591.7h0M56.7 584.6h0M65.4 583.3h0M85.1 560.3h0M74.3 567.9h0M79.3 572.7h0M72.2 581.4h0M66.7 575.8h0M51.3 592.8h0M68.0 570.1h0M82.9 560.3h0M65.4 579.3h0M45.7 586.4h0M73.7 584.8h0M73.5 566.6h0M67.8 592.5h0M74.0 571.3h0M71.4 573.5h0M52.4 590.0h0M77.4 564.8h0M86.1 567.3h0M68.8 582.5h0M78.0 570.9h0M84.6 561.9h0M53.4 594.5h0M84.3 567.3h0M83.5 563.4h0M58.5 588.2h0M58.6 592.3h0M82.9 568.2h0M76.1 569.0h0M55.2 580.5h0M84.5 560.4h0M82.7 558.7h0M76.0 582.2h0M79.7 572.7h0M74.7 573.9h0M82.3 573.6h0M89.5 577.4h0M60.5 580.7h0M83.2 558.0h0M75.5 577.9h0M56.0 583.0h0M94.9 569.7h0M83.2 575.1h0M57.4 597.7h0M76.9 575.0h0M84.6 568.3h0M66.4 587.1h0M71.9 580.3h0M92.2 568.4h0M56.4 587.0h0M84.5 562.7h0M60.3 584.6h0M79.8 570.1h0M69.7 576.5h0M56.0 593.1h0M73.3 574.7h0M70.2 576.7h0M56.0 596.5h0M63.2 574.2h0M92.7 575.8h0M61.7 590.0h0M73.8 578.6h0M81.5 570.3h0M63.7 581.3h0M64.7 583.7h0M63.2 587.8h0M64.3 580.9h0M66.3 586.0h0M52.6 591.6h0M74.5 575.6h0M62.4 584.2h0M57.6 590.5h0M67.8 582.2h0M48.1 588.7h0M64.7 588.2h0M60.4 588.3h0M46.8 588.3h0M51.0 591.3h0M54.5 594.1h0M79.4 573.6h0M76.5 585.0h0M77.0 568.8h0M74.3 574.3h0M64.6 578.2h0M58.2 582.4h0M91.9 568.0h0M57.2 583.7h0M64.4 576.3h0M67.9 587.1h0M79.3 568.7h0M74.1 590.3h0M66.3 581.5h0M79.9 560.2h0M74.3 578.9h0M54.3 592.9h0M57.6 582.4h0M66.6 573.9h0M65.8 576.3h0M92.1 570.8h0M75.1 571.5h0M92.4 567.1h0M87.6 569.2h0M83.4 569.0h0M54.6 581.6h0M61.8 576.5h0M78.0 567.0h0M73.7 568.6h0M70.6 570.6h0M79.6 573.1h0M72.8 579.6h0M78.5 561.5h0M59.5 586.3h0M67.3 565.3h0M84.7 571.2h0M82.1 577.3h0M54.3 588.8h0M80.8 568.4h0M64.0 568.0h0M55.4 586.0h0M84.7 563.4h0M50.5 586.5h0M78.0 584.5h0M78.3 567.7h0M71.9 579.6h0M82.4 568.8h0M61.2 593.8h0M76.2 574.4h0M60.7 590.6h0M75.8 563.4h0M81.7 566.6h0M73.9 570.6h0M70.5 576.4h0M85.6 577.7h0M76.1 578.3h0M72.4 574.4h0M56.5 575.9h0M90.5 565.7h0M56.5 594.8h0M70.5 572.4h0M86.2 573.0h0M59.1 593.2h0M70.4 577.9h0M68.2 574.7h0M77.5 580.1h0M73.3 574.1h0M74.2 578.9h0M78.4 571.5h0M61.9 583.7h0M77.7 569.7h0M61.8 581.8h0M63.1 586.6h0M54.8 587.8h0M75.5 585.4h0M86.6 567.6h0M81.5 562.8h0M82.2 579.1h0M51.3 586.3h0M70.6 561.4h0M61.9 599.3h0M67.8 581.0h0M51.0 592.7h0M58.6 585.4h0M87.8 567.8h0M63.4 589.3h0M88.7 571.4h0M76.5 569.8h0M71.1 577.5h0M54.7 593.4h0M78.3 572.3h0M56.4 585.0h0M78.3 579.5h0M51.2 588.7h0M53.3 586.7h0M58.6 587.3h0M84.1 565.4h0M64.6 590.9h0M58.2 588.6h0M65.4 582.9h0M70.4 574.6h0M51.0 593.6h0M76.2 565.2h0M83.6 562.3h0M88.9 567.4h0M80.0 565.5h0M56.0 593.1h0M76.3 579.1h0M50.8 591.0h0M53.5 584.0h0M48.9 588.3h0M71.2 563.4h0M61.5 588.6h0M90.1 564.3h0M55.3 596.7h0M54.0 586.4h0M49.7 584.2h0M88.8 563.1h0M68.9 580.6h0M52.7 593.3h0M60.1 583.3h0M72.0 578.2h0M50.0 592.0h0M76.0 567.3h0M56.3 584.1h0M67.6 578.0h0M72.1 567.8h0M75.2 571.0h0M65.8 585.2h0M54.5 587.1h0M55.6 587.0h0M56.2 590.1h0M58.2 582.2h0M53.8 589.7h0M53.6 591.6h0M84.5 562.6h0M73.4 572.4h0M52.5 593.8h0M75.5 570.0h0M70.3 584.0h0M80.5 560.7h0M76.4 574.9h0M83.1 564.0h0M60.6 582.7h0M88.4 566.6h0M73.8 577.7h0M63.4 587.1h0M66.9 583.8h0M74.4 573.1h0M72.7 575.8h0M73.6 581.5h0M72.1 578.1h0M64.1 580.8h0M69.1 580.9h0M71.9 578.4h0M76.0 579.4h0M53.2 596.4h0M83.6 568.0h0M67.5 583.8h0M71.1 575.9h0M81.5 557.1h0M85.1 564.3h0M54.7 590.1h0M61.8 580.3h0M52.5 594.7h0M78.2 566.1h0M52.1 586.9h0M69.5 583.6h0M69.6 575.1h0M79.1 568.8h0M57.8 587.7h0M67.9 582.7h0M72.7 569.9h0M63.0 577.9h0M67.2 585.2h0M60.8 587.6h0M66.7 574.4h0M84.2 563.7h0M52.9 592.0h0M56.8 586.6h0M55.0 595.5h0M63.6 586.8h0M65.2 576.2h0M53.0 589.0h0M73.7 577.9h0M54.7 594.5h0M66.2 576.1h0M52.1 590.1h0M58.7 595.7h0M62.0 583.7h0M64.0 583.3h0M83.3 567.2h0M83.9 564.3h0M64.5 586.0h0M75.0 568.0h0M73.4 571.6h0M62.6 583.8h0M62.7 585.3h0M84.9 560.5h0M62.2 583.1h0M72.2 583.3h0M83.7 569.5h0M46.7 588.4h0M71.0 570.8h0M73.8 567.7h0M80.6 566.2h0M72.3 570.7h0M73.9 577.3h0M58.7 593.6h0M60.0 579.8h0M86.2 578.8h0M52.2 592.6h0M74.5 572.4h0M82.0 573.0h0M81.8 573.8h0M55.2 590.0h0M69.0 577.8h0M82.2 566.8h0M61.4 582.0h0M54.5 591.8h0M62.7 595.7h0M61.6 588.8h0M60.4 594.3h0M85.6 571.3h0M78.9 565.7h0M68.3 582.4h0M78.1 563.1h0M49.3 591.2h0M69.0 577.6h0M59.8 583.8h0M90.1 573.2h0M78.7 570.6h0M73.9 574.6h0M80.2 571.7h0M59.9 585.6h0M74.8 568.9h0M70.4 577.1h0M57.8 587.6h0M64.3 579.7h0M88.1 569.9h0M79.4 555.1h0M54.0 588.4h0M54.2 583.6h0M79.7 578.7h0M64.1 584.4h0M75.8 569.9h0M87.8 563.9h0M67.2 577.4h0M89.9 572.0h0M86.7 568.0h0M53.7 594.0h0M50.5 592.2h0M92.1 567.1h0M60.8 590.5h0M73.9 574.2h0M51.7 588.7h0M72.5 577.4h0M60.6 592.5h0M73.9 580.8h0M77.4 571.6h0M71.6 573.3h0M82.0 571.3h0M62.1 583.8h0M56.4 590.2h0M78.2 556.1h0M65.1 593.9h0M83.9 568.4h0M64.8 577.6h0M70.7 580.4h0M63.4 588.0h0M72.0 575.0h0M72.7 579.7h0M72.2 584.6h0M92.5 567.4h0M58.5 592.0h0M90.5 567.4h0M58.1 588.2h0M57.7 582.9h0M87.9 565.1h0M57.4 588.9h0M86.6 562.2h0M64.7 586.2h0M66.7 573.0h0M63.2 569.0h0M83.5 566.7h0M63.0 594.6h0M89.7 568.1h0M68.6 587.3h0M64.6 577.0h0M53.3 590.7h0M57.4 594.0h0M71.1 581.1h0M82.4 585.1h0M83.7 567.1h0M60.7 570.5h0M46.9 585.9h0M75.9 584.0h0M80.5 561.2h0M89.0 566.5h0M70.4 579.3h0M70.2 575.6h0M87.1 561.9h0M83.7 574.2h0M58.6 583.6h0M82.0 572.3h0M58.5 588.4h0M82.7 570.4h0M71.4 580.3h0M83.1 568.0h0M84.6 575.0h0M52.2 593.0h0M58.2 578.7h0M73.4 579.9h0M56.1 594.2h0M75.1 577.8h0M66.7 587.0h0M69.5 573.0h0M64.9 580.5h0M49.4 591.6h0M90.6 564.9h0M64.9 574.1h0M83.4 567.8h0M50.9 592.4h0M54.8 584.9h0M82.6 564.0h0M81.3 566.3h0M59.1 594.5h0M68.6 570.3h0M84.6 570.5h0M71.2 580.4h0M77.9 569.9h0M61.8 583.5h0M90.5 564.7h0M59.6 588.5h0M91.2 567.7h0M63.0 587.2h0M83.4 559.5h0M56.3 586.6h0M68.5 580.0h0M76.1 571.7h0M75.4 580.8h0M62.2 589.3h0M75.1 569.9h0M67.4 570.2h0M84.1 563.4h0M48.5 588.7h0M61.6 585.9h0M72.0 578.2h0M68.0 578.6h0M83.0 570.6h0M83.9 565.9h0M71.1 566.7h0M62.1 582.1h0M79.6 576.6h0M70.1 570.9h0M60.3 582.5h0M82.0 577.3h0M81.2 576.1h0M63.4 585.7h0M71.5 574.6h0M58.8 580.0h0M64.4 581.3h0M75.9 589.2h0M73.0 566.0h0M58.5 588.3h0M80.6 562.3h0M70.2 569.6h0M55.7 581.7h0M59.8 594.8h0M73.8 572.7h0M90.4 572.1h0M84.9 567.6h0M84.9 564.3h0M57.6 592.6h0M56.0 591.0h0M53.6 582.7h0M73.2 583.6h0M73.1 571.1h0M79.5 572.6h0M77.0 572.3h0M56.3 586.6h0M65.3 580.6h0M81.9 562.7h0M68.3 580.0h0M70.3 572.4h0M55.3 585.5h0M87.2 564.4h0M68.6 572.3h0M62.5 593.0h0M67.9 576.9h0M79.3 569.8h0M85.1 559.1h0M50.2 589.4h0M60.8 582.2h0M58.0 589.1h0M75.0 571.2h0M65.5 580.7h0M84.1 561.9h0M52.2 588.2h0M70.8 585.2h0M87.2 566.7h0M85.2 567.6h0M63.8 581.0h0M89.1 566.8h0M58.2 583.3h0M89.2 575.0h0M63.9 584.5h0M62.3 579.8h0M62.1 590.1h0M54.5 592.4h0M76.7 575.9h0M75.0 573.7h0M57.1 582.6h0M60.3 591.3h0M78.3 553.8h0M60.3 594.7h0M55.1 594.4h0M83.2 566.0h0M83.5 568.1h0M53.2 594.1h0M77.1 578.4h0M76.0 578.7h0M59.3 596.8h0M51.3 589.5h0M70.1 584.5h0M82.9 573.0h0M56.3 594.1h0M75.7 568.6h0M57.8 585.0h0M72.4 576.5h0M85.5 568.9h0M76.5 568.4h0M53.8 592.6h0M56.3 589.8h0M59.6 593.3h0M76.3 583.0h0M81.8 559.8h0M76.3 570.7h0M54.3 596.3h0M56.8 599.2h0M55.3 582.8h0M79.1 576.1h0M86.2 564.5h0M55.7 587.8h0M80.4 566.6h0M59.4 590.6h0M55.2 591.9h0M78.1 572.6h0M85.2 565.1h0M81.5 567.1h0M71.8 577.1h0M80.4 571.8h0M69.8 578.2h0M56.8 587.1h0M81.4 558.1h0M87.4 565.4h0M64.4 596.5h0M58.7 589.6h0M59.1 590.2h0M60.6 590.5h0M73.7 570.4h0M63.0 584.3h0M62.2 584.4h0M64.8 582.9h0M55.4 597.4h0M60.0 593.4h0M62.0 578.6h0M63.0 579.0h0M58.6 587.8h0M54.8 597.2h0M55.6 587.7h0M52.3 574.7h0M50.0 591.7h0M61.9 588.1h0M51.1 588.2h0M58.3 574.7h0M69.9 577.0h0M52.4 591.6h0M80.8 571.5h0M69.3 581.9h0M61.5 597.4h0M56.4 585.9h0M52.5 594.9h0M83.4 571.1h0M75.5 572.4h0M82.8 575.3h0M53.2 585.1h0M67.7 577.6h0M75.4 558.0h0M86.3 559.8h0M57.4 591.3h0M77.7 577.4h0M77.5 568.0h0M64.1 588.5h0M71.6 581.1h0M61.5 582.0h0M91.4 574.9h0M59.0 582.3h0M54.7 597.3h0M73.7 576.1h0M80.8 565.7h0M86.0 560.8h0M89.8 568.6h0M78.3 572.7h0M59.6 582.6h0M85.6 579.8h0M55.3 584.4h0M72.1 590.8h0M61.4 583.7h0M57.1 588.2h0M86.9 570.9h0M56.9 584.5h0M75.7 557.0h0M68.6 584.0h0M60.2 587.9h0M61.1 584.5h0M48.7 588.9h0M66.3 580.9h0M83.6 569.5h0M66.6 577.3h0M74.3 575.5h0M75.9 578.2h0M90.1 564.4h0M71.8 575.4h0M84.7 559.9h0M75.8 579.1h0M61.2 595.6h0M57.5 593.3h0M70.5 586.4h0M61.8 583.5h0M76.8 570.0h0M63.0 592.9h0M65.0 579.6h0M52.7 595.9h0M81.3 565.4h0M57.4 580.8h0M59.0 586.9h0M85.0 569.9h0M54.9 597.0h0M85.9 570.4h0M48.7 588.4h0M86.0 571.1h0M85.8 564.5h0M66.5 583.5h0M68.1 579.9h0M56.7 590.5h0M72.2 585.0h0M71.4 574.1h0M86.6 580.7h0M72.1 568.5h0M56.8 584.4h0M67.0 576.9h0M74.0 573.2h0M74.2 569.2h0M62.2 582.7h0M65.8 577.4h0M64.5 583.0h0M87.3 562.4h0M56.0 580.8h0M54.9 589.7h0M77.6 566.9h0M52.0 593.5h0M65.2 577.5h0M81.0 572.6h0M72.1 567.8h0M63.0 581.5h0M62.2 587.5h0M74.0 567.4h0M64.3 587.8h0M76.9 570.9h0M80.9 571.4h0M74.3 571.5h0M48.9 589.6h0M85.0 577.6h0M89.2 567.8h0M58.5 593.8h0M81.3 570.8h0M71.1 577.3h0M56.6 588.0h0M60.6 590.6h0M60.9 584.2h0M91.8 567.5h0M78.8 583.2h0M73.8 575.9h0M75.8 562.1h0M51.5 584.9h0M73.7 566.3h0M59.5 579.2h0M83.6 565.2h0M87.6 572.6h0M60.5 583.4h0M59.0 594.6h0M71.2 575.0h0M70.1 578.6h0M62.1 587.6h0M69.6 580.0h0M60.0 597.8h0M58.1 591.1h0M66.7 570.4h0M68.3 575.9h0M56.6 585.5h0M60.0 591.5h0M81.8 572.8h0M53.2 595.0h0M50.0 592.1h0M76.4 572.8h0M52.4 589.4h0M58.8 582.1h0M72.6 568.8h0M54.2 587.2h0M85.7 566.9h0M68.9 583.8h0M86.1 565.2h0M83.6 568.0h0M78.6 563.1h0M83.4 566.1h0M57.7 582.9h0M71.3 595.2h0M64.2 579.0h0M69.2 585.0h0M65.2 563.1h0M56.8 581.2h0M88.3 570.2h0M64.1 581.7h0M65.9 569.5h0M78.8 573.3h0M59.7 595.8h0M80.9 573.1h0M64.7 573.9h0M62.1 581.9h0M57.7 589.5h0M61.5 581.0h0M74.7 575.1h0M68.7 574.4h0M60.0 589.5h0M56.2 591.0h0M55.2 591.5h0M82.1 570.3h0M61.1 582.7h0M86.5 565.0h0M80.8 573.7h0M84.6 568.5h0M78.1 563.1h0M63.7 574.1h0M67.7 566.7h0M79.1 575.3h0M86.8 564.0h0M56.0 590.9h0M73.6 590.5h0M72.8 575.1h0M51.0 588.3h0M71.6 584.4h0M80.8 568.5h0M53.3 591.1h0M81.6 567.8h0M61.4 585.6h0M61.8 589.5h0M53.6 591.9h0M54.4 595.6h0M53.2 571.5h0M83.3 573.5h0M71.7 567.3h0M85.3 564.5h0M71.9 577.8h0M51.2 585.9h0M54.2 588.9h0M80.4 562.9h0M53.2 591.5h0M77.9 576.5h0M89.4 572.4h0M55.6 591.3h0M70.6 576.1h0M64.1 577.2h0M52.7 589.1h0M78.8 571.7h0M56.8 593.2h0M64.7 584.7h0M76.4 576.8h0M77.6 577.4h0M54.9 591.1h0M81.1 569.6h0M72.1 576.8h0M70.7 568.5h0M48.9 581.3h0M86.6 570.4h0M53.8 580.6h0M75.5 571.7h0M78.5 579.8h0M52.3 591.1h0M75.1 565.2h0M83.6 564.1h0M82.2 570.2h0M64.3 584.2h0M69.1 581.6h0M49.8 592.4h0M87.0 576.1h0M85.5 566.2h0M69.0 579.5h0M74.3 576.9h0M61.6 588.8h0M85.9 569.1h0M80.8 569.2h0M59.8 580.1h0M66.2 579.8h0M74.4 572.5h0M61.2 589.6h0M56.4 595.0h0M69.1 590.1h0M64.2 580.8h0M82.1 569.6h0M68.4 585.0h0M53.5 593.5h0M79.3 569.6h0M59.5 594.0h0M56.2 579.7h0M59.1 581.2h0M62.1 587.6h0M86.0 563.0h0M82.3 571.0h0M62.9 581.4h0M66.0 586.1h0M73.7 573.0h0M52.0 594.2h0M56.0 590.6h0M67.5 592.9h0M50.7 587.9h0M65.7 581.4h0M69.6 577.6h0M68.2 578.8h0M74.3 579.0h0M78.5 560.6h0M84.5 572.0h0M84.7 564.2h0M71.3 578.4h0M50.6 590.5h0M71.4 571.3h0M72.1 562.5h0M81.8 565.2h0M89.9 564.6h0M65.5 578.7h0M63.7 578.1h0M75.6 573.1h0M72.6 572.1h0M81.3 568.2h0M57.5 587.7h0M56.0 595.1h0M83.6 574.1h0M56.5 593.3h0M55.0 586.2h0M59.4 580.1h0M61.1 575.1h0M82.1 566.0h0M62.3 594.8h0M85.7 565.3h0M49.6 589.2h0M67.9 564.4h0M60.8 590.7h0M54.1 592.7h0M78.7 576.1h0M60.4 590.9h0M83.8 573.3h0M51.9 584.6h0M85.1 565.2h0M59.0 593.5h0M75.8 577.6h0M70.1 567.5h0M77.2 575.4h0M66.4 563.5h0M61.9 587.0h0M57.3 590.6h0M50.9 592.3h0M55.1 586.4h0M76.2 571.3h0M72.4 569.1h0M52.5 587.4h0M86.7 572.1h0M69.1 577.0h0M63.5 578.1h0M91.6 568.2h0M77.3 586.4h0M65.7 580.9h0M81.8 564.8h0M71.9 580.6h0M55.8 593.3h0M72.5 579.9h0M75.5 563.9h0M68.8 581.7h0M85.6 569.6h0M75.4 570.0h0M53.9 589.0h0M56.4 576.3h0M84.7 562.9h0M69.3 583.6h0M67.8 590.0h0M86.2 565.9h0M58.3 587.7h0M88.0 566.7h0M74.4 576.5h0M85.0 564.6h0M56.9 586.9h0M76.6 571.5h0M71.7 571.3h0M75.5 572.2h0M73.1 581.2h0M66.3 576.9h0M62.7 567.7h0M89.8 566.6h0M65.3 579.7h0M84.2 570.6h0M81.6 574.3h0M52.1 593.3h0M67.7 585.4h0M69.7 573.5h0M65.0 581.9h0M64.2 578.2h0M55.4 593.1h0M74.3 575.0h0M54.3 590.3h0M78.2 569.2h0M87.0 567.4h0M88.0 565.1h0M85.1 567.1h0M66.8 576.7h0M64.5 582.7h0M49.6 591.3h0M71.5 573.2h0M61.9 592.2h0M58.0 594.5h0M88.2 567.5h0M65.1 582.0h0M84.2 561.9h0M48.1 590.3h0M63.3 575.4h0M80.9 572.6h0M67.0 587.5h0M85.9 569.1h0M66.0 583.3h0M60.1 586.8h0M48.6 589.1h0M77.7 574.1h0M67.5 585.8h0M68.4 576.1h0M67.4 580.5h0M72.3 583.1h0M75.6 571.3h0M62.2 586.9h0M47.9 587.0h0M62.0 586.0h0M56.8 585.8h0M80.2 572.1h0M61.5 584.2h0M55.5 593.0h0M72.5 580.8h0M60.3 583.7h0M61.2 584.9h0M70.1 578.2h0M57.7 583.5h0M88.4 566.5h0M58.1 586.8h0M62.5 574.5h0M61.1 597.7h0M57.8 585.9h0M55.2 595.1h0M65.2 591.9h0M54.2 580.8h0M77.2 566.1h0M58.5 588.1h0M55.4 595.1h0M69.7 569.6h0M79.1 559.2h0M64.4 583.0h0M59.1 590.7h0M69.4 590.0h0M74.8 577.3h0M77.2 571.1h0M58.8 591.1h0M56.9 588.3h0M88.4 565.5h0M76.4 565.0h0M72.0 589.3h0M84.9 565.0h0M88.3 563.6h0M51.6 592.9h0M80.8 575.4h0M56.3 583.2h0M60.2 582.8h0M85.3 563.4h0M75.8 576.4h0M65.0 580.1h0M80.9 570.1h0M75.0 571.6h0M56.1 574.2h0M64.4 580.5h0M87.4 567.3h0M74.0 574.7h0M58.4 590.4h0M82.9 580.7h0M76.3 576.0h0M73.6 584.7h0M66.0 577.4h0M67.2 573.0h0M90.8 565.6h0M63.3 595.2h0M76.9 572.9h0M89.1 565.6h0M60.8 592.7h0M55.0 590.2h0M45.3 580.8h0M51.7 584.7h0M54.0 593.1h0M53.1 592.5h0M73.6 572.9h0M60.6 585.1h0M66.5 584.5h0M84.8 567.0h0M82.1 570.5h0M86.5 571.7h0M85.3 566.5h0M83.8 570.5h0M63.2 591.9h0M91.8 566.8h0M62.4 587.4h0M75.3 563.1h0M74.7 578.1h0M84.3 560.1h0M62.7 587.8h0M55.9 588.2h0M49.0 588.5h0M82.5 559.5h0M60.6 592.0h0M50.3 590.3h0M53.0 590.4h0M84.2 563.0h0M69.6 572.1h0M68.6 580.5h0M64.7 577.6h0M74.9 576.5h0M65.9 577.0h0M75.3 573.0h0M76.9 571.3h0M86.4 562.7h0M78.1 572.6h0M66.8 585.2h0M54.4 594.6h0M64.7 589.0h0M76.7 568.5h0M63.0 576.3h0M75.3 561.0h0M55.4 591.2h0M62.9 581.4h0M87.1 564.2h0M61.9 578.5h0M83.3 565.9h0M68.3 578.0h0M57.1 591.3h0M62.4 586.3h0M56.8 593.5h0M61.9 592.3h0M46.3 586.2h0M76.9 570.4h0M78.0 569.0h0M63.3 580.0h0M49.1 590.2h0M69.7 594.2h0M86.4 568.1h0M70.4 578.7h0M72.4 573.3h0M58.4 584.0h0M60.3 583.8h0M61.1 590.3h0M79.8 579.5h0M69.4 579.2h0M57.0 594.1h0M54.6 580.4h0M66.9 584.4h0M62.5 585.3h0M76.8 576.9h0M75.4 575.4h0M61.5 582.5h0M86.6 562.4h0M74.6 568.7h0M65.3 583.5h0M85.1 569.8h0M73.2 575.2h0M63.2 586.4h0M86.4 567.9h0M55.8 591.8h0M82.6 567.0h0M79.5 576.4h0M65.0 586.6h0M65.2 584.0h0M64.6 591.1h0M57.2 581.1h0M74.8 579.4h0M77.9 561.9h0M69.1 576.2h0M84.0 561.7h0M80.5 593.5h0M83.0 561.4h0M83.6 563.4h0M60.9 589.6h0M88.8 570.9h0M47.8 587.9h0M89.3 566.2h0M82.6 565.5h0M60.9 583.7h0M62.5 585.6h0M88.0 564.4h0M75.5 571.4h0M54.4 588.4h0M87.0 565.3h0M67.4 581.2h0M72.9 577.7h0M57.0 584.3h0M66.4 587.6h0M78.4 576.2h0M87.7 561.9h0M76.5 580.2h0M74.1 569.7h0M52.1 593.7h0M79.8 572.3h0M72.3 581.7h0M62.9 587.0h0M77.3 575.9h0M76.0 573.5h0M76.8 575.1h0M61.1 586.5h0M51.7 586.0h0M55.0 591.9h0M51.5 579.7h0M67.6 591.2h0M67.5 582.9h0M69.6 587.6h0M57.1 589.0h0M84.0 561.7h0M57.4 580.0h0M60.1 586.4h0M79.8 579.0h0M75.4 583.0h0M53.6 592.9h0M52.5 586.8h0M88.0 570.7h0M84.7 575.1h0M68.4 581.0h0M54.8 589.8h0M62.2 584.1h0M75.3 578.2h0M53.4 582.0h0M66.6 576.5h0M58.4 590.4h0M57.3 590.3h0M83.2 574.7h0M68.0 597.8h0M49.6 585.5h0M82.7 574.4h0M62.3 578.2h0M60.7 579.1h0M79.1 572.7h0M65.5 574.0h0M91.4 569.3h0M76.3 564.4h0M73.7 572.4h0M58.4 591.5h0M62.3 578.3h0M81.0 565.7h0M89.8 565.5h0M48.7 588.1h0M78.8 568.0h0M66.4 579.7h0M70.4 573.0h0M58.4 595.1h0M77.9 579.7h0M75.9 582.7h0M50.8 592.9h0M64.7 583.5h0M74.9 579.2h0M81.5 565.5h0M69.5 583.5h0M81.6 570.5h0M53.0 592.7h0M57.4 589.7h0M73.2 572.0h0M54.6 588.9h0M82.0 579.6h0M69.9 580.9h0M74.9 573.1h0M62.8 581.7h0M60.9 582.0h0M62.6 585.5h0M81.0 560.9h0M70.5 580.1h0M56.7 588.5h0M62.8 576.0h0M54.4 586.5h0M65.9 581.2h0M84.5 557.7h0M81.7 566.2h0M85.3 563.0h0M48.7 589.5h0M58.1 589.8h0M88.2 565.1h0M58.8 584.9h0M53.5 594.6h0M85.6 570.3h0M85.8 567.6h0M81.0 560.8h0M71.5 575.5h0M78.0 556.3h0M79.6 562.9h0M64.1 592.6h0M82.8 567.0h0M70.3 591.8h0M66.5 581.3h0M76.1 551.3h0M66.2 583.1h0M77.4 564.9h0M51.7 588.0h0M82.3 571.2h0M58.7 582.6h0M70.2 577.9h0M76.1 565.0h0M85.7 564.3h0M71.8 573.2h0M54.1 589.7h0M63.2 583.6h0M85.3 570.0h0M69.3 578.1h0M70.5 581.4h0M73.8 587.9h0M70.7 577.6h0M82.8 565.3h0M89.0 566.4h0M59.8 585.4h0M52.8 589.5h0M72.8 576.4h0M81.4 571.4h0M71.4 582.6h0M73.4 568.7h0M80.4 564.8h0M70.6 565.9h0M51.4 593.1h0M52.5 590.8h0M63.0 585.5h0M66.2 589.4h0M83.0 564.0h0M59.7 586.4h0M54.9 586.1h0M58.7 593.1h0M72.9 580.4h0M68.0 577.2h0M57.4 582.8h0M54.0 586.7h0M82.5 569.7h0M85.2 577.7h0M60.7 585.0h0M79.2 569.7h0M66.0 584.7h0M53.2 591.1h0M91.5 566.3h0M85.9 563.3h0M86.0 559.6h0M89.0 569.2h0M69.1 589.1h0M61.6 574.5h0M69.8 580.4h0M81.8 570.3h0M58.9 591.3h0M69.7 575.9h0M54.3 594.3h0M56.5 589.3h0M68.9 579.2h0M72.5 573.6h0M75.4 571.0h0M70.5 586.8h0M53.7 594.4h0M68.9 568.7h0M75.3 575.7h0M73.5 577.9h0M76.7 578.1h0M80.9 569.1h0M81.6 563.8h0M69.1 562.3h0M70.4 561.4h0M65.5 587.4h0M62.3 593.2h0M67.3 576.7h0M73.6 574.2h0M54.2 592.5h0M64.3 590.6h0M62.9 583.7h0M84.6 561.7h0M57.4 586.2h0M70.9 588.1h0M67.6 572.2h0M78.9 572.1h0M54.4 594.7h0M73.2 575.9h0M74.0 574.7h0M61.7 586.5h0M72.5 578.0h0M87.7 564.1h0M90.0 564.0h0M79.9 572.3h0M55.9 598.4h0M51.8 590.6h0M77.6 572.4h0M63.4 585.7h0M55.7 590.0h0M84.2 573.9h0M87.5 564.3h0M86.1 566.4h0M61.8 586.5h0M76.5 562.7h0M53.8 591.2h0M52.6 594.9h0M76.5 572.9h0M51.2 590.2h0M57.0 591.6h0M78.2 572.7h0M67.1 580.2h0M82.0 562.2h0M75.4 575.9h0M83.1 569.6h0M70.6 579.0h0M72.8 572.0h0M57.8 584.8h0M70.2 567.6h0M74.3 582.3h0M64.1 575.5h0M67.8 577.3h0M83.2 558.7h0M87.8 568.6h0M78.1 572.2h0M70.5 580.0h0M60.8 594.8h0M75.0 576.7h0M85.4 571.7h0M55.9 596.5h0M65.4 586.7h0M63.3 568.7h0M73.5 568.3h0M66.6 582.6h0M49.8 590.4h0M85.2 561.4h0M85.7 570.6h0M94.3 570.1h0M69.1 572.3h0M78.5 570.1h0M49.6 588.1h0M76.1 578.6h0M59.8 588.2h0M90.6 564.7h0M71.6 553.0h0M49.2 585.0h0M69.8 569.7h0M52.8 587.6h0M51.5 593.0h0M76.6 565.3h0M75.8 572.0h0M54.6 591.1h0M60.6 587.1h0M74.4 561.3h0M69.0 589.5h0M59.9 586.2h0M73.6 569.6h0M67.7 580.1h0M57.9 583.6h0M65.0 572.7h0M81.1 576.0h0M57.5 598.6h0M54.0 591.5h0M64.9 588.3h0M57.8 587.7h0M79.3 579.3h0M62.9 583.9h0M53.4 593.6h0M61.7 585.2h0M52.3 592.6h0M54.4 596.7h0M84.6 567.4h0M65.2 583.3h0M82.1 577.3h0M58.5 589.6h0M78.5 569.4h0M79.0 576.7h0M73.9 574.7h0M80.5 570.2h0M93.7 543.5h0M80.3 569.1h0M90.7 563.6h0M102.2 548.7h0M83.2 568.7h0M83.1 566.4h0M99.9 552.4h0M93.3 560.7h0M88.1 559.9h0M103.7 576.7h0M98.1 554.3h0M91.5 564.9h0M89.2 567.0h0M79.3 564.4h0M101.2 553.3h0M82.7 555.9h0M90.8 549.5h0M95.8 562.7h0M74.6 548.5h0M98.7 552.4h0M90.1 567.3h0M91.6 555.9h0M92.3 564.5h0M91.8 569.4h0M89.7 561.1h0M81.1 561.2h0M84.6 568.8h0M76.2 557.8h0M77.6 561.3h0M96.4 554.8h0M95.2 553.8h0M103.0 551.3h0M81.7 566.5h0M99.7 551.0h0M97.5 556.0h0M96.5 557.1h0M92.4 563.6h0M102.2 552.3h0M102.5 546.4h0M92.6 553.8h0M99.1 551.6h0M85.2 560.8h0M77.5 557.1h0M98.4 567.0h0M98.4 563.7h0M83.0 568.6h0M86.3 553.9h0M100.4 559.6h0M105.3 566.1h0M80.1 556.9h0M99.5 551.7h0M99.6 558.7h0M94.6 548.7h0M101.2 558.4h0M104.2 551.3h0M88.0 576.4h0M94.4 548.2h0M91.0 562.6h0M101.3 552.2h0M95.6 546.6h0M80.9 565.0h0M91.9 540.9h0M78.0 566.5h0M106.3 563.7h0M78.2 561.4h0M102.4 552.3h0M102.4 556.6h0M96.4 560.9h0M103.0 549.6h0M93.6 546.8h0M102.3 550.3h0M88.7 555.3h0M98.9 570.8h0M109.1 563.3h0M87.8 548.1h0M105.9 551.9h0M98.0 563.3h0M92.0 555.5h0M83.8 573.6h0M101.3 568.9h0M93.4 563.1h0M87.7 558.7h0M93.7 561.1h0M96.8 542.2h0M102.5 556.0h0M87.5 573.7h0M81.2 571.2h0M78.3 551.6h0M96.3 571.4h0M90.9 556.9h0M90.0 536.4h0M82.4 554.0h0M107.1 555.5h0M102.5 556.1h0M85.9 557.2h0M91.9 550.2h0M79.1 560.4h0M81.4 566.5h0M102.8 550.5h0M94.8 555.7h0M89.6 560.8h0M85.9 563.4h0M100.3 548.7h0M87.9 565.1h0M105.6 568.7h0M99.8 549.7h0M97.5 554.3h0M91.5 541.1h0M82.3 565.5h0M86.8 558.9h0M84.2 562.5h0M93.0 560.0h0M104.5 558.2h0M108.8 554.7h0M89.7 558.1h0M87.2 568.9h0M101.0 557.7h0M84.9 566.4h0M94.9 555.3h0M84.9 564.8h0M99.5 552.1h0M92.8 559.9h0M79.3 558.9h0M90.4 550.5h0M86.4 555.4h0M81.9 543.4h0M83.6 569.1h0M92.0 550.9h0M82.5 558.7h0M83.6 564.9h0M83.0 562.9h0M101.1 561.5h0M98.8 544.8h0M81.4 557.1h0M99.6 555.0h0M80.0 564.9h0M96.3 554.1h0M105.9 569.0h0M85.7 558.9h0M79.0 568.1h0M86.9 573.0h0M98.9 546.2h0M92.5 561.2h0M86.9 549.8h0M86.2 558.9h0M98.8 552.5h0M73.2 560.6h0M89.7 552.2h0M84.8 563.0h0M84.0 561.4h0M91.3 556.9h0M77.8 563.2h0M81.5 569.0h0M97.8 549.5h0M90.9 566.7h0M106.0 552.6h0M81.1 566.5h0M87.7 561.8h0M101.2 565.0h0M78.3 543.5h0M98.6 567.4h0M92.3 552.6h0M98.2 560.8h0M80.5 539.4h0M89.7 551.9h0M104.5 554.0h0M82.2 567.1h0M82.9 571.6h0M92.4 550.6h0M97.7 551.0h0M97.2 554.6h0M100.8 548.3h0M95.8 545.7h0M108.2 557.3h0M107.0 563.5h0M114.1 565.5h0M77.5 562.7h0M76.3 564.4h0M103.0 553.1h0M94.9 567.4h0M101.3 556.6h0M87.7 566.1h0M107.4 552.3h0M97.6 543.5h0M100.5 552.8h0M106.0 554.1h0M85.7 559.1h0M93.3 536.9h0M84.0 566.1h0M102.4 548.6h0M91.4 568.4h0M95.2 556.2h0M102.9 552.4h0M101.0 560.3h0M87.3 565.8h0M100.5 553.7h0M97.3 556.5h0M87.6 562.1h0M102.8 561.9h0M120.4 520.4h0M95.8 558.7h0M151.8 485.0h0M125.1 505.0h0M117.8 519.6h0M113.7 520.3h0M110.1 534.4h0M131.1 520.8h0M143.8 494.5h0M92.7 551.6h0M133.7 484.9h0M126.6 493.7h0M163.1 489.2h0M140.7 479.3h0M137.0 485.9h0M79.1 545.5h0M133.6 526.4h0M145.1 486.6h0M142.7 495.1h0M110.1 531.9h0M139.0 503.7h0M120.7 511.3h0M93.1 553.4h0M125.4 512.5h0M152.0 498.9h0M141.9 500.1h0M128.0 513.9h0M111.9 541.8h0M140.2 502.2h0M152.1 493.0h0M85.4 551.4h0M114.9 503.9h0M130.1 514.6h0M111.5 527.7h0M155.4 482.8h0M96.5 559.7h0M125.1 520.7h0M146.1 477.2h0M114.4 528.5h0M151.0 495.5h0M88.8 554.9h0M105.5 549.8h0M115.8 501.5h0M150.5 492.2h0M125.0 535.4h0M128.4 520.2h0M101.7 540.2h0M131.1 508.3h0M104.7 546.8h0M107.2 533.0h0M142.5 504.6h0M147.2 496.8h0M118.5 525.5h0M147.1 496.4h0M132.4 508.7h0M154.9 489.0h0M157.4 481.3h0M106.0 540.5h0M150.4 480.3h0M127.0 511.6h0M130.4 506.8h0M112.1 523.0h0M108.9 531.3h0M120.2 523.0h0M122.5 506.5h0M110.1 525.1h0M143.3 504.7h0M126.2 512.6h0M144.1 489.8h0M97.0 545.5h0M108.4 551.7h0M143.2 514.2h0M117.7 515.6h0M110.1 541.0h0M148.3 493.8h0M110.9 538.0h0M96.1 550.0h0M114.5 531.4h0M146.5 484.4h0M120.1 524.0h0M122.4 527.7h0M127.9 512.9h0M132.7 534.7h0M130.6 507.8h0M95.9 547.8h0M136.2 483.1h0M134.8 503.5h0M130.8 495.6h0M152.9 491.6h0M116.6 525.5h0M98.2 551.7h0M126.3 532.5h0M111.1 524.2h0M150.0 477.8h0M121.9 519.6h0M127.4 500.9h0M133.1 490.9h0M145.7 488.6h0M149.7 491.3h0M123.6 511.3h0M146.3 495.3h0M80.3 531.2h0M106.3 523.8h0M138.6 497.7h0M146.1 490.0h0M149.3 491.6h0M95.2 555.8h0M111.3 537.4h0M143.0 508.7h0M110.7 529.6h0M151.8 513.1h0M102.0 554.2h0M113.3 545.2h0M143.2 518.5h0M128.2 510.8h0M137.0 505.8h0M158.9 480.8h0M118.8 519.4h0M115.4 526.3h0M111.5 531.6h0M95.5 550.3h0M147.0 482.8h0M128.9 524.7h0M100.1 540.2h0M98.3 560.7h0M148.0 494.2h0M129.6 496.2h0M105.5 533.6h0M96.0 554.0h0M126.8 522.5h0M91.2 554.9h0M143.5 514.4h0M151.8 479.3h0M94.5 553.9h0M97.3 557.5h0M137.4 502.4h0M136.5 499.5h0M95.9 548.3h0M152.6 483.8h0M121.3 500.5h0M92.0 549.4h0M103.5 546.6h0M120.1 541.4h0M134.1 525.3h0M132.2 499.7h0M128.0 504.2h0M117.1 541.0h0M107.9 541.9h0M143.4 477.7h0M100.7 553.6h0M129.3 503.6h0M120.4 534.0h0M140.7 486.7h0M95.6 534.1h0M95.9 560.8h0M138.0 517.1h0M120.3 523.6h0M125.2 519.1h0M127.8 514.0h0M99.1 549.8h0M105.0 549.5h0M103.1 552.9h0M107.5 555.3h0M112.8 541.6h0M103.7 548.4h0M119.5 524.7h0M93.5 557.7h0M137.0 492.0h0M106.2 534.3h0M91.5 551.3h0M111.8 552.7h0M116.4 535.9h0M154.5 494.0h0M97.5 556.2h0M134.3 514.5h0M114.1 532.1h0M140.2 503.5h0M88.7 553.0h0M104.6 530.3h0M97.7 541.2h0M124.3 520.3h0M148.7 475.6h0M135.7 518.8h0M110.6 532.9h0M148.8 480.3h0M116.3 520.3h0M157.9 486.3h0M118.8 530.0h0M120.1 517.8h0M89.9 548.4h0M91.6 553.5h0M95.0 552.7h0M155.8 497.9h0M139.6 501.1h0M129.4 520.1h0M147.3 489.3h0M130.2 513.0h0M119.6 518.6h0M132.8 500.3h0M89.4 552.9h0M125.5 517.4h0M158.9 486.4h0M144.9 494.1h0M131.0 510.9h0M103.8 550.9h0M118.8 527.9h0M131.7 516.5h0M129.6 508.3h0M152.5 486.8h0M112.6 518.1h0M133.1 509.2h0M96.1 555.3h0M107.5 548.5h0M144.2 482.3h0M148.1 482.3h0M100.6 552.8h0M99.8 523.9h0M126.7 526.6h0M128.7 525.8h0M128.7 519.0h0M96.2 550.4h0M131.9 505.3h0M147.4 495.4h0M103.0 543.4h0M148.6 490.4h0M124.3 525.1h0M139.2 500.5h0M111.4 536.9h0M97.5 542.0h0M142.2 510.1h0M122.0 520.0h0M143.9 491.8h0M112.4 521.2h0M121.4 531.0h0M130.0 513.4h0M107.5 536.7h0M127.6 518.6h0M98.2 556.5h0M100.9 541.2h0M145.9 496.2h0M112.3 523.5h0M122.3 512.3h0M108.0 540.5h0M97.5 549.6h0M117.4 532.2h0M123.5 538.2h0M143.8 481.3h0M130.1 520.6h0M123.6 526.0h0M130.9 513.8h0M136.9 508.8h0M142.8 498.5h0M155.9 479.3h0M112.2 525.5h0M151.4 481.9h0M151.8 483.6h0M135.3 510.7h0M119.1 520.3h0M111.4 535.5h0M137.7 510.0h0M141.9 490.4h0M146.9 487.5h0M103.7 549.4h0M146.5 478.7h0M137.3 514.6h0M103.8 541.8h0M150.1 483.8h0M137.8 509.8h0M109.2 550.2h0M105.6 549.6h0M196.7 446.5h0M189.3 453.4h0M202.7 455.3h0M196.4 464.2h0M209.8 463.8h0M196.4 467.5h0M184.7 466.0h0M182.8 474.4h0M185.6 481.9h0M174.4 476.3h0M169.8 482.8h0M166.0 471.6h0M161.4 474.4h0M165.1 479.0h0M173.5 480.0h0M158.5 476.0h0M160.0 481.0h0M156.0 473.0h0" stroke="#b4b4b4" stroke-width="1.20" stroke-linecap="round" fill="none"/><path d="M57.2 574.4h0M48.0 568.5h0M48.1 569.4h0M52.9 584.4h0M54.5 578.4h0M56.1 578.9h0M52.0 566.4h0M55.4 577.5h0M48.5 570.3h0M49.8 593.0h0M52.8 584.6h0M58.7 573.7h0M58.7 580.6h0M59.7 574.9h0M57.5 568.4h0M51.8 575.7h0M51.7 570.8h0M57.9 584.4h0M52.2 574.0h0M48.6 569.9h0M52.6 574.5h0M58.6 577.6h0M54.5 587.8h0M59.1 566.2h0M57.4 575.7h0M58.7 580.0h0M49.8 591.1h0M51.4 583.6h0M58.5 574.4h0M59.7 572.6h0M58.4 570.3h0M56.4 582.2h0M55.9 572.5h0M57.8 581.4h0M54.2 582.7h0M52.8 581.1h0M53.0 586.7h0M48.5 582.8h0M49.9 580.3h0M55.5 569.5h0M55.9 575.5h0M55.3 582.7h0M50.5 576.1h0M59.6 574.9h0M56.8 578.1h0M52.9 586.6h0M49.6 593.4h0M54.9 573.2h0M55.5 575.9h0M51.0 589.0h0M58.6 580.0h0M51.3 577.4h0M59.2 586.7h0M51.6 586.7h0M56.0 585.7h0M56.9 584.3h0M50.3 587.6h0M50.3 586.2h0M49.2 568.0h0M55.7 569.0h0M51.1 570.6h0M57.9 567.5h0M74.4 592.4h0M64.9 594.7h0M82.0 599.3h0M62.2 595.2h0M94.6 586.9h0M96.0 585.4h0M93.4 581.9h0M84.3 585.3h0M74.9 595.2h0M62.3 595.1h0M70.0 591.8h0M63.1 595.4h0M96.5 584.9h0M72.7 598.2h0M81.6 590.2h0M99.1 582.4h0M67.6 599.5h0M80.2 585.9h0M60.0 596.5h0M64.2 594.4h0M74.0 595.5h0M105.3 577.1h0M75.1 588.3h0M73.4 594.0h0M87.9 588.4h0M57.6 598.8h0M84.1 587.9h0M63.6 595.2h0M85.7 598.9h0M80.1 588.2h0M94.6 580.3h0M62.0 595.5h0M65.4 593.6h0M78.0 586.4h0M78.3 594.6h0M85.9 598.4h0M92.3 591.4h0M64.4 594.8h0M92.5 589.9h0M91.2 580.2h0M81.4 589.4h0M76.9 598.4h0M64.1 597.9h0M86.1 582.9h0M81.1 591.5h0M91.9 596.5h0M60.8 596.2h0M96.8 598.8h0M63.6 598.0h0M59.1 596.8h0M105.6 591.3h0M77.9 596.7h0M88.9 587.0h0M70.6 594.4h0M105.7 593.6h0M67.0 596.2h0M100.5 575.4h0M75.1 588.3h0M85.3 593.8h0M84.7 582.7h0M91.8 592.8h0M69.0 592.1h0M62.0 597.3h0M70.8 592.9h0M88.7 582.1h0M81.8 587.4h0M80.1 592.9h0M91.5 592.0h0M77.4 586.8h0M105.3 580.4h0M105.8 578.4h0M104.3 574.2h0M63.4 597.7h0M69.0 591.5h0M80.8 591.5h0M80.7 596.0h0M74.0 594.5h0M99.3 576.0h0M96.0 576.8h0M69.7 594.4h0M76.5 596.3h0M90.3 581.6h0M70.7 598.3h0M88.6 580.7h0M75.8 588.9h0M90.8 596.6h0M95.3 578.2h0M89.2 586.0h0M85.9 596.4h0M70.6 591.9h0M81.6 585.7h0M99.0 576.4h0M71.3 599.0h0M57.5 599.4h0M68.3 598.3h0M58.1 598.4h0M99.0 590.6h0M59.9 598.7h0M77.6 587.1h0M105.5 596.6h0M68.4 591.8h0M57.9 598.6h0M84.1 593.7h0M60.3 596.5h0M87.7 582.5h0M101.9 585.1h0M75.9 589.0h0M92.4 583.3h0M97.8 599.3h0M62.4 595.0h0M90.3 580.7h0M94.8 591.6h0M99.9 590.3h0M73.2 598.4h0M67.1 594.1h0M62.8 596.5h0M74.6 592.0h0M87.1 583.9h0M82.3 591.1h0M59.7 596.6h0M94.5 485.2h0M155.8 477.4h0M145.6 483.5h0M136.8 490.3h0M124.0 504.3h0M103.5 509.4h0M114.1 510.3h0M112.4 513.3h0M122.6 509.9h0M106.9 517.4h0M110.7 522.2h0M150.2 518.8h0M147.3 520.5h0M143.9 524.0h0M137.6 529.5h0M132.0 535.5h0M90.6 533.3h0M87.7 539.3h0M83.4 536.7h0M86.0 544.4h0M126.9 541.5h0M122.3 547.8h0M124.0 552.0h0M111.5 555.4h0M117.2 557.5h0M114.9 559.7h0M103.9 563.1h0M108.1 563.1h0M112.4 567.0h0M124.7 562.3h0M120.9 569.1h0M101.3 567.7h0M136.2 546.9h0M151.6 547.3h0M138.0 543.5h0M152.4 535.0h0M184.4 489.0h0M157.5 476.0h0M66.0 545.0h0M70.0 549.0h0M62.0 556.0h0M75.0 541.0h0M69.0 538.0h0M58.0 548.0h0" stroke="#e8412f" stroke-width="1.30" stroke-linecap="round" fill="none"/><text x="93.90" y="482.80" font-size="6.42" textLength="15.00" lengthAdjust="spacingAndGlyphs" fill="#444">CD74</text><text x="176.60" y="511.70" font-size="6.42" textLength="18.50" lengthAdjust="spacingAndGlyphs" fill="#444">SPARC</text><text x="42.60" y="519.60" font-size="6.42" textLength="18.50" lengthAdjust="spacingAndGlyphs" fill="#444">ACKR1</text><text x="42.60" y="532.00" font-size="6.42" textLength="25.50" lengthAdjust="spacingAndGlyphs" fill="#444">HLA-DRA</text><text x="61.50" y="538.50" font-size="6.42" textLength="17.00" lengthAdjust="spacingAndGlyphs" fill="#444">NNMT</text><text x="51.00" y="546.70" font-size="6.42" textLength="27.00" lengthAdjust="spacingAndGlyphs" fill="#444">HLA-DRB5</text><text x="66.80" y="551.10" font-size="6.42" textLength="14.50" lengthAdjust="spacingAndGlyphs" fill="#444">CCL2</text><text x="42.60" y="549.80" font-size="6.42" textLength="13.00" lengthAdjust="spacingAndGlyphs" fill="#444">SELE</text><text x="42.60" y="555.10" font-size="6.42" textLength="16.00" lengthAdjust="spacingAndGlyphs" fill="#444">ADIRF</text><text x="42.60" y="560.30" font-size="6.42" textLength="18.00" lengthAdjust="spacingAndGlyphs" fill="#444">VCAM1</text><text x="53.10" y="564.30" font-size="6.42" textLength="10.50" lengthAdjust="spacingAndGlyphs" fill="#444">CLU</text><text x="42.60" y="571.40" font-size="6.42" textLength="17.50" lengthAdjust="spacingAndGlyphs" fill="#444">CXCL2</text><text x="141.20" y="540.60" font-size="6.42" textLength="12.50" lengthAdjust="spacingAndGlyphs" fill="#444">SAT1</text><text x="153.50" y="544.00" font-size="6.42" textLength="22.00" lengthAdjust="spacingAndGlyphs" fill="#444">COL4A1</text><text x="124.10" y="548.50" font-size="6.42" textLength="15.50" lengthAdjust="spacingAndGlyphs" fill="#444">ITGB1</text><text x="137.70" y="552.50" font-size="6.42" textLength="22.50" lengthAdjust="spacingAndGlyphs" fill="#444">COL4A2</text><text x="112.30" y="574.80" font-size="6.42" textLength="12.50" lengthAdjust="spacingAndGlyphs" fill="#444">FLT1</text><text x="105.70" y="580.80" font-size="6.42" textLength="22.50" lengthAdjust="spacingAndGlyphs" fill="#444">ANGPT2</text><text x="89.40" y="589.80" font-size="6.42" textLength="13.50" lengthAdjust="spacingAndGlyphs" fill="#444">THY1</text><text x="130.60" y="588.70" font-size="6.42" textLength="19.50" lengthAdjust="spacingAndGlyphs" fill="#444">IGFBP3</text><text x="99.10" y="592.40" font-size="6.42" textLength="38.50" lengthAdjust="spacingAndGlyphs" fill="#444">MIR4435-2HG</text><text x="80.70" y="597.10" font-size="6.42" textLength="10.50" lengthAdjust="spacingAndGlyphs" fill="#444">CA2</text><text x="97.30" y="600.30" font-size="6.42" textLength="15.00" lengthAdjust="spacingAndGlyphs" fill="#444">ESM1</text><text x="53.10" y="601.10" font-size="6.42" textLength="21.00" lengthAdjust="spacingAndGlyphs" fill="#444">CXCL12</text><text x="75.50" y="601.10" font-size="6.42" textLength="14.50" lengthAdjust="spacingAndGlyphs" fill="#444">GJA4</text><line x1="54.70" y1="533.40" x2="57.90" y2="536.60" stroke="#444" stroke-width="0.4"/><line x1="99.40" y1="579.80" x2="105.10" y2="579.80" stroke="#444" stroke-width="0.4"/><line x1="101.90" y1="584.70" x2="106.50" y2="589.00" stroke="#444" stroke-width="0.4"/><line x1="111.70" y1="586.30" x2="130.00" y2="586.30" stroke="#444" stroke-width="0.4"/><text x="25.00" y="642.80" font-size="7.28" textLength="35.50" lengthAdjust="spacingAndGlyphs" fill="#444">Significant</text><circle cx="66.60" cy="640.40" r="2.40" fill="#d8283a"/><text x="71.30" y="642.80" font-size="7.49" textLength="92.80" lengthAdjust="spacingAndGlyphs" fill="#444">FDR &lt; 0.05 and logFC &gt; 0.5</text><circle cx="178.00" cy="640.40" r="2.40" fill="#b4b4b4"/><text x="182.30" y="642.80" font-size="7.28" textLength="51.40" lengthAdjust="spacingAndGlyphs" fill="#444">Not Significant</text><line x1="241.50" y1="603.40" x2="416.60" y2="603.40" stroke="#9a9a9a" stroke-width="0.8"/><line x1="251.20" y1="603.40" x2="251.20" y2="606.00" stroke="#888" stroke-width="0.8"/><text x="251.20" y="615.40" font-size="8.13" text-anchor="middle" textLength="12.89" lengthAdjust="spacingAndGlyphs" fill="#444">−20</text><line x1="271.70" y1="603.40" x2="271.70" y2="606.00" stroke="#888" stroke-width="0.8"/><text x="271.70" y="615.40" font-size="8.13" text-anchor="middle" textLength="12.89" lengthAdjust="spacingAndGlyphs" fill="#444">−15</text><line x1="292.20" y1="603.40" x2="292.20" y2="606.00" stroke="#888" stroke-width="0.8"/><text x="292.20" y="615.40" font-size="8.13" text-anchor="middle" textLength="12.89" lengthAdjust="spacingAndGlyphs" fill="#444">−10</text><line x1="312.70" y1="603.40" x2="312.70" y2="606.00" stroke="#888" stroke-width="0.8"/><text x="312.70" y="615.40" font-size="8.13" text-anchor="middle" textLength="8.67" lengthAdjust="spacingAndGlyphs" fill="#444">−5</text><line x1="333.20" y1="603.40" x2="333.20" y2="606.00" stroke="#888" stroke-width="0.8"/><text x="333.20" y="615.40" font-size="8.13" text-anchor="middle" textLength="4.23" lengthAdjust="spacingAndGlyphs" fill="#444">0</text><line x1="353.70" y1="603.40" x2="353.70" y2="606.00" stroke="#888" stroke-width="0.8"/><text x="353.70" y="615.40" font-size="8.13" text-anchor="middle" textLength="4.23" lengthAdjust="spacingAndGlyphs" fill="#444">5</text><line x1="374.20" y1="603.40" x2="374.20" y2="606.00" stroke="#888" stroke-width="0.8"/><text x="374.20" y="615.40" font-size="8.13" text-anchor="middle" textLength="8.45" lengthAdjust="spacingAndGlyphs" fill="#444">10</text><line x1="394.70" y1="603.40" x2="394.70" y2="606.00" stroke="#888" stroke-width="0.8"/><text x="394.70" y="615.40" font-size="8.13" text-anchor="middle" textLength="8.45" lengthAdjust="spacingAndGlyphs" fill="#444">15</text><line x1="415.20" y1="603.40" x2="415.20" y2="606.00" stroke="#888" stroke-width="0.8"/><text x="415.20" y="615.40" font-size="8.13" text-anchor="middle" textLength="8.45" lengthAdjust="spacingAndGlyphs" fill="#444">20</text><text x="333.40" y="626.80" font-size="8.56" text-anchor="middle" textLength="95.00" lengthAdjust="spacingAndGlyphs" fill="#444">−log<tspan font-size="5" dy="1.8">10</tspan><tspan dy="-1.8">(adjusted </tspan><tspan font-style="italic">P</tspan> value)</text><rect x="296.10" y="434.50" width="5.70" height="5.70" fill="#53a08d"/><text x="305.90" y="440.40" font-size="8.99" textLength="15.00" lengthAdjust="spacingAndGlyphs" fill="#444">E02</text><rect x="334.00" y="434.50" width="5.50" height="5.70" fill="#5eb4ce"/><text x="343.50" y="440.40" font-size="8.99" textLength="15.80" lengthAdjust="spacingAndGlyphs" fill="#444">E06</text><rect x="333.20" y="444.00" width="79.13" height="4.35" fill="#53a08d"/><text x="330.60" y="447.90" font-size="4.92" text-anchor="end" textLength="59.70" lengthAdjust="spacingAndGlyphs" fill="#444">Extracellular matrix organization</text><rect x="333.20" y="449.08" width="74.21" height="4.35" fill="#53a08d"/><text x="330.60" y="452.98" font-size="4.92" text-anchor="end" textLength="64.60" lengthAdjust="spacingAndGlyphs" fill="#444">Extracellular structure organization</text><rect x="333.20" y="454.16" width="25.83" height="4.35" fill="#53a08d"/><text x="330.60" y="458.06" font-size="4.92" text-anchor="end" textLength="49.90" lengthAdjust="spacingAndGlyphs" fill="#444">Regulation of angiogenesis</text><rect x="333.20" y="459.24" width="24.19" height="4.35" fill="#53a08d"/><text x="330.60" y="463.14" font-size="4.92" text-anchor="end" textLength="72.40" lengthAdjust="spacingAndGlyphs" fill="#444">Regulation of vasculature development</text><rect x="333.20" y="464.32" width="18.45" height="4.35" fill="#53a08d"/><text x="330.60" y="468.22" font-size="4.92" text-anchor="end" textLength="64.60" lengthAdjust="spacingAndGlyphs" fill="#444">Positive regulation of angiogenesis</text><rect x="333.20" y="469.40" width="17.22" height="4.35" fill="#53a08d"/><text x="330.60" y="473.30" font-size="4.92" text-anchor="end" textLength="44.20" lengthAdjust="spacingAndGlyphs" fill="#444">Cell-substrate adhesion</text><rect x="333.20" y="474.48" width="17.22" height="4.35" fill="#53a08d"/><text x="330.60" y="478.38" font-size="4.92" text-anchor="end" textLength="63.30" lengthAdjust="spacingAndGlyphs" fill="#444">Basement membrane organization</text><rect x="333.20" y="479.56" width="17.22" height="4.35" fill="#53a08d"/><text x="330.60" y="483.46" font-size="4.92" text-anchor="end" textLength="87.00" lengthAdjust="spacingAndGlyphs" fill="#444">Positive regulation of vasculature development</text><rect x="333.20" y="484.64" width="16.20" height="4.35" fill="#53a08d"/><text x="330.60" y="488.54" font-size="4.92" text-anchor="end" textLength="56.10" lengthAdjust="spacingAndGlyphs" fill="#444">Ameboidal-type cell migration</text><rect x="333.20" y="489.72" width="14.76" height="4.35" fill="#53a08d"/><text x="330.60" y="493.62" font-size="4.92" text-anchor="end" textLength="23.90" lengthAdjust="spacingAndGlyphs" fill="#444">EC migration</text><rect x="333.20" y="494.80" width="14.76" height="4.35" fill="#53a08d"/><text x="330.60" y="498.70" font-size="4.92" text-anchor="end" textLength="38.20" lengthAdjust="spacingAndGlyphs" fill="#444">Epithelium migration</text><rect x="333.20" y="499.88" width="14.76" height="4.35" fill="#53a08d"/><text x="330.60" y="503.78" font-size="4.92" text-anchor="end" textLength="43.40" lengthAdjust="spacingAndGlyphs" fill="#444">Epithelial cell migration</text><rect x="333.20" y="504.96" width="14.76" height="4.35" fill="#53a08d"/><text x="330.60" y="508.86" font-size="4.92" text-anchor="end" textLength="30.10" lengthAdjust="spacingAndGlyphs" fill="#444">Tissue migration</text><rect x="333.20" y="510.04" width="14.76" height="4.35" fill="#53a08d"/><text x="330.60" y="513.94" font-size="4.92" text-anchor="end" textLength="69.40" lengthAdjust="spacingAndGlyphs" fill="#444">Regulation of epithelial cell migration</text><rect x="333.20" y="515.12" width="14.76" height="4.35" fill="#53a08d"/><text x="330.60" y="519.02" font-size="4.92" text-anchor="end" textLength="51.50" lengthAdjust="spacingAndGlyphs" fill="#444">Collagen metabolic process</text><rect x="297.53" y="521.10" width="35.67" height="4.40" fill="#5eb4ce"/><text x="335.00" y="525.10" font-size="4.92" textLength="75.90" lengthAdjust="spacingAndGlyphs" fill="#444">Immunoglobulin mediated immune response</text><rect x="297.53" y="526.14" width="35.67" height="4.40" fill="#5eb4ce"/><text x="335.00" y="530.14" font-size="4.92" textLength="48.20" lengthAdjust="spacingAndGlyphs" fill="#444">B cell-mediated immunity</text><rect x="297.53" y="531.18" width="35.67" height="4.40" fill="#5eb4ce"/><text x="335.00" y="535.18" font-size="4.92" textLength="50.50" lengthAdjust="spacingAndGlyphs" fill="#444">Adaptive immune response</text><rect x="298.56" y="536.22" width="34.64" height="4.40" fill="#5eb4ce"/><text x="335.00" y="540.22" font-size="4.92" textLength="50.50" lengthAdjust="spacingAndGlyphs" fill="#444">Humoral immune response</text><rect x="300.81" y="541.26" width="32.39" height="4.40" fill="#5eb4ce"/><text x="335.00" y="545.26" font-size="4.92" textLength="37.90" lengthAdjust="spacingAndGlyphs" fill="#444">Leukocyte migration</text><rect x="300.81" y="546.30" width="32.39" height="4.40" fill="#5eb4ce"/><text x="335.00" y="550.30" font-size="4.92" textLength="55.50" lengthAdjust="spacingAndGlyphs" fill="#444">Acute inflammatory response</text><rect x="300.81" y="551.34" width="32.39" height="4.40" fill="#5eb4ce"/><text x="335.00" y="555.34" font-size="4.92" textLength="78.80" lengthAdjust="spacingAndGlyphs" fill="#444">Complement activation, classical pathway</text><rect x="301.22" y="556.38" width="31.98" height="4.40" fill="#5eb4ce"/><text x="335.00" y="560.38" font-size="4.92" textLength="69.20" lengthAdjust="spacingAndGlyphs" fill="#444">Antigen processing and presentation</text><rect x="302.04" y="561.42" width="31.16" height="4.40" fill="#5eb4ce"/><text x="335.00" y="565.42" font-size="4.92" textLength="92.80" lengthAdjust="spacingAndGlyphs" fill="#444">Immune response-activating cell surface receptor</text><rect x="302.04" y="566.46" width="31.16" height="4.40" fill="#5eb4ce"/><text x="335.00" y="570.46" font-size="4.92" textLength="25.70" lengthAdjust="spacingAndGlyphs" fill="#444">Response to IFN-γ</text><rect x="302.04" y="571.50" width="31.16" height="4.40" fill="#5eb4ce"/><text x="335.00" y="575.50" font-size="4.92" textLength="71.50" lengthAdjust="spacingAndGlyphs" fill="#444">Regulation of protein activation cascade</text><rect x="302.04" y="576.54" width="31.16" height="4.40" fill="#5eb4ce"/><text x="335.00" y="580.54" font-size="4.92" textLength="69.20" lengthAdjust="spacingAndGlyphs" fill="#444">Regulation of inflammatory response</text><rect x="302.04" y="581.58" width="31.16" height="4.40" fill="#5eb4ce"/><text x="335.00" y="585.58" font-size="4.92" textLength="69.50" lengthAdjust="spacingAndGlyphs" fill="#444">Regulation of complement activation</text><rect x="302.04" y="586.62" width="31.16" height="4.40" fill="#5eb4ce"/><text x="335.00" y="590.62" font-size="4.92" textLength="49.00" lengthAdjust="spacingAndGlyphs" fill="#444">Protein activation cascade</text><rect x="302.04" y="591.66" width="31.16" height="4.40" fill="#5eb4ce"/><text x="335.00" y="595.66" font-size="4.92" textLength="60.70" lengthAdjust="spacingAndGlyphs" fill="#444">Lymphocyte-mediated immunity</text><rect x="302.04" y="596.70" width="31.16" height="4.40" fill="#5eb4ce"/><text x="335.00" y="600.70" font-size="4.92" textLength="50.50" lengthAdjust="spacingAndGlyphs" fill="#444">Humoral immune response</text><line x1="484.30" y1="448.80" x2="484.30" y2="603.20" stroke="#9a9a9a" stroke-width="0.8"/><line x1="484.30" y1="603.20" x2="657.70" y2="603.20" stroke="#9a9a9a" stroke-width="0.8"/><line x1="481.70" y1="596.90" x2="484.30" y2="596.90" stroke="#888" stroke-width="0.8"/><text x="478.00" y="599.50" font-size="8.13" text-anchor="end" textLength="4.23" lengthAdjust="spacingAndGlyphs" fill="#444">0</text><line x1="481.70" y1="561.50" x2="484.30" y2="561.50" stroke="#888" stroke-width="0.8"/><text x="478.00" y="564.10" font-size="8.13" text-anchor="end" textLength="14.79" lengthAdjust="spacingAndGlyphs" fill="#444">0.25</text><line x1="481.70" y1="526.10" x2="484.30" y2="526.10" stroke="#888" stroke-width="0.8"/><text x="478.00" y="528.70" font-size="8.13" text-anchor="end" textLength="14.79" lengthAdjust="spacingAndGlyphs" fill="#444">0.50</text><line x1="481.70" y1="490.70" x2="484.30" y2="490.70" stroke="#888" stroke-width="0.8"/><text x="478.00" y="493.30" font-size="8.13" text-anchor="end" textLength="14.79" lengthAdjust="spacingAndGlyphs" fill="#444">0.75</text><line x1="481.70" y1="455.30" x2="484.30" y2="455.30" stroke="#888" stroke-width="0.8"/><text x="478.00" y="457.90" font-size="8.13" text-anchor="end" textLength="14.79" lengthAdjust="spacingAndGlyphs" fill="#444">1.00</text><line x1="492.00" y1="603.20" x2="492.00" y2="605.80" stroke="#888" stroke-width="0.8"/><text x="492.00" y="615.20" font-size="8.13" text-anchor="middle" textLength="4.23" lengthAdjust="spacingAndGlyphs" fill="#444">0</text><line x1="523.58" y1="603.20" x2="523.58" y2="605.80" stroke="#888" stroke-width="0.8"/><text x="523.58" y="615.20" font-size="8.13" text-anchor="middle" textLength="19.02" lengthAdjust="spacingAndGlyphs" fill="#444">1,000</text><line x1="555.16" y1="603.20" x2="555.16" y2="605.80" stroke="#888" stroke-width="0.8"/><text x="555.16" y="615.20" font-size="8.13" text-anchor="middle" textLength="19.02" lengthAdjust="spacingAndGlyphs" fill="#444">2,000</text><line x1="586.74" y1="603.20" x2="586.74" y2="605.80" stroke="#888" stroke-width="0.8"/><text x="586.74" y="615.20" font-size="8.13" text-anchor="middle" textLength="19.02" lengthAdjust="spacingAndGlyphs" fill="#444">3,000</text><line x1="618.32" y1="603.20" x2="618.32" y2="605.80" stroke="#888" stroke-width="0.8"/><text x="618.32" y="615.20" font-size="8.13" text-anchor="middle" textLength="19.02" lengthAdjust="spacingAndGlyphs" fill="#444">4,000</text><line x1="649.90" y1="603.20" x2="649.90" y2="605.80" stroke="#888" stroke-width="0.8"/><text x="649.90" y="615.20" font-size="8.13" text-anchor="middle" textLength="19.02" lengthAdjust="spacingAndGlyphs" fill="#444">5,000</text><text x="571.20" y="627.20" font-size="9.31" text-anchor="middle" textLength="44.40" lengthAdjust="spacingAndGlyphs" fill="#444">Time (days)</text><text x="455.60" y="526.10" font-size="8.56" text-anchor="middle" textLength="77.80" lengthAdjust="spacingAndGlyphs" fill="#444" transform="rotate(-90 455.60 526.10)">Survival probability</text><text x="570.90" y="440.80" font-size="9.42" text-anchor="middle" textLength="81.00" lengthAdjust="spacingAndGlyphs" fill="#444">TCGA HGSOC data</text><text x="494.50" y="571.20" font-size="8.35" textLength="38.00" lengthAdjust="spacingAndGlyphs" fill="#444"><tspan font-style="italic">P</tspan> = 0.035</text><text x="494.50" y="580.80" font-size="8.35" textLength="41.00" lengthAdjust="spacingAndGlyphs" fill="#444">HR = 1.323</text><path d="M492.0 455.9H496.0V458.5H500.5V460.5H504.0V463.0H506.1V464.9H508.3V466.7H509.4V468.9H510.5V471.0H511.0V472.7H511.6V474.3H512.1V476.0H514.0V477.9H516.0V479.9H518.4V481.9H520.7V483.8H521.5V485.5H522.2V487.3H523.0V489.0H523.8V490.9H524.5V492.7H525.3V494.6H526.2V496.4H527.1V498.2H528.0V500.0H528.7V501.8H529.3V503.7H530.0V505.5H531.0V507.2H532.0V509.0H533.3V511.1H534.6V513.2H535.0V515.0H535.4V516.7H535.8V518.5H536.2V520.2H537.8V522.2H539.3V524.1H540.3V526.2H541.4V528.4H542.4V530.2H543.4V532.0H544.4V533.7H545.4V535.5H546.7V537.2H548.0V539.0H549.8V540.9H551.6V542.7H553.0V544.6H554.5V546.5H556.1V548.2H557.7V549.9H561.8V552.9H567.9V552.9H571.0V555.0H574.0V558.0H575.0V559.7H576.0V561.3H577.0V563.0H578.1V564.7H579.1V566.5H580.2V568.2H588.4V568.2H592.0V570.5H596.5V571.3H606.7V573.4H612.9V575.8H623.1V576.4H638.4V577.4H638.9V579.2H639.4V581.1H657.8V581.5" fill="none" stroke="#e06a60" stroke-width="1.3"/><path d="M492.0 455.9H494.5V459.0H497.4V462.0H500.5V465.0H502.1V466.6H503.6V468.3H504.8V470.1H506.0V472.0H507.1V474.0H508.3V476.0H509.1V478.2H510.0V480.5H510.7V482.1H511.4V483.7H512.1V485.3H515.0V488.5H517.6V491.5H518.8V493.5H520.0V495.5H521.1V497.4H522.2V499.3H523.1V501.1H524.0V503.0H525.0V505.0H526.1V507.0H526.4V508.7H526.7V510.3H527.0V512.0H528.4V514.8H529.2V516.9H530.0V519.0H530.5V520.8H531.1V522.6H531.7V524.5H532.2V526.3H533.0V528.0H533.7V529.8H534.5V531.5H535.4V533.2H536.4V534.9H537.3V536.6H538.4V538.4H539.4V540.2H540.5V542.0H542.0V544.4H543.4V546.8H545.0V549.1H546.5V551.5H548.0V553.8H549.5V556.0H551.0V558.0H552.5V560.0H555.7V563.1H558.8V565.0H561.8V566.8H567.9V567.2H571.0V569.0H574.0V571.3H575.5V573.4H577.0V575.5H579.2V578.5H588.4V579.5H596.5V581.5H606.7V584.6H623.1V586.0H638.4V586.6H639.4V588.7H657.8V589.3" fill="none" stroke="#17a8ae" stroke-width="1.3"/><path d="M523.6 495.1h4.0M525.6 493.1v4.0M531.3 511.1h4.0M533.3 509.1v4.0M557.5 551.2h4.0M559.5 549.2v4.0M524.5 497.1h4.0M526.5 495.1v4.0M527.6 504.3h4.0M529.6 502.3v4.0M533.3 516.2h4.0M535.3 514.2v4.0M504.3 465.0h4.0M506.3 463.0v4.0M527.9 505.1h4.0M529.9 503.1v4.0M536.4 522.9h4.0M538.4 520.9v4.0M548.1 541.2h4.0M550.1 539.2v4.0M497.8 460.2h4.0M499.8 458.2v4.0M512.8 478.7h4.0M514.8 476.7v4.0M497.5 460.1h4.0M499.5 458.1v4.0M549.3 542.4h4.0M551.3 540.4v4.0M540.9 531.1h4.0M542.9 529.1v4.0M494.0 458.5h4.0M496.0 456.5v4.0M561.7 552.9h4.0M563.7 550.9v4.0M560.5 552.9h4.0M562.5 550.9v4.0M538.1 525.7h4.0M540.1 523.7v4.0M535.3 521.6h4.0M537.3 519.6v4.0M502.3 463.3h4.0M504.3 461.3v4.0M492.1 457.3h4.0M494.1 455.3v4.0M529.0 507.3h4.0M531.0 505.3v4.0M495.3 459.1h4.0M497.3 457.1v4.0M504.7 465.3h4.0M506.7 463.3v4.0M508.4 470.8h4.0M510.4 468.8v4.0M493.2 458.0h4.0M495.2 456.0v4.0M524.4 496.8h4.0M526.4 494.8v4.0M522.7 493.2h4.0M524.7 491.2v4.0M551.7 545.4h4.0M553.7 543.4v4.0M528.4 506.2h4.0M530.4 504.2v4.0M537.1 523.8h4.0M539.1 521.8v4.0M527.0 502.7h4.0M529.0 500.7v4.0M538.7 527.0h4.0M540.7 525.0v4.0M523.9 495.9h4.0M525.9 493.9v4.0M511.0 476.9h4.0M513.0 474.9v4.0M562.8 552.9h4.0M564.8 550.9v4.0M562.7 552.9h4.0M564.7 550.9v4.0M551.5 545.2h4.0M553.5 543.2v4.0M542.0 532.9h4.0M544.0 530.9v4.0M513.7 479.6h4.0M515.7 477.6v4.0M507.5 469.1h4.0M509.5 467.1v4.0M511.8 477.7h4.0M513.8 475.7v4.0M496.1 459.4h4.0M498.1 457.4v4.0M546.2 539.2h4.0M548.2 537.2v4.0M519.8 486.4h4.0M521.8 484.4v4.0M552.0 545.8h4.0M554.0 543.8v4.0M518.8 484.1h4.0M520.8 482.1v4.0M560.0 552.9h4.0M562.0 550.9v4.0M552.0 545.9h4.0M554.0 543.9v4.0M491.0 456.6h4.0M493.0 454.6v4.0M506.1 466.5h4.0M508.1 464.5v4.0M556.5 550.5h4.0M558.5 548.5v4.0M524.8 497.7h4.0M526.8 495.7v4.0M561.6 552.9h4.0M563.6 550.9v4.0M519.6 485.9h4.0M521.6 483.9v4.0M496.3 459.5h4.0M498.3 457.5v4.0M536.3 522.9h4.0M538.3 520.9v4.0M547.1 540.1h4.0M549.1 538.1v4.0M510.4 476.3h4.0M512.4 474.3v4.0M497.3 460.0h4.0M499.3 458.0v4.0M514.9 480.7h4.0M516.9 478.7v4.0M560.4 552.9h4.0M562.4 550.9v4.0M545.6 538.4h4.0M547.6 536.4v4.0M499.5 461.2h4.0M501.5 459.2v4.0M508.7 471.7h4.0M510.7 469.7v4.0M498.3 460.4h4.0M500.3 458.4v4.0M495.3 459.1h4.0M497.3 457.1v4.0M548.4 541.5h4.0M550.4 539.5v4.0M503.8 464.5h4.0M505.8 462.5v4.0M531.3 511.1h4.0M533.3 509.1v4.0M523.2 494.4h4.0M525.2 492.4v4.0M504.7 465.3h4.0M506.7 463.3v4.0M543.7 535.9h4.0M545.7 533.9v4.0M500.4 461.9h4.0M502.4 459.9v4.0M537.3 524.2h4.0M539.3 522.2v4.0M499.4 461.1h4.0M501.4 459.1v4.0M521.3 489.7h4.0M523.3 487.7v4.0M506.3 466.8h4.0M508.3 464.8v4.0M510.4 476.3h4.0M512.4 474.3v4.0M560.9 552.9h4.0M562.9 550.9v4.0M548.8 541.9h4.0M550.8 539.9v4.0M512.9 478.8h4.0M514.9 476.8v4.0M554.7 548.8h4.0M556.7 546.8v4.0M506.2 466.6h4.0M508.2 464.6v4.0M519.4 485.4h4.0M521.4 483.4v4.0M552.5 546.5h4.0M554.5 544.5v4.0M537.2 524.0h4.0M539.2 522.0v4.0M498.2 460.4h4.0M500.2 458.4v4.0M562.2 552.9h4.0M564.2 550.9v4.0M506.4 466.8h4.0M508.4 464.8v4.0M509.6 474.4h4.0M511.6 472.4v4.0M546.6 539.7h4.0M548.6 537.7v4.0M514.7 480.5h4.0M516.7 478.5v4.0M512.3 478.2h4.0M514.3 476.2v4.0M496.3 459.5h4.0M498.3 457.5v4.0M497.5 460.1h4.0M499.5 458.1v4.0M533.0 514.8h4.0M535.0 512.8v4.0M508.5 471.0h4.0M510.5 469.0v4.0M534.3 520.3h4.0M536.3 518.3v4.0M517.8 483.0h4.0M519.8 481.0v4.0M523.6 495.3h4.0M525.6 493.3v4.0M560.1 552.9h4.0M562.1 550.9v4.0M525.8 499.7h4.0M527.8 497.7v4.0M532.4 512.8h4.0M534.4 510.8v4.0M553.4 547.4h4.0M555.4 545.4v4.0M504.2 464.9h4.0M506.2 462.9v4.0M502.1 463.1h4.0M504.1 461.1v4.0M556.4 550.4h4.0M558.4 548.4v4.0M549.9 543.1h4.0M551.9 541.1v4.0M509.0 472.4h4.0M511.0 470.4v4.0M504.7 465.3h4.0M506.7 463.3v4.0M544.2 536.6h4.0M546.2 534.6v4.0M558.7 552.1h4.0M560.7 550.1v4.0M505.2 465.7h4.0M507.2 463.7v4.0M559.4 552.6h4.0M561.4 550.6v4.0M554.5 548.6h4.0M556.5 546.6v4.0M534.5 520.5h4.0M536.5 518.5v4.0M521.3 489.8h4.0M523.3 487.8v4.0M498.5 460.5h4.0M500.5 458.5v4.0M493.8 458.4h4.0M495.8 456.4v4.0M560.3 552.9h4.0M562.3 550.9v4.0M508.2 470.3h4.0M510.2 468.3v4.0M541.7 532.5h4.0M543.7 530.5v4.0M509.5 474.1h4.0M511.5 472.1v4.0M550.3 543.6h4.0M552.3 541.6v4.0M533.9 519.1h4.0M535.9 517.1v4.0M512.1 478.0h4.0M514.1 476.0v4.0M503.6 464.4h4.0M505.6 462.4v4.0M542.9 534.6h4.0M544.9 532.6v4.0M496.0 459.4h4.0M498.0 457.4v4.0M507.4 468.9h4.0M509.4 466.9v4.0M531.3 511.1h4.0M533.3 509.1v4.0M552.4 546.3h4.0M554.4 544.3v4.0M535.2 521.5h4.0M537.2 519.5v4.0M511.2 477.1h4.0M513.2 475.1v4.0M557.0 550.9h4.0M559.0 548.9v4.0M505.7 466.2h4.0M507.7 464.2v4.0M492.2 457.3h4.0M494.2 455.3v4.0M510.4 476.3h4.0M512.4 474.3v4.0M523.1 494.1h4.0M525.1 492.1v4.0M495.4 459.1h4.0M497.4 457.1v4.0M503.7 464.5h4.0M505.7 462.5v4.0M517.6 482.8h4.0M519.6 480.8v4.0M532.2 512.5h4.0M534.2 510.5v4.0M500.5 461.9h4.0M502.5 459.9v4.0M517.1 482.5h4.0M519.1 480.5v4.0M555.1 549.3h4.0M557.1 547.3v4.0M561.6 552.9h4.0M563.6 550.9v4.0M538.3 526.1h4.0M540.3 524.1v4.0" stroke="#e06a60" stroke-width="0.9" fill="none"/><path d="M604.5 573.4h4.0M606.5 571.4v4.0M598.1 572.0h4.0M600.1 570.0v4.0M571.4 557.4h4.0M573.4 555.4v4.0M565.1 552.9h4.0M567.1 550.9v4.0M564.1 552.9h4.0M566.1 550.9v4.0M617.6 576.2h4.0M619.6 574.2v4.0M605.1 573.5h4.0M607.1 571.5v4.0M620.8 576.4h4.0M622.8 574.4v4.0M564.3 552.9h4.0M566.3 550.9v4.0M601.2 572.7h4.0M603.2 570.7v4.0M591.9 570.8h4.0M593.9 568.8v4.0M606.8 574.2h4.0M608.8 572.2v4.0M582.1 568.2h4.0M584.1 566.2v4.0M623.0 576.5h4.0M625.0 574.5v4.0M567.5 554.0h4.0M569.5 552.0v4.0M595.8 571.6h4.0M597.8 569.6v4.0M607.2 574.4h4.0M609.2 572.4v4.0M617.0 576.2h4.0M619.0 574.2v4.0M607.2 574.4h4.0M609.2 572.4v4.0M605.2 573.6h4.0M607.2 571.6v4.0M610.6 575.7h4.0M612.6 573.7v4.0M617.9 576.2h4.0M619.9 574.2v4.0M584.1 568.2h4.0M586.1 566.2v4.0M604.1 573.3h4.0M606.1 571.3v4.0M617.1 576.2h4.0M619.1 574.2v4.0M615.3 576.1h4.0M617.3 574.1v4.0M588.0 569.2h4.0M590.0 567.2v4.0M610.4 575.6h4.0M612.4 573.6v4.0M614.8 576.0h4.0M616.8 574.0v4.0M597.4 571.9h4.0M599.4 569.9v4.0M600.5 572.5h4.0M602.5 570.5v4.0M585.9 568.2h4.0M587.9 566.2v4.0M598.0 572.0h4.0M600.0 570.0v4.0M599.5 572.3h4.0M601.5 570.3v4.0M567.8 554.2h4.0M569.8 552.2v4.0M601.4 572.7h4.0M603.4 570.7v4.0M622.6 576.5h4.0M624.6 574.5v4.0M615.8 576.1h4.0M617.8 574.1v4.0M606.7 574.2h4.0M608.7 572.2v4.0M586.3 568.2h4.0M588.3 566.2v4.0" stroke="#e06a60" stroke-width="0.9" fill="none"/><path d="M637.6 581.1h4.0M639.6 579.1v4.0M637.4 581.0h4.0M639.4 579.0v4.0M637.2 580.2h4.0M639.2 578.2v4.0" stroke="#e06a60" stroke-width="0.9" fill="none"/><path d="M551.4 560.8h4.0M553.4 558.8v4.0M497.0 463.6h4.0M499.0 461.6v4.0M545.0 552.3h4.0M547.0 550.3v4.0M493.1 459.7h4.0M495.1 457.7v4.0M534.3 534.8h4.0M536.3 532.8v4.0M525.6 513.3h4.0M527.6 511.3v4.0M507.6 479.4h4.0M509.6 477.4v4.0M541.3 546.6h4.0M543.3 544.6v4.0M526.8 515.9h4.0M528.8 513.9v4.0M535.2 536.5h4.0M537.2 534.5v4.0M557.3 565.3h4.0M559.3 563.3v4.0M509.4 483.7h4.0M511.4 481.7v4.0M491.8 458.1h4.0M493.8 456.1v4.0M512.7 488.1h4.0M514.7 486.1v4.0M539.8 544.2h4.0M541.8 542.2v4.0M505.6 474.8h4.0M507.6 472.8v4.0M503.2 470.8h4.0M505.2 468.8v4.0M556.2 564.6h4.0M558.2 562.6v4.0M538.5 542.0h4.0M540.5 540.0v4.0M522.8 504.6h4.0M524.8 502.6v4.0M555.2 564.0h4.0M557.2 562.0v4.0M514.5 490.3h4.0M516.5 488.3v4.0M538.9 542.7h4.0M540.9 540.7v4.0M505.3 474.2h4.0M507.3 472.2v4.0M522.0 503.0h4.0M524.0 501.0v4.0M549.0 558.0h4.0M551.0 556.0v4.0M556.8 565.0h4.0M558.8 563.0v4.0M554.4 563.5h4.0M556.4 561.5v4.0M518.7 496.7h4.0M520.7 494.7v4.0M533.0 532.4h4.0M535.0 530.4v4.0M513.8 489.4h4.0M515.8 487.4v4.0M500.8 467.5h4.0M502.8 465.5v4.0M526.7 515.7h4.0M528.7 513.7v4.0M551.3 560.7h4.0M553.3 558.7v4.0M552.1 561.6h4.0M554.1 559.6v4.0M542.2 548.0h4.0M544.2 546.0v4.0M559.4 566.6h4.0M561.4 564.6v4.0M510.9 486.2h4.0M512.9 484.2v4.0M503.2 470.7h4.0M505.2 468.7v4.0M523.4 505.8h4.0M525.4 503.8v4.0M510.8 486.1h4.0M512.8 484.1v4.0M506.4 476.3h4.0M508.4 474.3v4.0M520.8 500.5h4.0M522.8 498.5v4.0M536.1 537.9h4.0M538.1 535.9v4.0M526.6 515.2h4.0M528.6 513.2v4.0M513.7 489.3h4.0M515.7 487.3v4.0M551.4 560.9h4.0M553.4 558.9v4.0M561.7 566.9h4.0M563.7 564.9v4.0M523.6 506.0h4.0M525.6 504.0v4.0M496.4 462.9h4.0M498.4 460.9v4.0M493.3 459.8h4.0M495.3 457.8v4.0M553.8 563.2h4.0M555.8 561.2v4.0M494.0 460.5h4.0M496.0 458.5v4.0M542.0 547.7h4.0M544.0 545.7v4.0M532.1 530.6h4.0M534.1 528.6v4.0M513.3 488.8h4.0M515.3 486.8v4.0M548.0 556.7h4.0M550.0 554.7v4.0M492.4 458.8h4.0M494.4 456.8v4.0M500.8 467.4h4.0M502.8 465.4v4.0M523.7 506.3h4.0M525.7 504.3v4.0M492.8 459.3h4.0M494.8 457.3v4.0M550.7 560.2h4.0M552.7 558.2v4.0M508.1 480.7h4.0M510.1 478.7v4.0M501.1 467.8h4.0M503.1 465.8v4.0M494.4 460.9h4.0M496.4 458.9v4.0M536.3 538.3h4.0M538.3 536.3v4.0M523.1 505.2h4.0M525.1 503.2v4.0M536.4 538.4h4.0M538.4 536.4v4.0M538.2 541.4h4.0M540.2 539.4v4.0M549.1 558.2h4.0M551.1 556.2v4.0M560.0 566.8h4.0M562.0 564.8v4.0M540.3 545.0h4.0M542.3 543.0v4.0M505.4 474.4h4.0M507.4 472.4v4.0M525.2 512.4h4.0M527.2 510.4v4.0M503.9 471.8h4.0M505.9 469.8v4.0M491.8 458.1h4.0M493.8 456.1v4.0M525.0 512.0h4.0M527.0 510.0v4.0M542.4 548.3h4.0M544.4 546.3v4.0M503.9 471.8h4.0M505.9 469.8v4.0M510.6 485.9h4.0M512.6 483.9v4.0M515.9 492.0h4.0M517.9 490.0v4.0M541.2 546.5h4.0M543.2 544.5v4.0M528.5 520.6h4.0M530.5 518.6v4.0M535.2 536.5h4.0M537.2 534.5v4.0M545.4 552.9h4.0M547.4 550.9v4.0M519.3 497.8h4.0M521.3 495.8v4.0M548.0 556.7h4.0M550.0 554.7v4.0M556.2 564.6h4.0M558.2 562.6v4.0M497.3 463.8h4.0M499.3 461.8v4.0M558.1 565.8h4.0M560.1 563.8v4.0M543.0 549.2h4.0M545.0 547.2v4.0M500.4 467.0h4.0M502.4 465.0v4.0M523.7 506.2h4.0M525.7 504.2v4.0M536.0 537.8h4.0M538.0 535.8v4.0M556.5 564.8h4.0M558.5 562.8v4.0M518.1 495.7h4.0M520.1 493.7v4.0M532.0 530.3h4.0M534.0 528.3v4.0M554.3 563.5h4.0M556.3 561.5v4.0M548.4 557.2h4.0M550.4 555.2v4.0M559.0 566.3h4.0M561.0 564.3v4.0M524.4 508.6h4.0M526.4 506.6v4.0M537.9 541.0h4.0M539.9 539.0v4.0M505.8 475.0h4.0M507.8 473.0v4.0M543.0 549.2h4.0M545.0 547.2v4.0M549.9 559.2h4.0M551.9 557.2v4.0M537.2 539.8h4.0M539.2 537.8v4.0M542.7 548.7h4.0M544.7 546.7v4.0M506.4 476.2h4.0M508.4 474.2v4.0M555.8 564.4h4.0M557.8 562.4v4.0M561.6 566.9h4.0M563.6 564.9v4.0M561.4 566.9h4.0M563.4 564.9v4.0M529.7 524.5h4.0M531.7 522.5v4.0M547.9 556.6h4.0M549.9 554.6v4.0M514.1 489.7h4.0M516.1 487.7v4.0M556.5 564.8h4.0M558.5 562.8v4.0M552.6 562.1h4.0M554.6 560.1v4.0M516.1 492.3h4.0M518.1 490.3v4.0M497.0 463.5h4.0M499.0 461.5v4.0M522.7 504.4h4.0M524.7 502.4v4.0M530.6 527.3h4.0M532.6 525.3v4.0M546.3 554.2h4.0M548.3 552.2v4.0M526.1 514.2h4.0M528.1 512.2v4.0M493.0 459.6h4.0M495.0 457.6v4.0M549.3 558.3h4.0M551.3 556.3v4.0M495.6 462.2h4.0M497.6 460.2v4.0M548.6 557.5h4.0M550.6 555.5v4.0M503.4 471.1h4.0M505.4 469.1v4.0M515.1 490.9h4.0M517.1 488.9v4.0M547.7 556.3h4.0M549.7 554.3v4.0M501.1 467.8h4.0M503.1 465.8v4.0M501.7 468.5h4.0M503.7 466.5v4.0M528.2 519.6h4.0M530.2 517.6v4.0M543.1 549.4h4.0M545.1 547.4v4.0M551.5 560.9h4.0M553.5 558.9v4.0M540.6 545.5h4.0M542.6 543.5v4.0M559.1 566.4h4.0M561.1 564.4v4.0M526.5 515.0h4.0M528.5 513.0v4.0M559.3 566.5h4.0M561.3 564.5v4.0M497.2 463.7h4.0M499.2 461.7v4.0M506.9 477.7h4.0M508.9 475.7v4.0M528.9 522.1h4.0M530.9 520.1v4.0M511.9 487.3h4.0M513.9 485.3v4.0M543.5 549.9h4.0M545.5 547.9v4.0M537.0 539.5h4.0M539.0 537.5v4.0M528.6 521.1h4.0M530.6 519.1v4.0M551.7 561.2h4.0M553.7 559.2v4.0M531.3 528.8h4.0M533.3 526.8v4.0M513.4 489.0h4.0M515.4 487.0v4.0M518.4 496.3h4.0M520.4 494.3v4.0M551.9 561.3h4.0M553.9 559.3v4.0" stroke="#17a8ae" stroke-width="0.9" fill="none"/><path d="M617.0 585.7h4.0M619.0 583.7v4.0M575.5 576.2h4.0M577.5 574.2v4.0M614.0 585.4h4.0M616.0 583.4v4.0M621.1 586.0h4.0M623.1 584.0v4.0M594.5 581.5h4.0M596.5 579.5v4.0M597.4 582.4h4.0M599.4 580.4v4.0M575.1 575.6h4.0M577.1 573.6v4.0M595.2 581.7h4.0M597.2 579.7v4.0M593.2 581.2h4.0M595.2 579.2v4.0M599.3 583.0h4.0M601.3 581.0v4.0M564.7 567.1h4.0M566.7 565.1v4.0M621.2 586.0h4.0M623.2 584.0v4.0M594.0 581.4h4.0M596.0 579.4v4.0M587.0 579.7h4.0M589.0 577.7v4.0M611.1 585.1h4.0M613.1 583.1v4.0M596.8 582.2h4.0M598.8 580.2v4.0M592.5 581.0h4.0M594.5 579.0v4.0M604.5 584.5h4.0M606.5 582.5v4.0M567.0 567.8h4.0M569.0 565.8v4.0M595.3 581.8h4.0M597.3 579.8v4.0M587.8 579.9h4.0M589.8 577.9v4.0M620.4 585.9h4.0M622.4 583.9v4.0M618.4 585.8h4.0M620.4 583.8v4.0M579.2 578.7h4.0M581.2 576.7v4.0M591.4 580.7h4.0M593.4 578.7v4.0M570.6 570.2h4.0M572.6 568.2v4.0M589.0 580.1h4.0M591.0 578.1v4.0M611.9 585.2h4.0M613.9 583.2v4.0M617.0 585.7h4.0M619.0 583.7v4.0M591.6 580.8h4.0M593.6 578.8v4.0M582.0 579.0h4.0M584.0 577.0v4.0M574.5 574.8h4.0M576.5 572.8v4.0M600.1 583.2h4.0M602.1 581.2v4.0M618.5 585.8h4.0M620.5 583.8v4.0M570.8 570.4h4.0M572.8 568.4v4.0M609.8 585.0h4.0M611.8 583.0v4.0M564.4 567.1h4.0M566.4 565.1v4.0M574.6 575.0h4.0M576.6 573.0v4.0M576.6 577.7h4.0M578.6 575.7v4.0M604.2 584.5h4.0M606.2 582.5v4.0" stroke="#17a8ae" stroke-width="0.9" fill="none"/><path d="M637.0 587.8h4.0M639.0 585.8v4.0M637.0 587.9h4.0M639.0 585.9v4.0M637.4 588.7h4.0M639.4 586.7v4.0" stroke="#17a8ae" stroke-width="0.9" fill="none"/><line x1="528.90" y1="458.10" x2="540.50" y2="458.10" stroke="#e06a60" stroke-width="1.0"/><line x1="534.70" y1="455.80" x2="534.70" y2="460.40" stroke="#e06a60" stroke-width="0.7"/><line x1="528.90" y1="469.30" x2="540.50" y2="469.30" stroke="#17a8ae" stroke-width="1.0"/><line x1="534.70" y1="467.00" x2="534.70" y2="471.60" stroke="#17a8ae" stroke-width="0.7"/><text x="542.30" y="461.00" font-size="8.35" textLength="139.60" lengthAdjust="spacingAndGlyphs" fill="#444">Low E02 signatures group (<tspan font-style="italic">n</tspan> = 188)</text><text x="542.30" y="472.20" font-size="8.35" textLength="141.50" lengthAdjust="spacingAndGlyphs" fill="#444">High E02 signatures group (<tspan font-style="italic">n</tspan> = 186)</text></svg></body></html>
